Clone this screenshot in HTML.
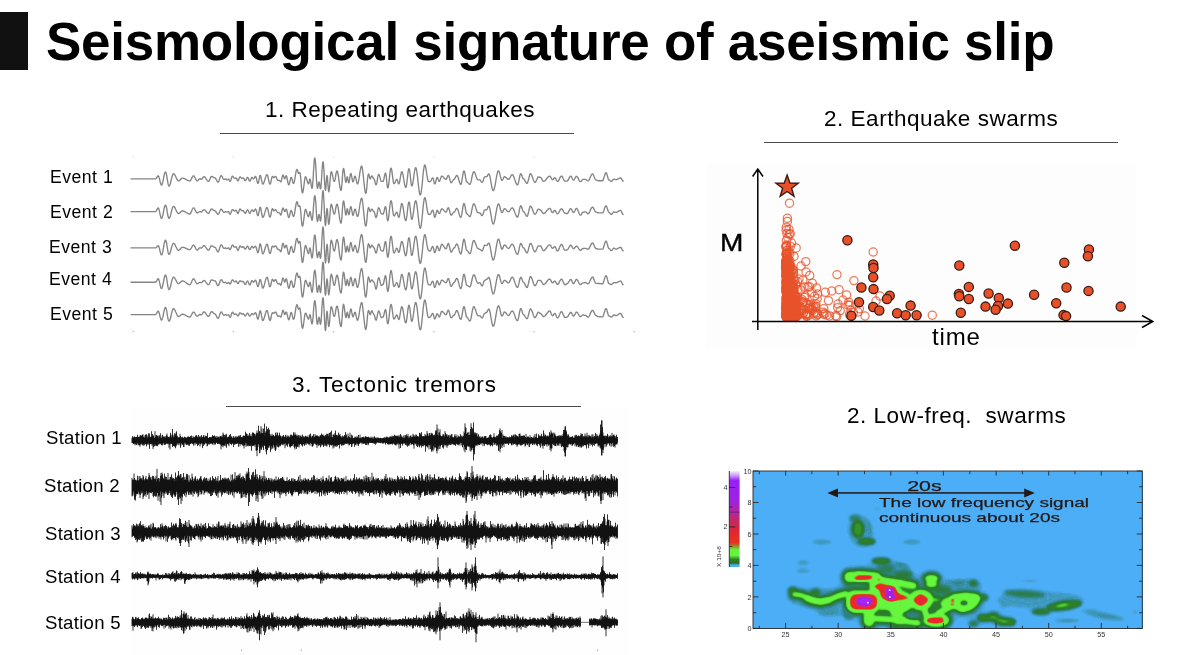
<!DOCTYPE html>
<html><head><meta charset="utf-8"><title>Seismological signature of aseismic slip</title>
<style>
html,body{margin:0;padding:0;background:#fff;}
body{width:1199px;height:655px;overflow:hidden;position:relative;font-family:"Liberation Sans",sans-serif;color:#000;}
.t{position:absolute;white-space:nowrap;line-height:1;will-change:transform;}
#bar{position:absolute;left:0;top:12px;width:28px;height:58px;background:#111;}
#title{left:45.5px;top:14.8px;font-size:53px;font-weight:bold;letter-spacing:-0.27px;}
.h{font-size:22.5px;}
.ev{font-size:17.6px;letter-spacing:0.5px;}
.stn{font-size:18.6px;letter-spacing:0.27px;}
.ln{position:absolute;height:1px;background:#4a4a4a;}
svg{position:absolute;left:0;top:0;}
</style></head>
<body>
<svg width="1199" height="655" viewBox="0 0 1199 655">
<rect x="131" y="408" width="500" height="247" fill="#fefefe"/>
<g fill="#b4b4b4"><rect x="132.6" y="331" width="1.2" height="1.2"/><rect x="232.8" y="331" width="1.2" height="1.2"/><rect x="333" y="331" width="1.2" height="1.2"/><rect x="433.2" y="331" width="1.2" height="1.2"/><rect x="533.4" y="331" width="1.2" height="1.2"/><rect x="633.6" y="331" width="1.2" height="1.2"/></g>
<g fill="#dcdcdc"><rect x="132.6" y="156.5" width="1.2" height="1.2"/><rect x="232.8" y="156.5" width="1.2" height="1.2"/><rect x="333" y="156.5" width="1.2" height="1.2"/><rect x="433.2" y="156.5" width="1.2" height="1.2"/><rect x="533.4" y="156.5" width="1.2" height="1.2"/></g>
<g fill="#a8a8a8"><rect x="241" y="649.6" width="1.1" height="1.3"/><rect x="300.8" y="649.6" width="1.1" height="1.3"/><rect x="597" y="649.6" width="1.1" height="1.3"/></g>
<rect x="707" y="164" width="430" height="185" fill="#fdfdfd"/>
<g fill="none" stroke="#e8532b" stroke-opacity="0.78" stroke-width="1.25">
<circle cx="787.4" cy="300.3" r="4.1"/>
<circle cx="787.5" cy="302.6" r="4.1"/>
<circle cx="786.5" cy="302.4" r="4.1"/>
<circle cx="790.5" cy="315.4" r="4.1"/>
<circle cx="790.0" cy="292.7" r="4.1"/>
<circle cx="787.4" cy="259.6" r="4.1"/>
<circle cx="792.5" cy="313.9" r="4.1"/>
<circle cx="786.4" cy="313.1" r="4.1"/>
<circle cx="787.5" cy="305.3" r="4.1"/>
<circle cx="787.8" cy="296.0" r="4.1"/>
<circle cx="796.6" cy="304.7" r="4.1"/>
<circle cx="799.0" cy="279.0" r="4.1"/>
<circle cx="791.3" cy="309.5" r="4.1"/>
<circle cx="786.2" cy="287.0" r="4.1"/>
<circle cx="787.2" cy="278.1" r="4.1"/>
<circle cx="785.6" cy="266.7" r="4.1"/>
<circle cx="786.7" cy="266.9" r="4.1"/>
<circle cx="800.5" cy="306.9" r="4.1"/>
<circle cx="792.3" cy="310.9" r="4.1"/>
<circle cx="794.0" cy="287.7" r="4.1"/>
<circle cx="786.8" cy="311.6" r="4.1"/>
<circle cx="789.8" cy="313.4" r="4.1"/>
<circle cx="787.4" cy="313.1" r="4.1"/>
<circle cx="789.7" cy="295.8" r="4.1"/>
<circle cx="786.6" cy="310.9" r="4.1"/>
<circle cx="789.9" cy="309.9" r="4.1"/>
<circle cx="786.6" cy="307.0" r="4.1"/>
<circle cx="788.5" cy="315.3" r="4.1"/>
<circle cx="786.6" cy="311.2" r="4.1"/>
<circle cx="787.7" cy="310.1" r="4.1"/>
<circle cx="788.1" cy="311.7" r="4.1"/>
<circle cx="787.1" cy="304.8" r="4.1"/>
<circle cx="787.6" cy="299.6" r="4.1"/>
<circle cx="786.5" cy="314.0" r="4.1"/>
<circle cx="796.0" cy="311.5" r="4.1"/>
<circle cx="792.8" cy="312.9" r="4.1"/>
<circle cx="792.0" cy="298.1" r="4.1"/>
<circle cx="786.1" cy="303.2" r="4.1"/>
<circle cx="786.7" cy="281.1" r="4.1"/>
<circle cx="793.9" cy="310.2" r="4.1"/>
<circle cx="786.2" cy="312.1" r="4.1"/>
<circle cx="797.9" cy="297.5" r="4.1"/>
<circle cx="790.1" cy="317.1" r="4.1"/>
<circle cx="790.7" cy="313.4" r="4.1"/>
<circle cx="786.3" cy="308.1" r="4.1"/>
<circle cx="795.4" cy="295.0" r="4.1"/>
<circle cx="789.1" cy="299.1" r="4.1"/>
<circle cx="787.7" cy="266.9" r="4.1"/>
<circle cx="793.9" cy="317.0" r="4.1"/>
<circle cx="787.6" cy="290.0" r="4.1"/>
<circle cx="786.9" cy="313.0" r="4.1"/>
<circle cx="787.9" cy="269.1" r="4.1"/>
<circle cx="788.9" cy="284.4" r="4.1"/>
<circle cx="791.9" cy="308.4" r="4.1"/>
<circle cx="786.5" cy="274.5" r="4.1"/>
<circle cx="787.0" cy="275.7" r="4.1"/>
<circle cx="788.4" cy="307.4" r="4.1"/>
<circle cx="788.3" cy="315.7" r="4.1"/>
<circle cx="787.8" cy="273.0" r="4.1"/>
<circle cx="787.2" cy="289.6" r="4.1"/>
<circle cx="788.1" cy="305.3" r="4.1"/>
<circle cx="786.2" cy="288.4" r="4.1"/>
<circle cx="786.1" cy="298.2" r="4.1"/>
<circle cx="786.6" cy="292.3" r="4.1"/>
<circle cx="787.7" cy="297.5" r="4.1"/>
<circle cx="792.1" cy="317.3" r="4.1"/>
<circle cx="786.5" cy="313.6" r="4.1"/>
<circle cx="788.6" cy="305.3" r="4.1"/>
<circle cx="787.0" cy="294.5" r="4.1"/>
<circle cx="786.5" cy="305.7" r="4.1"/>
<circle cx="786.4" cy="272.9" r="4.1"/>
<circle cx="792.1" cy="309.5" r="4.1"/>
<circle cx="790.4" cy="277.8" r="4.1"/>
<circle cx="786.2" cy="254.6" r="4.1"/>
<circle cx="788.2" cy="304.9" r="4.1"/>
<circle cx="787.3" cy="296.9" r="4.1"/>
<circle cx="786.9" cy="279.1" r="4.1"/>
<circle cx="795.9" cy="304.9" r="4.1"/>
<circle cx="790.9" cy="316.6" r="4.1"/>
<circle cx="788.0" cy="309.7" r="4.1"/>
<circle cx="786.0" cy="314.4" r="4.1"/>
<circle cx="786.1" cy="280.3" r="4.1"/>
<circle cx="791.7" cy="314.3" r="4.1"/>
<circle cx="787.4" cy="296.6" r="4.1"/>
<circle cx="786.0" cy="276.4" r="4.1"/>
<circle cx="791.3" cy="313.4" r="4.1"/>
<circle cx="791.8" cy="313.4" r="4.1"/>
<circle cx="788.9" cy="302.1" r="4.1"/>
<circle cx="789.4" cy="307.0" r="4.1"/>
<circle cx="791.7" cy="315.6" r="4.1"/>
<circle cx="789.1" cy="314.6" r="4.1"/>
<circle cx="786.4" cy="266.9" r="4.1"/>
<circle cx="788.3" cy="273.1" r="4.1"/>
<circle cx="792.9" cy="304.4" r="4.1"/>
<circle cx="786.6" cy="290.6" r="4.1"/>
<circle cx="790.1" cy="296.0" r="4.1"/>
<circle cx="792.3" cy="269.1" r="4.1"/>
<circle cx="795.1" cy="301.3" r="4.1"/>
<circle cx="788.9" cy="266.9" r="4.1"/>
<circle cx="791.4" cy="315.7" r="4.1"/>
<circle cx="796.0" cy="303.5" r="4.1"/>
<circle cx="786.2" cy="283.7" r="4.1"/>
<circle cx="786.5" cy="308.9" r="4.1"/>
<circle cx="786.4" cy="314.1" r="4.1"/>
<circle cx="789.1" cy="279.0" r="4.1"/>
<circle cx="786.8" cy="256.3" r="4.1"/>
<circle cx="797.4" cy="315.6" r="4.1"/>
<circle cx="786.8" cy="290.1" r="4.1"/>
<circle cx="788.4" cy="302.0" r="4.1"/>
<circle cx="794.7" cy="309.7" r="4.1"/>
<circle cx="791.5" cy="312.6" r="4.1"/>
<circle cx="794.3" cy="301.9" r="4.1"/>
<circle cx="786.5" cy="301.4" r="4.1"/>
<circle cx="788.2" cy="316.9" r="4.1"/>
<circle cx="787.7" cy="306.8" r="4.1"/>
<circle cx="788.0" cy="303.3" r="4.1"/>
<circle cx="793.8" cy="301.3" r="4.1"/>
<circle cx="792.2" cy="310.9" r="4.1"/>
<circle cx="786.3" cy="305.6" r="4.1"/>
<circle cx="793.1" cy="303.9" r="4.1"/>
<circle cx="785.8" cy="263.0" r="4.1"/>
<circle cx="791.4" cy="317.0" r="4.1"/>
<circle cx="793.7" cy="309.3" r="4.1"/>
<circle cx="786.3" cy="289.9" r="4.1"/>
<circle cx="787.9" cy="302.5" r="4.1"/>
<circle cx="791.1" cy="305.4" r="4.1"/>
<circle cx="792.9" cy="313.8" r="4.1"/>
<circle cx="788.4" cy="301.7" r="4.1"/>
<circle cx="786.1" cy="276.7" r="4.1"/>
<circle cx="789.2" cy="282.6" r="4.1"/>
<circle cx="799.0" cy="309.5" r="4.1"/>
<circle cx="785.8" cy="264.2" r="4.1"/>
<circle cx="786.7" cy="290.3" r="4.1"/>
<circle cx="786.7" cy="315.4" r="4.1"/>
<circle cx="787.3" cy="284.7" r="4.1"/>
<circle cx="786.3" cy="306.7" r="4.1"/>
<circle cx="786.0" cy="312.8" r="4.1"/>
<circle cx="791.8" cy="310.6" r="4.1"/>
<circle cx="789.4" cy="302.8" r="4.1"/>
<circle cx="786.8" cy="316.0" r="4.1"/>
<circle cx="787.9" cy="302.3" r="4.1"/>
<circle cx="793.1" cy="313.2" r="4.1"/>
<circle cx="785.8" cy="262.6" r="4.1"/>
<circle cx="786.7" cy="254.0" r="4.1"/>
<circle cx="789.5" cy="309.2" r="4.1"/>
<circle cx="787.7" cy="305.7" r="4.1"/>
<circle cx="786.0" cy="292.1" r="4.1"/>
<circle cx="790.5" cy="313.3" r="4.1"/>
<circle cx="790.5" cy="306.6" r="4.1"/>
<circle cx="787.7" cy="317.2" r="4.1"/>
<circle cx="789.9" cy="291.9" r="4.1"/>
<circle cx="795.5" cy="296.7" r="4.1"/>
<circle cx="786.1" cy="269.2" r="4.1"/>
<circle cx="791.8" cy="288.9" r="4.1"/>
<circle cx="789.6" cy="282.1" r="4.1"/>
<circle cx="789.2" cy="269.9" r="4.1"/>
<circle cx="788.8" cy="286.9" r="4.1"/>
<circle cx="789.5" cy="306.6" r="4.1"/>
<circle cx="786.2" cy="308.7" r="4.1"/>
<circle cx="786.0" cy="308.3" r="4.1"/>
<circle cx="788.3" cy="312.0" r="4.1"/>
<circle cx="788.6" cy="308.8" r="4.1"/>
<circle cx="796.0" cy="301.5" r="4.1"/>
<circle cx="788.5" cy="292.1" r="4.1"/>
<circle cx="789.4" cy="316.1" r="4.1"/>
<circle cx="789.6" cy="311.3" r="4.1"/>
<circle cx="788.5" cy="307.6" r="4.1"/>
<circle cx="791.7" cy="300.7" r="4.1"/>
<circle cx="794.2" cy="299.9" r="4.1"/>
<circle cx="788.4" cy="282.7" r="4.1"/>
<circle cx="786.2" cy="298.4" r="4.1"/>
<circle cx="785.9" cy="261.6" r="4.1"/>
<circle cx="787.5" cy="313.6" r="4.1"/>
<circle cx="788.3" cy="316.2" r="4.1"/>
<circle cx="787.3" cy="301.8" r="4.1"/>
<circle cx="787.1" cy="310.4" r="4.1"/>
<circle cx="788.0" cy="310.5" r="4.1"/>
<circle cx="787.2" cy="317.2" r="4.1"/>
<circle cx="786.4" cy="288.0" r="4.1"/>
<circle cx="787.9" cy="269.7" r="4.1"/>
<circle cx="785.7" cy="260.8" r="4.1"/>
<circle cx="791.7" cy="305.7" r="4.1"/>
<circle cx="794.7" cy="311.6" r="4.1"/>
<circle cx="792.6" cy="290.6" r="4.1"/>
<circle cx="787.2" cy="268.5" r="4.1"/>
<circle cx="786.3" cy="296.9" r="4.1"/>
<circle cx="786.5" cy="316.4" r="4.1"/>
<circle cx="786.3" cy="305.2" r="4.1"/>
<circle cx="787.5" cy="311.1" r="4.1"/>
<circle cx="787.3" cy="285.9" r="4.1"/>
<circle cx="787.9" cy="260.3" r="4.1"/>
<circle cx="786.7" cy="315.0" r="4.1"/>
<circle cx="791.9" cy="296.9" r="4.1"/>
<circle cx="788.8" cy="300.0" r="4.1"/>
<circle cx="788.4" cy="288.1" r="4.1"/>
<circle cx="786.5" cy="311.5" r="4.1"/>
<circle cx="785.7" cy="273.2" r="4.1"/>
<circle cx="791.1" cy="310.9" r="4.1"/>
<circle cx="787.0" cy="301.1" r="4.1"/>
<circle cx="788.7" cy="300.7" r="4.1"/>
<circle cx="789.9" cy="303.8" r="4.1"/>
<circle cx="789.3" cy="279.2" r="4.1"/>
<circle cx="786.2" cy="314.8" r="4.1"/>
<circle cx="788.3" cy="286.8" r="4.1"/>
<circle cx="793.1" cy="305.9" r="4.1"/>
<circle cx="787.1" cy="295.2" r="4.1"/>
<circle cx="796.9" cy="309.2" r="4.1"/>
<circle cx="786.5" cy="264.2" r="4.1"/>
<circle cx="787.1" cy="315.4" r="4.1"/>
<circle cx="786.2" cy="315.7" r="4.1"/>
<circle cx="787.6" cy="293.2" r="4.1"/>
<circle cx="786.9" cy="286.1" r="4.1"/>
<circle cx="786.2" cy="312.5" r="4.1"/>
<circle cx="786.2" cy="309.9" r="4.1"/>
<circle cx="791.7" cy="310.5" r="4.1"/>
<circle cx="794.8" cy="307.9" r="4.1"/>
<circle cx="790.4" cy="264.8" r="4.1"/>
<circle cx="791.9" cy="305.4" r="4.1"/>
<circle cx="794.3" cy="309.5" r="4.1"/>
<circle cx="794.3" cy="311.5" r="4.1"/>
<circle cx="788.6" cy="306.9" r="4.1"/>
<circle cx="788.0" cy="284.0" r="4.1"/>
<circle cx="787.9" cy="279.5" r="4.1"/>
<circle cx="788.0" cy="313.4" r="4.1"/>
<circle cx="795.2" cy="310.6" r="4.1"/>
<circle cx="787.9" cy="299.9" r="4.1"/>
<circle cx="788.5" cy="283.2" r="4.1"/>
<circle cx="786.2" cy="300.9" r="4.1"/>
<circle cx="786.2" cy="315.7" r="4.1"/>
<circle cx="791.5" cy="315.6" r="4.1"/>
<circle cx="786.4" cy="288.7" r="4.1"/>
<circle cx="794.6" cy="311.6" r="4.1"/>
<circle cx="787.8" cy="287.1" r="4.1"/>
<circle cx="787.2" cy="308.8" r="4.1"/>
<circle cx="788.7" cy="303.2" r="4.1"/>
<circle cx="789.1" cy="291.6" r="4.1"/>
<circle cx="791.9" cy="306.4" r="4.1"/>
<circle cx="788.4" cy="277.2" r="4.1"/>
<circle cx="791.0" cy="271.4" r="4.1"/>
<circle cx="788.5" cy="301.9" r="4.1"/>
<circle cx="791.1" cy="306.0" r="4.1"/>
<circle cx="789.2" cy="295.0" r="4.1"/>
<circle cx="788.8" cy="312.7" r="4.1"/>
<circle cx="795.3" cy="316.2" r="4.1"/>
<circle cx="788.5" cy="286.1" r="4.1"/>
<circle cx="786.5" cy="316.1" r="4.1"/>
<circle cx="785.7" cy="267.1" r="4.1"/>
<circle cx="788.2" cy="313.2" r="4.1"/>
<circle cx="790.5" cy="298.5" r="4.1"/>
<circle cx="786.8" cy="313.5" r="4.1"/>
<circle cx="786.9" cy="300.8" r="4.1"/>
<circle cx="787.6" cy="311.2" r="4.1"/>
<circle cx="791.9" cy="308.7" r="4.1"/>
<circle cx="794.0" cy="303.7" r="4.1"/>
<circle cx="793.1" cy="283.6" r="4.1"/>
<circle cx="787.2" cy="301.8" r="4.1"/>
<circle cx="786.8" cy="278.0" r="4.1"/>
<circle cx="786.7" cy="317.3" r="4.1"/>
<circle cx="787.1" cy="284.0" r="4.1"/>
<circle cx="790.3" cy="297.9" r="4.1"/>
<circle cx="786.9" cy="311.2" r="4.1"/>
<circle cx="787.7" cy="296.2" r="4.1"/>
<circle cx="792.9" cy="301.4" r="4.1"/>
<circle cx="786.0" cy="281.3" r="4.1"/>
<circle cx="790.5" cy="281.2" r="4.1"/>
<circle cx="786.2" cy="310.9" r="4.1"/>
<circle cx="786.2" cy="303.8" r="4.1"/>
<circle cx="793.5" cy="298.9" r="4.1"/>
<circle cx="786.9" cy="284.8" r="4.1"/>
<circle cx="785.8" cy="265.3" r="4.1"/>
<circle cx="790.2" cy="312.6" r="4.1"/>
<circle cx="787.8" cy="313.9" r="4.1"/>
<circle cx="789.3" cy="309.7" r="4.1"/>
<circle cx="787.5" cy="291.1" r="4.1"/>
<circle cx="787.1" cy="293.1" r="4.1"/>
<circle cx="786.3" cy="307.0" r="4.1"/>
<circle cx="794.2" cy="280.3" r="4.1"/>
<circle cx="794.2" cy="317.2" r="4.1"/>
<circle cx="786.7" cy="300.1" r="4.1"/>
<circle cx="786.0" cy="269.5" r="4.1"/>
<circle cx="792.6" cy="310.3" r="4.1"/>
<circle cx="792.2" cy="308.9" r="4.1"/>
<circle cx="786.7" cy="312.8" r="4.1"/>
<circle cx="787.0" cy="256.6" r="4.1"/>
<circle cx="789.1" cy="309.0" r="4.1"/>
<circle cx="791.7" cy="314.3" r="4.1"/>
<circle cx="795.7" cy="313.3" r="4.1"/>
<circle cx="789.4" cy="315.5" r="4.1"/>
<circle cx="793.7" cy="306.5" r="4.1"/>
<circle cx="787.3" cy="302.5" r="4.1"/>
<circle cx="789.5" cy="281.4" r="4.1"/>
<circle cx="787.3" cy="309.0" r="4.1"/>
<circle cx="787.2" cy="292.2" r="4.1"/>
<circle cx="795.6" cy="284.8" r="4.1"/>
<circle cx="791.2" cy="297.8" r="4.1"/>
<circle cx="787.0" cy="295.4" r="4.1"/>
<circle cx="786.3" cy="307.5" r="4.1"/>
<circle cx="789.7" cy="280.9" r="4.1"/>
<circle cx="788.3" cy="313.9" r="4.1"/>
<circle cx="795.6" cy="300.8" r="4.1"/>
<circle cx="786.4" cy="291.3" r="4.1"/>
<circle cx="796.4" cy="302.3" r="4.1"/>
<circle cx="790.3" cy="312.9" r="4.1"/>
<circle cx="790.3" cy="312.9" r="4.1"/>
<circle cx="788.1" cy="292.4" r="4.1"/>
<circle cx="786.4" cy="261.9" r="4.1"/>
<circle cx="787.5" cy="314.7" r="4.1"/>
<circle cx="786.9" cy="268.3" r="4.1"/>
<circle cx="795.2" cy="300.2" r="4.1"/>
<circle cx="797.6" cy="281.8" r="4.1"/>
<circle cx="788.2" cy="314.8" r="4.1"/>
<circle cx="786.1" cy="269.8" r="4.1"/>
<circle cx="788.0" cy="280.2" r="4.1"/>
<circle cx="786.7" cy="300.8" r="4.1"/>
<circle cx="787.4" cy="261.1" r="4.1"/>
<circle cx="786.9" cy="294.1" r="4.1"/>
<circle cx="789.2" cy="307.4" r="4.1"/>
<circle cx="793.7" cy="317.2" r="4.1"/>
<circle cx="786.4" cy="307.2" r="4.1"/>
<circle cx="791.0" cy="302.1" r="4.1"/>
<circle cx="792.3" cy="295.9" r="4.1"/>
<circle cx="786.4" cy="281.5" r="4.1"/>
<circle cx="787.5" cy="306.4" r="4.1"/>
<circle cx="788.8" cy="287.7" r="4.1"/>
<circle cx="789.3" cy="303.5" r="4.1"/>
<circle cx="786.5" cy="276.9" r="4.1"/>
<circle cx="787.4" cy="300.0" r="4.1"/>
<circle cx="795.0" cy="301.9" r="4.1"/>
<circle cx="786.9" cy="316.3" r="4.1"/>
<circle cx="791.5" cy="289.8" r="4.1"/>
<circle cx="788.2" cy="288.2" r="4.1"/>
<circle cx="787.9" cy="298.6" r="4.1"/>
<circle cx="787.8" cy="302.8" r="4.1"/>
<circle cx="791.3" cy="301.8" r="4.1"/>
<circle cx="794.5" cy="311.9" r="4.1"/>
<circle cx="794.1" cy="294.5" r="4.1"/>
<circle cx="790.8" cy="306.0" r="4.1"/>
<circle cx="786.6" cy="288.7" r="4.1"/>
<circle cx="785.8" cy="268.4" r="4.1"/>
<circle cx="789.8" cy="314.7" r="4.1"/>
<circle cx="795.6" cy="317.5" r="4.1"/>
<circle cx="786.9" cy="316.1" r="4.1"/>
<circle cx="794.7" cy="306.9" r="4.1"/>
<circle cx="786.1" cy="316.8" r="4.1"/>
<circle cx="786.9" cy="303.0" r="4.1"/>
<circle cx="797.4" cy="304.1" r="4.1"/>
<circle cx="786.0" cy="269.8" r="4.1"/>
<circle cx="790.4" cy="308.3" r="4.1"/>
<circle cx="793.6" cy="273.0" r="4.1"/>
<circle cx="793.6" cy="296.5" r="4.1"/>
<circle cx="786.1" cy="315.1" r="4.1"/>
<circle cx="789.1" cy="269.1" r="4.1"/>
<circle cx="789.0" cy="314.5" r="4.1"/>
<circle cx="794.5" cy="305.1" r="4.1"/>
<circle cx="786.9" cy="291.5" r="4.1"/>
<circle cx="791.8" cy="313.3" r="4.1"/>
<circle cx="789.8" cy="307.7" r="4.1"/>
<circle cx="793.6" cy="298.8" r="4.1"/>
<circle cx="792.3" cy="294.4" r="4.1"/>
<circle cx="794.6" cy="296.0" r="4.1"/>
<circle cx="787.4" cy="301.7" r="4.1"/>
<circle cx="788.1" cy="298.3" r="4.1"/>
<circle cx="795.9" cy="315.6" r="4.1"/>
<circle cx="786.7" cy="310.6" r="4.1"/>
<circle cx="793.1" cy="269.8" r="4.1"/>
<circle cx="786.1" cy="304.5" r="4.1"/>
<circle cx="786.8" cy="261.9" r="4.1"/>
<circle cx="786.5" cy="300.4" r="4.1"/>
<circle cx="787.1" cy="295.0" r="4.1"/>
<circle cx="789.7" cy="302.2" r="4.1"/>
<circle cx="790.5" cy="293.3" r="4.1"/>
<circle cx="785.9" cy="253.9" r="4.1"/>
<circle cx="789.6" cy="313.7" r="4.1"/>
<circle cx="786.6" cy="305.3" r="4.1"/>
<circle cx="789.7" cy="284.6" r="4.1"/>
<circle cx="791.3" cy="303.4" r="4.1"/>
<circle cx="787.7" cy="316.7" r="4.1"/>
<circle cx="789.0" cy="299.6" r="4.1"/>
<circle cx="790.4" cy="314.0" r="4.1"/>
<circle cx="793.8" cy="305.3" r="4.1"/>
<circle cx="787.0" cy="267.6" r="4.1"/>
<circle cx="787.9" cy="284.6" r="4.1"/>
<circle cx="787.0" cy="314.2" r="4.1"/>
<circle cx="786.9" cy="297.1" r="4.1"/>
<circle cx="793.3" cy="298.8" r="4.1"/>
<circle cx="792.0" cy="311.3" r="4.1"/>
<circle cx="790.3" cy="285.1" r="4.1"/>
<circle cx="787.9" cy="306.4" r="4.1"/>
<circle cx="794.5" cy="316.6" r="4.1"/>
<circle cx="789.4" cy="308.8" r="4.1"/>
<circle cx="796.4" cy="316.7" r="4.1"/>
<circle cx="789.8" cy="307.0" r="4.1"/>
<circle cx="786.2" cy="316.8" r="4.1"/>
<circle cx="789.5" cy="289.7" r="4.1"/>
<circle cx="786.6" cy="311.4" r="4.1"/>
<circle cx="786.7" cy="304.5" r="4.1"/>
<circle cx="787.1" cy="308.9" r="4.1"/>
<circle cx="793.5" cy="316.6" r="4.1"/>
<circle cx="786.1" cy="308.7" r="4.1"/>
<circle cx="790.8" cy="298.7" r="4.1"/>
<circle cx="787.5" cy="307.0" r="4.1"/>
<circle cx="787.2" cy="285.6" r="4.1"/>
<circle cx="791.0" cy="308.5" r="4.1"/>
<circle cx="790.2" cy="312.7" r="4.1"/>
<circle cx="786.9" cy="305.1" r="4.1"/>
<circle cx="786.0" cy="275.8" r="4.1"/>
<circle cx="787.2" cy="315.9" r="4.1"/>
<circle cx="788.5" cy="310.8" r="4.1"/>
<circle cx="786.7" cy="307.0" r="4.1"/>
<circle cx="790.2" cy="310.9" r="4.1"/>
<circle cx="792.6" cy="308.1" r="4.1"/>
<circle cx="785.6" cy="267.6" r="4.1"/>
<circle cx="794.0" cy="307.3" r="4.1"/>
<circle cx="786.9" cy="286.6" r="4.1"/>
<circle cx="789.7" cy="316.3" r="4.1"/>
<circle cx="786.1" cy="314.1" r="4.1"/>
<circle cx="790.4" cy="309.6" r="4.1"/>
<circle cx="786.4" cy="291.7" r="4.1"/>
<circle cx="786.7" cy="290.4" r="4.1"/>
<circle cx="790.9" cy="314.2" r="4.1"/>
<circle cx="795.9" cy="306.6" r="4.1"/>
<circle cx="788.3" cy="310.2" r="4.1"/>
<circle cx="786.1" cy="317.0" r="4.1"/>
<circle cx="788.0" cy="282.8" r="4.1"/>
<circle cx="794.9" cy="310.1" r="4.1"/>
<circle cx="792.0" cy="312.4" r="4.1"/>
<circle cx="789.0" cy="252.3" r="4.1"/>
<circle cx="790.1" cy="296.5" r="4.1"/>
<circle cx="789.8" cy="316.2" r="4.1"/>
<circle cx="790.9" cy="310.6" r="4.1"/>
<circle cx="787.5" cy="313.7" r="4.1"/>
<circle cx="790.0" cy="315.4" r="4.1"/>
<circle cx="786.4" cy="299.2" r="4.1"/>
<circle cx="787.9" cy="292.2" r="4.1"/>
<circle cx="786.6" cy="307.1" r="4.1"/>
<circle cx="787.2" cy="316.3" r="4.1"/>
<circle cx="790.1" cy="304.2" r="4.1"/>
<circle cx="786.1" cy="308.5" r="4.1"/>
<circle cx="788.0" cy="311.1" r="4.1"/>
<circle cx="786.5" cy="304.2" r="4.1"/>
<circle cx="793.4" cy="308.0" r="4.1"/>
<circle cx="792.8" cy="286.5" r="4.1"/>
<circle cx="791.7" cy="297.1" r="4.1"/>
<circle cx="786.8" cy="280.3" r="4.1"/>
<circle cx="791.1" cy="307.4" r="4.1"/>
<circle cx="786.1" cy="314.4" r="4.1"/>
<circle cx="786.9" cy="308.1" r="4.1"/>
<circle cx="791.8" cy="313.0" r="4.1"/>
<circle cx="786.6" cy="317.5" r="4.1"/>
<circle cx="787.2" cy="311.8" r="4.1"/>
<circle cx="788.5" cy="300.8" r="4.1"/>
<circle cx="788.0" cy="280.2" r="4.1"/>
<circle cx="801.4" cy="309.0" r="4.1"/>
<circle cx="786.9" cy="291.1" r="4.1"/>
<circle cx="788.9" cy="293.1" r="4.1"/>
<circle cx="794.0" cy="281.0" r="4.1"/>
<circle cx="786.4" cy="297.1" r="4.1"/>
<circle cx="794.0" cy="307.8" r="4.1"/>
<circle cx="790.4" cy="311.8" r="4.1"/>
<circle cx="787.0" cy="302.4" r="4.1"/>
<circle cx="786.2" cy="315.2" r="4.1"/>
<circle cx="786.3" cy="304.9" r="4.1"/>
<circle cx="787.6" cy="313.8" r="4.1"/>
<circle cx="795.0" cy="316.3" r="4.1"/>
<circle cx="789.8" cy="307.0" r="4.1"/>
<circle cx="786.7" cy="291.1" r="4.1"/>
<circle cx="786.9" cy="309.0" r="4.1"/>
<circle cx="790.4" cy="280.5" r="4.1"/>
<circle cx="788.0" cy="306.0" r="4.1"/>
<circle cx="788.3" cy="280.2" r="4.1"/>
<circle cx="795.2" cy="314.7" r="4.1"/>
<circle cx="791.3" cy="313.2" r="4.1"/>
<circle cx="792.8" cy="309.5" r="4.1"/>
<circle cx="794.8" cy="296.5" r="4.1"/>
<circle cx="796.8" cy="316.5" r="4.1"/>
<circle cx="792.2" cy="316.6" r="4.1"/>
<circle cx="798.3" cy="314.8" r="4.1"/>
<circle cx="790.4" cy="303.6" r="4.1"/>
<circle cx="789.9" cy="279.2" r="4.1"/>
<circle cx="786.8" cy="307.1" r="4.1"/>
<circle cx="789.5" cy="294.1" r="4.1"/>
<circle cx="788.8" cy="300.9" r="4.1"/>
<circle cx="793.8" cy="313.5" r="4.1"/>
<circle cx="789.3" cy="303.4" r="4.1"/>
<circle cx="791.0" cy="300.0" r="4.1"/>
<circle cx="786.8" cy="312.1" r="4.1"/>
<circle cx="787.6" cy="311.2" r="4.1"/>
<circle cx="792.8" cy="309.7" r="4.1"/>
<circle cx="787.6" cy="305.4" r="4.1"/>
<circle cx="787.6" cy="306.3" r="4.1"/>
<circle cx="787.2" cy="316.3" r="4.1"/>
<circle cx="796.1" cy="297.0" r="4.1"/>
<circle cx="790.8" cy="290.9" r="4.1"/>
<circle cx="790.3" cy="290.4" r="4.1"/>
<circle cx="787.4" cy="316.9" r="4.1"/>
<circle cx="786.2" cy="308.2" r="4.1"/>
<circle cx="788.6" cy="302.3" r="4.1"/>
<circle cx="793.7" cy="317.3" r="4.1"/>
<circle cx="790.0" cy="284.5" r="4.1"/>
<circle cx="789.2" cy="306.8" r="4.1"/>
<circle cx="790.2" cy="286.8" r="4.1"/>
<circle cx="796.2" cy="315.3" r="4.1"/>
<circle cx="787.2" cy="291.8" r="4.1"/>
<circle cx="785.6" cy="267.0" r="4.1"/>
<circle cx="791.0" cy="312.1" r="4.1"/>
<circle cx="788.6" cy="282.5" r="4.1"/>
<circle cx="789.3" cy="296.2" r="4.1"/>
<circle cx="794.3" cy="309.4" r="4.1"/>
<circle cx="789.2" cy="312.5" r="4.1"/>
<circle cx="787.9" cy="293.6" r="4.1"/>
<circle cx="789.3" cy="315.2" r="4.1"/>
<circle cx="787.4" cy="317.3" r="4.1"/>
<circle cx="787.2" cy="309.4" r="4.1"/>
<circle cx="793.3" cy="312.7" r="4.1"/>
<circle cx="786.9" cy="288.0" r="4.1"/>
<circle cx="786.3" cy="291.7" r="4.1"/>
<circle cx="799.5" cy="312.3" r="4.1"/>
<circle cx="786.5" cy="310.8" r="4.1"/>
<circle cx="795.9" cy="309.3" r="4.1"/>
<circle cx="796.9" cy="314.1" r="4.1"/>
<circle cx="792.1" cy="295.8" r="4.1"/>
<circle cx="787.3" cy="276.8" r="4.1"/>
<circle cx="794.4" cy="299.9" r="4.1"/>
<circle cx="788.8" cy="304.8" r="4.1"/>
<circle cx="792.1" cy="307.3" r="4.1"/>
<circle cx="793.1" cy="302.3" r="4.1"/>
<circle cx="787.4" cy="298.6" r="4.1"/>
<circle cx="792.4" cy="314.0" r="4.1"/>
<circle cx="797.9" cy="289.4" r="4.1"/>
<circle cx="786.9" cy="289.5" r="4.1"/>
<circle cx="796.9" cy="306.7" r="4.1"/>
<circle cx="786.3" cy="288.0" r="4.1"/>
<circle cx="786.6" cy="279.0" r="4.1"/>
<circle cx="788.6" cy="259.2" r="4.1"/>
<circle cx="789.8" cy="302.5" r="4.1"/>
<circle cx="787.7" cy="274.6" r="4.1"/>
<circle cx="786.7" cy="282.9" r="4.1"/>
<circle cx="787.5" cy="301.4" r="4.1"/>
<circle cx="786.5" cy="310.6" r="4.1"/>
<circle cx="786.2" cy="300.5" r="4.1"/>
<circle cx="787.6" cy="311.7" r="4.1"/>
<circle cx="790.6" cy="286.6" r="4.1"/>
<circle cx="788.3" cy="267.9" r="4.1"/>
<circle cx="786.7" cy="307.9" r="4.1"/>
<circle cx="788.7" cy="275.5" r="4.1"/>
<circle cx="793.1" cy="313.3" r="4.1"/>
<circle cx="785.7" cy="268.8" r="4.1"/>
<circle cx="796.6" cy="312.6" r="4.1"/>
<circle cx="791.0" cy="290.2" r="4.1"/>
<circle cx="786.5" cy="294.3" r="4.1"/>
<circle cx="789.9" cy="317.2" r="4.1"/>
<circle cx="788.4" cy="310.6" r="4.1"/>
<circle cx="794.4" cy="313.3" r="4.1"/>
<circle cx="795.0" cy="314.6" r="4.1"/>
<circle cx="796.2" cy="308.2" r="4.1"/>
<circle cx="788.8" cy="289.5" r="4.1"/>
<circle cx="788.2" cy="309.7" r="4.1"/>
<circle cx="788.4" cy="305.9" r="4.1"/>
<circle cx="787.3" cy="304.7" r="4.1"/>
<circle cx="792.8" cy="308.6" r="4.1"/>
<circle cx="786.6" cy="274.7" r="4.1"/>
<circle cx="786.7" cy="250.8" r="4.1"/>
<circle cx="786.7" cy="253.5" r="4.1"/>
<circle cx="788.5" cy="279.9" r="4.1"/>
<circle cx="792.0" cy="282.2" r="4.1"/>
<circle cx="789.0" cy="273.6" r="4.1"/>
<circle cx="787.3" cy="290.7" r="4.1"/>
<circle cx="787.2" cy="285.4" r="4.1"/>
<circle cx="786.2" cy="230.2" r="4.1"/>
<circle cx="788.6" cy="269.7" r="4.1"/>
<circle cx="786.6" cy="281.4" r="4.1"/>
<circle cx="786.1" cy="246.9" r="4.1"/>
<circle cx="787.2" cy="283.6" r="4.1"/>
<circle cx="789.8" cy="254.0" r="4.1"/>
<circle cx="788.0" cy="276.2" r="4.1"/>
<circle cx="785.7" cy="246.6" r="4.1"/>
<circle cx="787.0" cy="282.6" r="4.1"/>
<circle cx="788.8" cy="269.9" r="4.1"/>
<circle cx="790.4" cy="246.4" r="4.1"/>
<circle cx="786.1" cy="272.0" r="4.1"/>
<circle cx="787.4" cy="283.0" r="4.1"/>
<circle cx="787.4" cy="284.4" r="4.1"/>
<circle cx="788.4" cy="273.4" r="4.1"/>
<circle cx="793.7" cy="289.7" r="4.1"/>
<circle cx="787.1" cy="256.7" r="4.1"/>
<circle cx="788.3" cy="267.9" r="4.1"/>
<circle cx="794.0" cy="290.6" r="4.1"/>
<circle cx="787.4" cy="281.7" r="4.1"/>
<circle cx="788.3" cy="287.1" r="4.1"/>
<circle cx="794.0" cy="287.3" r="4.1"/>
<circle cx="787.0" cy="288.9" r="4.1"/>
<circle cx="787.1" cy="264.9" r="4.1"/>
<circle cx="786.2" cy="288.3" r="4.1"/>
<circle cx="788.3" cy="272.5" r="4.1"/>
<circle cx="789.0" cy="286.2" r="4.1"/>
<circle cx="789.7" cy="265.7" r="4.1"/>
<circle cx="789.3" cy="289.5" r="4.1"/>
<circle cx="787.4" cy="291.7" r="4.1"/>
<circle cx="789.2" cy="234.2" r="4.1"/>
<circle cx="786.1" cy="283.4" r="4.1"/>
<circle cx="787.7" cy="276.7" r="4.1"/>
<circle cx="786.3" cy="260.9" r="4.1"/>
<circle cx="786.8" cy="277.8" r="4.1"/>
<circle cx="786.3" cy="275.2" r="4.1"/>
<circle cx="786.3" cy="290.1" r="4.1"/>
<circle cx="787.6" cy="285.0" r="4.1"/>
<circle cx="789.3" cy="286.3" r="4.1"/>
<circle cx="787.2" cy="290.9" r="4.1"/>
<circle cx="786.5" cy="280.0" r="4.1"/>
<circle cx="787.8" cy="279.7" r="4.1"/>
<circle cx="790.2" cy="289.8" r="4.1"/>
<circle cx="790.2" cy="288.6" r="4.1"/>
<circle cx="793.7" cy="277.1" r="4.1"/>
<circle cx="787.1" cy="273.1" r="4.1"/>
<circle cx="790.4" cy="266.5" r="4.1"/>
<circle cx="786.0" cy="288.7" r="4.1"/>
<circle cx="789.8" cy="265.5" r="4.1"/>
<circle cx="788.7" cy="288.6" r="4.1"/>
<circle cx="787.7" cy="291.4" r="4.1"/>
<circle cx="786.3" cy="284.8" r="4.1"/>
<circle cx="793.5" cy="271.4" r="4.1"/>
<circle cx="790.1" cy="291.1" r="4.1"/>
<circle cx="787.2" cy="290.4" r="4.1"/>
<circle cx="786.7" cy="289.6" r="4.1"/>
<circle cx="791.5" cy="284.0" r="4.1"/>
<circle cx="787.5" cy="270.8" r="4.1"/>
<circle cx="786.9" cy="233.5" r="4.1"/>
<circle cx="786.4" cy="245.2" r="4.1"/>
<circle cx="786.8" cy="265.1" r="4.1"/>
<circle cx="786.7" cy="282.8" r="4.1"/>
<circle cx="787.2" cy="279.0" r="4.1"/>
<circle cx="787.0" cy="280.7" r="4.1"/>
<circle cx="787.3" cy="291.0" r="4.1"/>
<circle cx="790.0" cy="290.7" r="4.1"/>
<circle cx="787.7" cy="276.1" r="4.1"/>
<circle cx="787.1" cy="287.0" r="4.1"/>
<circle cx="786.2" cy="282.7" r="4.1"/>
<circle cx="786.8" cy="278.8" r="4.1"/>
<circle cx="786.6" cy="264.3" r="4.1"/>
<circle cx="787.5" cy="291.8" r="4.1"/>
<circle cx="787.1" cy="250.3" r="4.1"/>
<circle cx="786.3" cy="227.2" r="4.1"/>
<circle cx="788.0" cy="282.8" r="4.1"/>
<circle cx="786.8" cy="273.2" r="4.1"/>
<circle cx="788.0" cy="284.4" r="4.1"/>
<circle cx="787.5" cy="277.5" r="4.1"/>
<circle cx="789.1" cy="290.9" r="4.1"/>
<circle cx="786.2" cy="286.2" r="4.1"/>
<circle cx="786.7" cy="260.2" r="4.1"/>
<circle cx="787.2" cy="252.7" r="4.1"/>
<circle cx="787.1" cy="285.3" r="4.1"/>
<circle cx="788.5" cy="290.2" r="4.1"/>
<circle cx="794.0" cy="256.4" r="4.1"/>
<circle cx="786.9" cy="284.4" r="4.1"/>
<circle cx="789.8" cy="260.9" r="4.1"/>
<circle cx="788.3" cy="290.8" r="4.1"/>
<circle cx="789.2" cy="291.0" r="4.1"/>
<circle cx="788.2" cy="275.9" r="4.1"/>
<circle cx="791.8" cy="271.6" r="4.1"/>
<circle cx="787.8" cy="237.5" r="4.1"/>
<circle cx="787.9" cy="291.9" r="4.1"/>
<circle cx="788.9" cy="281.2" r="4.1"/>
<circle cx="788.5" cy="286.7" r="4.1"/>
<circle cx="786.2" cy="261.6" r="4.1"/>
<circle cx="787.3" cy="264.1" r="4.1"/>
<circle cx="787.0" cy="280.1" r="4.1"/>
<circle cx="787.3" cy="289.5" r="4.1"/>
<circle cx="786.8" cy="265.5" r="4.1"/>
<circle cx="786.2" cy="289.5" r="4.1"/>
<circle cx="790.0" cy="270.1" r="4.1"/>
<circle cx="816.1" cy="315.8" r="4.1"/>
<circle cx="803.4" cy="313.3" r="4.1"/>
<circle cx="859.4" cy="308.8" r="4.1"/>
<circle cx="849.5" cy="314.6" r="4.1"/>
<circle cx="811.2" cy="309.3" r="4.1"/>
<circle cx="835.7" cy="315.7" r="4.1"/>
<circle cx="840.3" cy="310.6" r="4.1"/>
<circle cx="801.6" cy="311.3" r="4.1"/>
<circle cx="810.0" cy="305.8" r="4.1"/>
<circle cx="851.0" cy="310.2" r="4.1"/>
<circle cx="823.2" cy="312.1" r="4.1"/>
<circle cx="829.6" cy="315.9" r="4.1"/>
<circle cx="826.8" cy="315.2" r="4.1"/>
<circle cx="817.7" cy="314.7" r="4.1"/>
<circle cx="809.1" cy="315.2" r="4.1"/>
<circle cx="809.2" cy="308.0" r="4.1"/>
<circle cx="814.9" cy="312.1" r="4.1"/>
<circle cx="817.2" cy="298.5" r="4.1"/>
<circle cx="809.4" cy="308.2" r="4.1"/>
<circle cx="813.4" cy="306.5" r="4.1"/>
<circle cx="823.7" cy="314.3" r="4.1"/>
<circle cx="806.8" cy="303.9" r="4.1"/>
<circle cx="817.3" cy="314.0" r="4.1"/>
<circle cx="802.3" cy="299.6" r="4.1"/>
<circle cx="810.0" cy="304.4" r="4.1"/>
<circle cx="811.8" cy="307.4" r="4.1"/>
<circle cx="816.6" cy="287.9" r="4.1"/>
<circle cx="812.6" cy="310.3" r="4.1"/>
<circle cx="806.0" cy="303.0" r="4.1"/>
<circle cx="803.1" cy="313.3" r="4.1"/>
<circle cx="836.7" cy="316.6" r="4.1"/>
<circle cx="823.8" cy="308.6" r="4.1"/>
<circle cx="816.2" cy="312.9" r="4.1"/>
<circle cx="804.1" cy="286.9" r="4.1"/>
<circle cx="828.5" cy="300.6" r="4.1"/>
<circle cx="803.0" cy="301.7" r="4.1"/>
<circle cx="805.7" cy="314.8" r="4.1"/>
<circle cx="815.5" cy="307.6" r="4.1"/>
<circle cx="803.4" cy="302.5" r="4.1"/>
<circle cx="817.6" cy="294.0" r="4.1"/>
<circle cx="849.9" cy="305.3" r="4.1"/>
<circle cx="809.6" cy="286.8" r="4.1"/>
<circle cx="825.1" cy="313.6" r="4.1"/>
<circle cx="838.0" cy="304.0" r="4.1"/>
<circle cx="806.8" cy="314.1" r="4.1"/>
<circle cx="801.4" cy="309.3" r="4.1"/>
<circle cx="806.6" cy="313.5" r="4.1"/>
<circle cx="806.5" cy="315.6" r="4.1"/>
<circle cx="813.6" cy="313.8" r="4.1"/>
<circle cx="807.4" cy="313.7" r="4.1"/>
<circle cx="814.5" cy="296.3" r="4.1"/>
<circle cx="804.3" cy="297.4" r="4.1"/>
<circle cx="837.7" cy="307.6" r="4.1"/>
<circle cx="815.9" cy="303.8" r="4.1"/>
<circle cx="815.5" cy="306.2" r="4.1"/>
<circle cx="848.8" cy="302.1" r="4.1"/>
<circle cx="806.7" cy="316.4" r="4.1"/>
<circle cx="853.4" cy="312.5" r="4.1"/>
<circle cx="873.2" cy="252.0" r="4.1"/>
<circle cx="932.3" cy="315.2" r="4.1"/>
<circle cx="789.5" cy="203.2" r="4.1"/>
<circle cx="787.4" cy="218.2" r="4.1"/>
<circle cx="787.4" cy="221.4" r="4.1"/>
<circle cx="789.0" cy="229.4" r="4.1"/>
<circle cx="790.3" cy="233.8" r="4.1"/>
<circle cx="786.4" cy="240.3" r="4.1"/>
<circle cx="791.6" cy="243.0" r="4.1"/>
<circle cx="796.2" cy="248.0" r="4.1"/>
<circle cx="786.8" cy="246.0" r="4.1"/>
<circle cx="805.8" cy="261.6" r="4.1"/>
<circle cx="809.7" cy="275.4" r="4.1"/>
<circle cx="812.3" cy="283.2" r="4.1"/>
<circle cx="811.8" cy="292.3" r="4.1"/>
<circle cx="837.0" cy="274.6" r="4.1"/>
<circle cx="853.9" cy="280.6" r="4.1"/>
<circle cx="825.3" cy="292.3" r="4.1"/>
<circle cx="831.8" cy="291.0" r="4.1"/>
<circle cx="839.1" cy="289.7" r="4.1"/>
<circle cx="846.6" cy="294.9" r="4.1"/>
<circle cx="801.0" cy="266.0" r="4.1"/>
<circle cx="806.0" cy="272.0" r="4.1"/>
<circle cx="803.0" cy="280.0" r="4.1"/>
<circle cx="808.0" cy="287.0" r="4.1"/>
<circle cx="805.0" cy="296.0" r="4.1"/>
<circle cx="801.0" cy="290.0" r="4.1"/>
<circle cx="880.0" cy="296.0" r="4.1"/>
<circle cx="876.0" cy="301.0" r="4.1"/>
<circle cx="865.0" cy="316.0" r="4.1"/>
<circle cx="858.0" cy="312.0" r="4.1"/>
<circle cx="848.0" cy="305.0" r="4.1"/>
<circle cx="843.0" cy="300.0" r="4.1"/>
</g>
<path d="M783.2 319 L783.4 262 Q784.5 246 787.6 245 Q791.4 248 794 272 L798 300 L802.5 319 Z" fill="#e8532b" fill-opacity="0.55"/>
<g fill="#e8502a" stroke="#3a1c12" stroke-width="1.3">
<circle cx="959.3" cy="265.5" r="4.6"/>
<circle cx="1014.9" cy="245.8" r="4.6"/>
<circle cx="1088.9" cy="249.4" r="4.6"/>
<circle cx="1087.9" cy="256.3" r="4.6"/>
<circle cx="1064.3" cy="262.7" r="4.6"/>
<circle cx="968.8" cy="286.9" r="4.6"/>
<circle cx="958.9" cy="293.9" r="4.6"/>
<circle cx="959.3" cy="296.3" r="4.6"/>
<circle cx="968.8" cy="299.0" r="4.6"/>
<circle cx="988.6" cy="293.5" r="4.6"/>
<circle cx="998.8" cy="298.0" r="4.6"/>
<circle cx="998.0" cy="306.0" r="4.6"/>
<circle cx="995.6" cy="309.8" r="4.6"/>
<circle cx="985.5" cy="306.6" r="4.6"/>
<circle cx="1007.9" cy="303.6" r="4.6"/>
<circle cx="960.8" cy="312.7" r="4.6"/>
<circle cx="1034.1" cy="294.7" r="4.6"/>
<circle cx="1056.2" cy="303.2" r="4.6"/>
<circle cx="1066.5" cy="287.5" r="4.6"/>
<circle cx="1088.5" cy="290.9" r="4.6"/>
<circle cx="1120.7" cy="306.6" r="4.6"/>
<circle cx="1063.5" cy="315.1" r="4.6"/>
<circle cx="1066.1" cy="316.1" r="4.6"/>
<circle cx="847.4" cy="240.2" r="4.6"/>
<circle cx="873.2" cy="264.4" r="4.6"/>
<circle cx="873.5" cy="268.0" r="4.6"/>
<circle cx="873.2" cy="277.3" r="4.6"/>
<circle cx="873.5" cy="289.1" r="4.6"/>
<circle cx="861.4" cy="287.5" r="4.6"/>
<circle cx="859.0" cy="302.3" r="4.6"/>
<circle cx="851.3" cy="315.8" r="4.6"/>
<circle cx="873.2" cy="307.0" r="4.6"/>
<circle cx="879.3" cy="310.5" r="4.6"/>
<circle cx="889.7" cy="295.7" r="4.6"/>
<circle cx="887.0" cy="299.0" r="4.6"/>
<circle cx="897.1" cy="313.3" r="4.6"/>
<circle cx="905.7" cy="315.2" r="4.6"/>
<circle cx="910.6" cy="305.6" r="4.6"/>
<circle cx="916.6" cy="315.2" r="4.6"/>
<polygon points="787.1,175.0 789.9,183.0 798.3,183.2 791.6,188.3 794.0,196.3 787.1,191.5 780.2,196.3 782.6,188.3 775.9,183.2 784.3,183.0" stroke-width="1.4" stroke-linejoin="miter"/>
</g>
<g stroke="#000" stroke-width="1.5" fill="none">
<path d="M757.8 330V169.5M752.6 176.5L757.8 169L763 176.5"/>
<path d="M752 321.5H1152.5M1142 315.5L1152.8 321.5L1142 327.5"/>
</g>
<g fill="none" stroke="#848484" stroke-width="1.35" stroke-linejoin="round" stroke-linecap="round">
<path d="M131.0 178.9 L131.3 178.9 L131.7 178.9 L132.1 178.9 L132.4 178.9 L132.8 178.9 L133.1 178.9 L133.4 178.9 L133.8 178.9 L134.2 178.9 L134.5 178.9 L134.8 178.9 L135.2 178.9 L135.6 178.9 L135.9 178.9 L136.2 178.9 L136.6 178.9 L136.9 178.9 L137.3 178.9 L137.7 178.9 L138.0 178.9 L138.3 178.9 L138.7 178.9 L139.1 178.9 L139.4 178.9 L139.8 178.9 L140.1 178.9 L140.4 178.9 L140.8 178.9 L141.2 178.9 L141.5 178.9 L141.8 178.9 L142.2 178.9 L142.6 178.9 L142.9 178.9 L143.2 178.9 L143.6 178.9 L143.9 178.9 L144.3 178.9 L144.7 178.9 L145.0 178.9 L145.3 178.9 L145.7 178.9 L146.1 178.9 L146.4 178.9 L146.8 178.9 L147.1 178.9 L147.4 178.9 L147.8 178.9 L148.2 178.9 L148.5 178.9 L148.8 178.9 L149.2 178.9 L149.6 178.9 L149.9 178.9 L150.2 178.9 L150.6 178.9 L150.9 178.9 L151.3 178.9 L151.7 178.9 L152.0 178.9 L152.3 178.9 L152.7 178.9 L153.1 178.9 L153.4 178.9 L153.8 178.9 L154.1 178.9 L154.4 178.9 L154.8 178.9 L155.2 178.9 L155.5 178.9 L155.9 178.8 L156.3 178.3 L156.7 177.7 L157.0 177.1 L157.4 176.5 L157.8 176.0 L158.2 175.9 L158.6 176.2 L158.9 177.0 L159.3 178.2 L159.7 179.7 L160.0 181.3 L160.4 182.8 L160.8 184.0 L161.1 184.8 L161.5 185.1 L161.9 184.8 L162.2 184.1 L162.6 182.8 L163.0 181.2 L163.3 179.4 L163.7 177.6 L164.0 175.8 L164.4 174.2 L164.8 172.9 L165.1 172.2 L165.5 171.9 L165.8 172.2 L166.2 173.3 L166.6 174.8 L166.9 176.8 L167.2 179.0 L167.6 181.2 L167.9 183.2 L168.3 184.7 L168.7 185.8 L169.0 186.1 L169.4 185.9 L169.8 185.3 L170.1 184.3 L170.5 183.0 L170.9 181.5 L171.2 179.9 L171.6 178.3 L172.0 176.8 L172.4 175.5 L172.8 174.5 L173.1 173.9 L173.5 173.7 L173.9 173.8 L174.2 174.1 L174.6 174.5 L174.9 175.1 L175.3 175.7 L175.6 176.5 L176.0 177.3 L176.4 178.1 L176.7 178.9 L177.1 179.5 L177.4 180.1 L177.8 180.5 L178.1 180.8 L178.5 180.9 L178.9 180.8 L179.2 180.7 L179.6 180.4 L180.0 180.1 L180.3 179.7 L180.7 179.3 L181.0 178.9 L181.4 178.6 L181.8 178.3 L182.1 178.2 L182.5 178.1 L182.9 178.1 L183.2 178.2 L183.6 178.3 L184.0 178.4 L184.3 178.5 L184.7 178.7 L185.1 178.9 L185.4 179.1 L185.8 179.3 L186.2 179.5 L186.5 179.7 L186.9 179.9 L187.2 180.1 L187.6 180.3 L188.0 180.5 L188.3 180.6 L188.7 180.7 L189.1 180.8 L189.4 180.9 L189.8 180.9 L190.2 180.8 L190.5 180.4 L190.9 179.9 L191.3 179.2 L191.7 178.4 L192.0 177.6 L192.4 176.9 L192.8 176.4 L193.1 176.0 L193.5 175.9 L193.9 176.0 L194.2 176.4 L194.6 176.9 L195.0 177.6 L195.3 178.4 L195.7 179.2 L196.1 179.9 L196.5 180.4 L196.8 180.8 L197.2 180.9 L197.5 180.8 L197.9 180.6 L198.2 180.2 L198.6 179.8 L198.9 179.4 L199.3 179.0 L199.7 178.8 L200.0 178.7 L200.4 178.9 L200.8 179.2 L201.2 179.4 L201.5 179.3 L201.9 179.0 L202.2 178.6 L202.6 178.1 L202.9 177.5 L203.3 177.1 L203.7 176.8 L204.0 176.7 L204.4 176.8 L204.8 177.0 L205.1 177.4 L205.5 177.9 L205.9 178.4 L206.2 179.1 L206.6 179.7 L207.0 180.2 L207.4 180.7 L207.8 181.1 L208.1 181.3 L208.5 181.4 L208.9 181.2 L209.2 180.7 L209.6 179.9 L210.0 178.9 L210.4 177.9 L210.8 177.1 L211.1 176.6 L211.5 176.4 L211.8 176.4 L212.2 176.5 L212.6 176.7 L212.9 176.9 L213.2 177.2 L213.6 177.4 L213.9 177.6 L214.3 177.8 L214.7 177.9 L215.0 177.9 L215.4 178.1 L215.8 178.5 L216.1 179.2 L216.5 180.0 L216.9 180.8 L217.2 181.5 L217.6 181.9 L218.0 182.1 L218.4 181.9 L218.7 181.4 L219.1 180.5 L219.4 179.5 L219.8 178.3 L220.1 177.3 L220.5 176.4 L220.8 175.9 L221.2 175.7 L221.5 175.8 L221.9 176.2 L222.2 176.8 L222.6 177.6 L222.9 178.3 L223.3 178.9 L223.7 179.3 L224.0 179.4 L224.4 179.3 L224.8 179.2 L225.1 179.0 L225.5 178.9 L225.9 179.0 L226.2 179.4 L226.6 179.8 L227.0 179.9 L227.4 179.8 L227.8 179.5 L228.1 179.2 L228.5 179.1 L228.9 179.4 L229.2 180.2 L229.6 181.1 L230.0 181.4 L230.4 181.1 L230.7 180.4 L231.1 179.3 L231.4 178.2 L231.8 177.1 L232.1 176.4 L232.5 176.1 L232.9 176.3 L233.3 176.9 L233.7 177.6 L234.1 178.2 L234.5 178.4 L234.9 178.3 L235.2 178.2 L235.6 178.0 L236.0 177.9 L236.4 178.2 L236.8 178.9 L237.2 179.9 L237.6 180.6 L238.0 180.9 L238.4 180.5 L238.8 179.5 L239.2 178.3 L239.6 177.3 L240.0 176.9 L240.4 177.0 L240.8 177.4 L241.2 177.9 L241.6 178.3 L242.0 178.4 L242.5 178.2 L243.0 177.9 L243.4 178.1 L243.8 178.6 L244.2 179.3 L244.5 180.0 L244.9 180.5 L245.3 180.7 L245.7 180.5 L246.0 179.9 L246.4 179.1 L246.8 178.2 L247.1 177.6 L247.5 177.4 L247.9 177.6 L248.3 178.3 L248.7 179.2 L249.0 180.2 L249.4 180.9 L249.8 181.1 L250.2 180.9 L250.5 180.2 L250.9 179.2 L251.3 178.3 L251.6 177.6 L252.0 177.4 L252.4 177.6 L252.8 178.2 L253.1 178.7 L253.5 178.9 L253.9 178.7 L254.3 178.0 L254.7 177.3 L255.1 176.6 L255.5 176.4 L255.9 176.7 L256.2 177.7 L256.6 179.1 L256.9 180.7 L257.3 182.1 L257.6 183.1 L258.0 183.4 L258.4 182.9 L258.7 181.4 L259.1 179.4 L259.5 177.4 L259.8 175.9 L260.2 175.4 L260.6 175.8 L260.9 177.0 L261.3 178.8 L261.7 180.7 L262.1 182.5 L262.4 183.7 L262.8 184.1 L263.2 183.9 L263.6 183.4 L263.9 182.5 L264.3 181.4 L264.7 180.1 L265.1 178.7 L265.5 177.4 L265.9 176.3 L266.2 175.4 L266.6 174.9 L267.0 174.7 L267.4 175.1 L267.8 176.1 L268.1 177.6 L268.5 179.4 L268.9 181.2 L269.2 182.7 L269.6 183.7 L270.0 184.1 L270.4 183.7 L270.7 182.7 L271.1 181.1 L271.4 179.4 L271.8 177.8 L272.1 176.8 L272.5 176.4 L272.9 176.7 L273.4 177.4 L273.8 177.7 L274.2 177.5 L274.6 177.1 L275.1 176.6 L275.5 176.4 L275.9 176.6 L276.2 177.2 L276.6 178.0 L276.9 178.8 L277.3 179.6 L277.6 180.2 L278.0 180.4 L278.4 180.4 L278.8 180.4 L279.1 180.4 L279.5 180.4 L279.9 180.8 L280.4 181.5 L280.8 181.9 L281.2 181.4 L281.5 180.2 L281.9 178.4 L282.3 176.7 L282.6 175.4 L283.0 174.9 L283.4 175.5 L283.9 176.9 L284.3 178.3 L284.7 178.9 L285.1 178.4 L285.4 177.3 L285.8 176.2 L286.2 175.7 L286.6 176.2 L286.9 177.4 L287.3 179.3 L287.7 181.3 L288.1 183.2 L288.4 184.4 L288.8 184.9 L289.2 184.4 L289.6 183.0 L290.0 181.2 L290.4 179.3 L290.8 177.9 L291.2 177.4 L291.6 177.8 L292.0 178.9 L292.4 180.4 L292.7 181.9 L293.1 183.0 L293.5 183.4 L293.9 183.1 L294.2 182.1 L294.6 180.5 L294.9 178.6 L295.2 176.4 L295.6 174.2 L295.9 172.3 L296.3 170.7 L296.6 169.7 L297.0 169.4 L297.4 170.0 L297.8 171.4 L298.1 172.8 L298.5 173.4 L298.9 173.2 L299.3 172.7 L299.7 172.4 L300.1 173.2 L300.4 175.4 L300.8 178.7 L301.1 182.7 L301.4 186.6 L301.8 189.9 L302.1 192.1 L302.5 192.9 L302.9 192.3 L303.2 190.5 L303.6 187.9 L304.0 184.8 L304.4 181.7 L304.8 179.1 L305.1 177.3 L305.5 176.7 L305.9 177.0 L306.2 177.8 L306.6 178.9 L307.0 180.3 L307.4 181.7 L307.8 182.8 L308.1 183.6 L308.5 183.9 L308.9 183.2 L309.2 181.4 L309.6 179.6 L310.0 178.9 L310.4 179.8 L310.8 182.2 L311.2 185.1 L311.6 187.5 L312.0 188.4 L312.4 187.2 L312.7 183.9 L313.1 179.0 L313.4 173.2 L313.8 167.3 L314.1 162.4 L314.4 159.1 L314.8 157.9 L315.2 159.4 L315.6 163.6 L316.0 169.8 L316.3 176.5 L316.7 182.7 L317.1 186.9 L317.5 188.4 L317.9 187.4 L318.2 185.2 L318.6 182.9 L319.0 181.9 L319.4 182.9 L319.8 185.4 L320.1 187.9 L320.5 188.9 L320.9 187.6 L321.2 183.8 L321.6 178.3 L321.9 172.3 L322.3 166.8 L322.6 163.0 L323.0 161.7 L323.4 163.1 L323.7 167.1 L324.1 172.9 L324.4 179.2 L324.8 185.0 L325.1 189.0 L325.5 190.4 L325.9 188.2 L326.2 182.9 L326.6 177.6 L327.0 175.4 L327.4 177.0 L327.7 181.1 L328.1 186.2 L328.4 190.3 L328.8 191.9 L329.2 190.5 L329.6 186.8 L330.0 181.8 L330.4 176.8 L330.8 173.1 L331.2 171.7 L331.6 172.1 L332.0 173.1 L332.4 174.7 L332.8 176.6 L333.1 178.4 L333.5 180.0 L333.9 181.0 L334.3 181.4 L334.7 180.9 L335.1 179.4 L335.5 177.3 L335.8 175.0 L336.2 172.9 L336.6 171.4 L337.0 170.9 L337.4 171.3 L337.7 172.4 L338.1 174.3 L338.5 176.6 L338.8 179.3 L339.2 182.0 L339.5 184.7 L339.9 187.0 L340.3 188.9 L340.6 190.0 L341.0 190.4 L341.4 189.3 L341.7 186.3 L342.1 181.8 L342.4 177.0 L342.8 172.5 L343.1 169.5 L343.5 168.4 L343.9 169.1 L344.2 171.0 L344.6 173.8 L344.9 177.0 L345.3 179.8 L345.6 181.7 L346.0 182.4 L346.4 181.0 L346.8 178.1 L347.2 176.7 L347.6 177.6 L348.0 179.8 L348.4 182.0 L348.8 182.9 L349.2 182.0 L349.6 179.6 L350.0 176.7 L350.4 174.3 L350.8 173.4 L351.2 174.0 L351.5 175.5 L351.9 177.7 L352.3 179.8 L352.6 181.3 L353.0 181.9 L353.4 181.3 L353.8 179.9 L354.2 178.1 L354.6 176.7 L355.0 176.1 L355.4 176.5 L355.7 177.6 L356.1 179.1 L356.4 180.9 L356.8 182.4 L357.1 183.5 L357.5 183.9 L357.9 183.5 L358.2 182.5 L358.6 180.8 L359.0 178.7 L359.4 176.3 L359.7 173.7 L360.1 171.3 L360.5 169.2 L360.9 167.5 L361.2 166.5 L361.6 166.1 L362.0 166.7 L362.4 168.3 L362.7 170.8 L363.1 174.1 L363.5 177.8 L363.9 181.7 L364.3 185.4 L364.7 188.7 L365.0 191.2 L365.4 192.8 L365.8 193.4 L366.2 192.4 L366.6 189.7 L367.0 185.8 L367.3 181.5 L367.7 177.6 L368.1 174.9 L368.5 173.9 L368.9 174.6 L369.4 176.4 L369.8 178.2 L370.2 178.9 L370.6 178.5 L371.0 177.4 L371.4 176.3 L371.8 175.9 L372.2 176.1 L372.5 176.7 L372.9 177.4 L373.3 178.2 L373.6 178.7 L374.0 178.9 L374.4 179.5 L374.8 181.0 L375.2 182.8 L375.6 184.3 L376.0 184.9 L376.4 184.4 L376.8 182.9 L377.2 180.8 L377.5 178.5 L377.9 176.4 L378.3 174.9 L378.7 174.4 L379.1 174.7 L379.4 175.4 L379.8 176.6 L380.1 177.9 L380.4 179.2 L380.8 180.4 L381.1 181.1 L381.5 181.4 L381.9 181.4 L382.2 181.4 L382.6 181.4 L383.0 181.4 L383.4 181.0 L383.7 179.8 L384.1 178.2 L384.4 176.3 L384.8 174.7 L385.1 173.5 L385.5 173.1 L385.9 174.1 L386.3 176.8 L386.6 180.5 L387.0 184.2 L387.4 186.9 L387.8 187.9 L388.2 187.3 L388.5 185.6 L388.9 183.0 L389.2 179.7 L389.6 176.3 L389.9 173.1 L390.3 170.4 L390.6 168.7 L391.0 168.1 L391.4 168.7 L391.8 170.4 L392.1 172.9 L392.5 175.9 L392.9 178.9 L393.2 181.4 L393.6 183.1 L394.0 183.7 L394.4 183.5 L394.7 183.1 L395.1 182.4 L395.4 181.6 L395.8 180.7 L396.1 180.0 L396.4 179.6 L396.8 179.4 L397.2 179.8 L397.6 181.0 L398.0 182.3 L398.4 183.5 L398.8 183.9 L399.2 183.4 L399.6 182.1 L399.9 180.1 L400.3 177.8 L400.7 175.5 L401.1 173.5 L401.4 172.2 L401.8 171.7 L402.2 172.0 L402.5 172.9 L402.9 174.4 L403.3 176.3 L403.6 178.4 L404.0 180.7 L404.3 182.8 L404.7 184.7 L405.1 186.2 L405.4 187.1 L405.8 187.4 L406.2 186.8 L406.5 185.2 L406.9 182.7 L407.2 179.7 L407.6 176.4 L407.9 173.4 L408.3 170.9 L408.6 169.3 L409.0 168.7 L409.4 169.4 L409.7 171.2 L410.1 174.0 L410.4 177.3 L410.8 180.6 L411.1 183.4 L411.4 185.2 L411.8 185.9 L412.2 185.5 L412.5 184.5 L412.9 182.8 L413.2 180.6 L413.6 178.1 L413.9 175.5 L414.3 173.0 L414.6 170.8 L415.0 169.1 L415.3 168.1 L415.7 167.7 L416.1 168.1 L416.4 169.3 L416.8 171.1 L417.1 173.6 L417.5 176.5 L417.8 179.7 L418.2 182.9 L418.5 186.1 L418.9 189.0 L419.2 191.5 L419.6 193.3 L419.9 194.5 L420.3 194.9 L420.7 194.4 L421.1 192.9 L421.4 190.5 L421.8 187.4 L422.2 183.8 L422.6 179.9 L422.9 176.0 L423.3 172.4 L423.7 169.3 L424.1 166.9 L424.4 165.4 L424.8 164.9 L425.2 165.3 L425.5 166.5 L425.9 168.3 L426.3 170.6 L426.6 173.2 L427.0 175.7 L427.4 178.0 L427.8 179.8 L428.1 181.0 L428.5 181.4 L428.9 181.4 L429.2 181.6 L429.6 181.7 L430.0 181.7 L430.4 181.5 L430.8 181.0 L431.2 180.2 L431.5 179.4 L431.9 178.6 L432.3 178.1 L432.7 177.9 L433.1 178.3 L433.4 179.4 L433.8 180.9 L434.1 182.4 L434.4 183.5 L434.8 183.9 L435.2 183.5 L435.6 182.3 L436.0 180.7 L436.4 179.0 L436.8 177.8 L437.2 177.4 L437.6 177.8 L438.0 178.8 L438.4 180.0 L438.8 181.0 L439.2 181.4 L439.6 181.1 L439.9 180.4 L440.3 179.3 L440.7 178.2 L441.1 177.1 L441.4 176.4 L441.8 176.1 L442.2 176.2 L442.6 176.4 L442.9 176.7 L443.3 177.1 L443.7 177.5 L444.1 178.0 L444.5 178.4 L444.9 178.8 L445.2 179.1 L445.6 179.3 L446.0 179.4 L446.4 179.1 L446.8 178.4 L447.1 177.4 L447.5 176.4 L447.9 175.7 L448.3 175.4 L448.7 175.7 L449.0 176.5 L449.4 177.7 L449.8 179.1 L450.1 180.4 L450.5 181.6 L450.8 182.4 L451.2 182.7 L451.6 182.6 L451.9 182.2 L452.2 181.7 L452.6 181.1 L452.9 180.4 L453.3 179.9 L453.6 179.5 L454.0 179.4 L454.4 179.2 L454.7 178.8 L455.1 178.2 L455.4 177.4 L455.8 176.6 L456.1 176.0 L456.4 175.6 L456.8 175.4 L457.2 175.6 L457.5 176.1 L457.9 177.0 L458.3 178.0 L458.6 179.3 L459.0 180.5 L459.3 181.8 L459.7 182.8 L460.1 183.7 L460.4 184.2 L460.8 184.4 L461.2 184.0 L461.5 182.8 L461.9 181.0 L462.2 178.8 L462.6 176.5 L462.9 174.3 L463.3 172.5 L463.6 171.3 L464.0 170.9 L464.4 171.3 L464.7 172.5 L465.1 174.3 L465.4 176.4 L465.8 178.5 L466.1 180.3 L466.4 181.5 L466.8 181.9 L467.2 182.0 L467.6 182.3 L467.9 182.7 L468.3 183.2 L468.7 183.6 L469.1 184.0 L469.4 184.3 L469.8 184.4 L470.2 184.1 L470.5 183.4 L470.9 182.2 L471.3 180.7 L471.6 179.0 L472.0 177.1 L472.3 175.4 L472.7 173.9 L473.1 172.7 L473.4 172.0 L473.8 171.7 L474.2 171.9 L474.6 172.4 L474.9 173.1 L475.3 174.1 L475.7 175.2 L476.1 176.4 L476.5 177.5 L476.9 178.5 L477.2 179.2 L477.6 179.7 L478.0 179.9 L478.4 179.9 L478.7 179.9 L479.1 179.9 L479.4 179.9 L479.8 179.9 L480.2 180.1 L480.5 180.5 L480.9 181.2 L481.3 181.8 L481.6 182.2 L482.0 182.4 L482.4 182.2 L482.7 181.6 L483.1 180.7 L483.4 179.7 L483.8 178.6 L484.1 177.7 L484.4 177.1 L484.8 176.9 L485.2 176.9 L485.6 176.8 L486.1 176.7 L486.5 176.7 L486.9 176.5 L487.3 176.0 L487.6 175.3 L488.0 174.6 L488.4 174.1 L488.8 173.9 L489.2 174.2 L489.5 175.0 L489.9 176.4 L490.3 178.1 L490.6 180.1 L491.0 182.3 L491.4 184.5 L491.7 186.5 L492.1 188.2 L492.5 189.6 L492.8 190.4 L493.2 190.7 L493.6 190.5 L493.9 189.8 L494.3 188.8 L494.6 187.4 L495.0 185.8 L495.3 183.9 L495.7 181.8 L496.0 179.8 L496.4 177.7 L496.7 175.9 L497.1 174.2 L497.4 172.8 L497.8 171.8 L498.1 171.1 L498.5 170.9 L498.9 171.1 L499.2 171.8 L499.6 172.9 L499.9 174.2 L500.2 175.7 L500.6 177.1 L500.9 178.4 L501.3 179.5 L501.6 180.2 L502.0 180.4 L502.4 180.2 L502.7 179.7 L503.1 179.0 L503.4 178.1 L503.8 177.4 L504.1 176.9 L504.5 176.7 L504.9 176.8 L505.2 176.9 L505.6 177.2 L506.0 177.5 L506.3 177.9 L506.7 178.2 L507.0 178.6 L507.4 178.9 L507.8 179.2 L508.1 179.3 L508.5 179.4 L508.9 179.3 L509.2 179.0 L509.6 178.4 L510.0 177.8 L510.4 177.1 L510.7 176.3 L511.1 175.7 L511.5 175.1 L511.8 174.8 L512.2 174.7 L512.6 174.8 L512.9 175.1 L513.3 175.7 L513.6 176.4 L514.0 177.3 L514.3 178.2 L514.7 179.3 L515.0 180.3 L515.4 181.4 L515.7 182.4 L516.1 183.2 L516.4 183.9 L516.8 184.5 L517.1 184.8 L517.5 184.9 L517.9 184.6 L518.2 183.6 L518.6 182.1 L519.0 180.3 L519.3 178.3 L519.7 176.5 L520.1 175.0 L520.4 174.0 L520.8 173.7 L521.2 174.0 L521.6 174.7 L522.0 175.7 L522.3 176.9 L522.7 177.9 L523.1 178.6 L523.5 178.9 L523.9 179.0 L524.2 179.3 L524.5 179.8 L524.9 180.5 L525.2 181.2 L525.6 181.8 L526.0 182.5 L526.3 183.0 L526.6 183.3 L527.0 183.4 L527.4 183.2 L527.7 182.5 L528.0 181.4 L528.4 180.0 L528.8 178.6 L529.1 177.1 L529.5 175.7 L529.8 174.6 L530.1 173.9 L530.5 173.7 L530.9 173.8 L531.2 174.3 L531.6 175.0 L532.0 175.9 L532.4 176.9 L532.8 178.1 L533.1 179.2 L533.5 180.2 L533.9 181.1 L534.2 181.8 L534.6 182.3 L535.0 182.4 L535.4 182.3 L535.7 181.9 L536.0 181.3 L536.4 180.5 L536.8 179.7 L537.1 178.8 L537.5 178.0 L537.8 177.4 L538.1 177.0 L538.5 176.9 L538.9 176.9 L539.3 177.1 L539.7 177.2 L540.1 177.4 L540.5 177.4 L540.9 177.6 L541.2 178.0 L541.6 178.6 L542.0 179.4 L542.4 180.2 L542.8 180.8 L543.1 181.2 L543.5 181.4 L543.9 181.4 L544.2 181.2 L544.6 181.0 L545.0 180.7 L545.4 180.3 L545.7 179.9 L546.1 179.5 L546.5 179.0 L546.8 178.5 L547.2 178.0 L547.6 177.6 L547.9 177.2 L548.3 176.8 L548.7 176.5 L549.1 176.3 L549.4 176.1 L549.8 176.1 L550.2 176.3 L550.6 176.8 L551.0 177.5 L551.3 178.3 L551.7 179.0 L552.1 179.5 L552.5 179.7 L552.9 179.6 L553.3 179.2 L553.6 178.7 L554.0 178.2 L554.4 177.8 L554.8 177.7 L555.2 177.9 L555.6 178.4 L556.0 179.1 L556.3 180.0 L556.7 180.7 L557.1 181.2 L557.5 181.4 L557.9 181.3 L558.2 181.0 L558.6 180.5 L559.0 179.9 L559.3 179.1 L559.7 178.4 L560.0 177.6 L560.4 177.0 L560.8 176.5 L561.1 176.2 L561.5 176.1 L561.9 176.2 L562.2 176.6 L562.5 177.1 L562.9 177.8 L563.2 178.6 L563.6 179.4 L564.0 180.1 L564.3 180.6 L564.6 181.0 L565.0 181.1 L565.4 181.1 L565.8 181.1 L566.2 181.1 L566.6 181.1 L567.0 181.1 L567.4 181.0 L567.8 180.6 L568.1 180.1 L568.5 179.4 L568.9 178.6 L569.3 177.8 L569.7 177.1 L570.0 176.6 L570.4 176.2 L570.8 176.1 L571.2 176.3 L571.6 176.9 L572.0 177.7 L572.3 178.5 L572.7 179.3 L573.1 179.9 L573.5 180.1 L573.9 180.0 L574.2 179.6 L574.6 179.0 L575.0 178.2 L575.4 177.5 L575.8 176.9 L576.1 176.5 L576.5 176.4 L576.9 176.5 L577.2 176.8 L577.6 177.3 L578.0 177.9 L578.3 178.7 L578.7 179.4 L579.0 180.2 L579.4 180.8 L579.8 181.3 L580.1 181.6 L580.5 181.7 L580.9 181.6 L581.2 181.3 L581.6 180.8 L581.9 180.3 L582.3 179.8 L582.6 179.5 L583.0 179.4 L583.4 179.4 L583.7 179.4 L584.1 179.4 L584.4 179.4 L584.8 179.4 L585.1 179.4 L585.5 179.4 L585.9 179.5 L586.2 179.7 L586.6 180.0 L586.9 180.3 L587.3 180.6 L587.6 180.8 L588.0 180.9 L588.4 180.8 L588.8 180.4 L589.1 179.9 L589.5 179.2 L589.9 178.3 L590.2 177.4 L590.6 176.5 L591.0 175.7 L591.4 174.9 L591.8 174.4 L592.1 174.0 L592.5 173.9 L592.9 174.0 L593.2 174.5 L593.5 175.1 L593.9 176.0 L594.2 176.9 L594.6 177.8 L595.0 178.7 L595.3 179.3 L595.6 179.8 L596.0 179.9 L596.4 180.0 L596.8 180.2 L597.2 180.4 L597.6 180.6 L598.0 180.7 L598.4 180.7 L598.8 180.7 L599.1 180.7 L599.5 180.7 L599.9 180.7 L600.2 180.7 L600.6 180.7 L601.0 180.7 L601.4 180.7 L601.8 180.7 L602.1 180.7 L602.5 180.7 L602.9 180.5 L603.2 179.9 L603.5 179.1 L603.9 177.9 L604.2 176.7 L604.6 175.5 L605.0 174.3 L605.3 173.5 L605.6 172.9 L606.0 172.7 L606.4 173.0 L606.8 173.8 L607.1 174.9 L607.5 176.3 L607.9 177.7 L608.2 178.8 L608.6 179.6 L609.0 179.9 L609.4 180.0 L609.7 180.3 L610.1 180.7 L610.5 181.0 L610.8 181.3 L611.2 181.4 L611.6 181.3 L612.0 181.0 L612.4 180.5 L612.8 180.0 L613.2 179.5 L613.6 179.2 L614.0 179.1 L614.4 179.2 L614.8 179.3 L615.2 179.5 L615.6 179.6 L616.0 179.7 L616.4 179.7 L616.8 179.6 L617.1 179.4 L617.5 179.3 L617.9 179.0 L618.2 178.8 L618.6 178.6 L619.0 178.4 L619.4 178.2 L619.8 178.0 L620.1 177.9 L620.5 177.9 L620.9 178.1 L621.3 178.5 L621.7 179.1 L622.0 179.9 L622.4 180.5 L622.8 180.9 L623.2 181.1"/>
<path d="M131.0 211.6 L131.3 211.6 L131.7 211.6 L132.1 211.6 L132.4 211.6 L132.8 211.6 L133.1 211.6 L133.4 211.6 L133.8 211.6 L134.2 211.6 L134.5 211.6 L134.8 211.6 L135.2 211.6 L135.6 211.6 L135.9 211.6 L136.2 211.6 L136.6 211.6 L136.9 211.6 L137.3 211.6 L137.7 211.6 L138.0 211.6 L138.3 211.6 L138.7 211.6 L139.1 211.6 L139.4 211.6 L139.8 211.6 L140.1 211.6 L140.4 211.6 L140.8 211.6 L141.2 211.6 L141.5 211.6 L141.8 211.6 L142.2 211.6 L142.6 211.6 L142.9 211.6 L143.2 211.6 L143.6 211.6 L143.9 211.6 L144.3 211.6 L144.7 211.6 L145.0 211.6 L145.3 211.6 L145.7 211.6 L146.1 211.6 L146.4 211.6 L146.8 211.6 L147.1 211.6 L147.4 211.6 L147.8 211.6 L148.2 211.6 L148.5 211.6 L148.8 211.6 L149.2 211.6 L149.6 211.6 L149.9 211.6 L150.2 211.6 L150.6 211.6 L150.9 211.6 L151.3 211.6 L151.7 211.6 L152.0 211.6 L152.3 211.6 L152.7 211.6 L153.1 211.6 L153.4 211.6 L153.8 211.6 L154.1 211.6 L154.4 211.6 L154.8 211.6 L155.2 211.6 L155.5 211.6 L155.9 211.4 L156.3 210.9 L156.7 210.2 L157.0 209.4 L157.4 208.6 L157.8 208.1 L158.2 207.9 L158.6 208.3 L158.9 209.2 L159.3 210.6 L159.7 212.3 L160.0 214.1 L160.4 215.8 L160.8 217.2 L161.1 218.1 L161.5 218.4 L161.9 218.2 L162.2 217.4 L162.6 216.1 L163.0 214.5 L163.3 212.7 L163.7 210.8 L164.0 209.0 L164.4 207.4 L164.8 206.1 L165.1 205.3 L165.5 205.1 L165.8 205.4 L166.2 206.3 L166.6 207.8 L166.9 209.7 L167.2 211.7 L167.6 213.8 L167.9 215.6 L168.3 217.1 L168.7 218.0 L169.0 218.4 L169.4 218.2 L169.8 217.6 L170.1 216.6 L170.5 215.4 L170.9 213.9 L171.2 212.4 L171.6 210.8 L172.0 209.4 L172.4 208.1 L172.8 207.2 L173.1 206.6 L173.5 206.4 L173.9 206.5 L174.2 206.7 L174.6 207.2 L174.9 207.7 L175.3 208.4 L175.6 209.2 L176.0 210.0 L176.4 210.8 L176.7 211.5 L177.1 212.2 L177.4 212.7 L177.8 213.2 L178.1 213.4 L178.5 213.5 L178.9 213.5 L179.2 213.3 L179.6 213.1 L180.0 212.8 L180.3 212.4 L180.7 212.0 L181.0 211.7 L181.4 211.4 L181.8 211.1 L182.1 211.0 L182.5 210.9 L182.9 211.0 L183.2 211.0 L183.6 211.1 L184.0 211.2 L184.3 211.4 L184.7 211.6 L185.1 211.8 L185.4 212.0 L185.8 212.2 L186.2 212.5 L186.5 212.7 L186.9 213.0 L187.2 213.2 L187.6 213.4 L188.0 213.6 L188.3 213.7 L188.7 213.8 L189.1 213.9 L189.4 214.0 L189.8 214.0 L190.2 213.9 L190.5 213.4 L190.9 212.7 L191.3 211.9 L191.7 210.9 L192.0 210.0 L192.4 209.1 L192.8 208.5 L193.1 208.0 L193.5 207.9 L193.9 208.0 L194.2 208.4 L194.6 208.9 L195.0 209.6 L195.3 210.4 L195.7 211.2 L196.1 211.9 L196.5 212.4 L196.8 212.8 L197.2 212.9 L197.5 212.9 L197.9 212.7 L198.2 212.5 L198.6 212.3 L198.9 212.0 L199.3 211.8 L199.7 211.7 L200.0 211.6 L200.4 211.7 L200.8 211.9 L201.2 212.0 L201.5 212.0 L201.9 211.7 L202.2 211.4 L202.6 210.9 L202.9 210.5 L203.3 210.1 L203.7 209.9 L204.0 209.8 L204.4 209.9 L204.8 210.0 L205.1 210.3 L205.5 210.7 L205.9 211.1 L206.2 211.5 L206.6 212.0 L207.0 212.4 L207.4 212.8 L207.8 213.0 L208.1 213.2 L208.5 213.3 L208.9 213.1 L209.2 212.6 L209.6 212.0 L210.0 211.1 L210.4 210.3 L210.8 209.6 L211.1 209.2 L211.5 209.0 L211.8 209.1 L212.2 209.2 L212.6 209.4 L212.9 209.6 L213.2 209.9 L213.6 210.2 L213.9 210.4 L214.3 210.6 L214.7 210.8 L215.0 210.8 L215.4 211.0 L215.8 211.3 L216.1 211.9 L216.5 212.6 L216.9 213.2 L217.2 213.8 L217.6 214.2 L218.0 214.3 L218.4 214.2 L218.7 213.7 L219.1 213.0 L219.4 212.2 L219.8 211.3 L220.1 210.5 L220.5 209.8 L220.8 209.4 L221.2 209.2 L221.5 209.3 L221.9 209.7 L222.2 210.2 L222.6 210.8 L222.9 211.4 L223.3 211.9 L223.7 212.3 L224.0 212.4 L224.4 212.3 L224.8 212.0 L225.1 211.7 L225.5 211.6 L225.9 211.7 L226.2 211.9 L226.6 212.1 L227.0 212.1 L227.4 212.0 L227.8 211.8 L228.1 211.6 L228.5 211.5 L228.9 211.9 L229.2 212.8 L229.6 213.8 L230.0 214.2 L230.4 213.9 L230.7 213.3 L231.1 212.4 L231.4 211.4 L231.8 210.5 L232.1 209.8 L232.5 209.6 L232.9 209.7 L233.3 210.1 L233.7 210.5 L234.1 210.9 L234.5 211.0 L234.9 210.9 L235.2 210.7 L235.6 210.4 L236.0 210.3 L236.4 210.6 L236.8 211.4 L237.2 212.4 L237.6 213.2 L238.0 213.5 L238.4 213.1 L238.8 211.9 L239.2 210.5 L239.6 209.4 L240.0 208.9 L240.4 209.1 L240.8 209.6 L241.2 210.2 L241.6 210.7 L242.0 210.9 L242.5 210.7 L243.0 210.5 L243.4 210.7 L243.8 211.3 L244.2 212.0 L244.5 212.7 L244.9 213.2 L245.3 213.4 L245.7 213.2 L246.0 212.5 L246.4 211.6 L246.8 210.7 L247.1 210.0 L247.5 209.8 L247.9 210.0 L248.3 210.7 L248.7 211.6 L249.0 212.5 L249.4 213.1 L249.8 213.4 L250.2 213.1 L250.5 212.5 L250.9 211.6 L251.3 210.7 L251.6 210.0 L252.0 209.8 L252.4 210.0 L252.8 210.7 L253.1 211.3 L253.5 211.6 L253.9 211.4 L254.3 210.7 L254.7 209.9 L255.1 209.3 L255.5 209.0 L255.9 209.4 L256.2 210.3 L256.6 211.6 L256.9 213.1 L257.3 214.5 L257.6 215.4 L258.0 215.7 L258.4 215.2 L258.7 213.6 L259.1 211.5 L259.5 209.4 L259.8 207.8 L260.2 207.2 L260.6 207.7 L260.9 209.2 L261.3 211.2 L261.7 213.5 L262.1 215.5 L262.4 216.9 L262.8 217.4 L263.2 217.2 L263.6 216.6 L263.9 215.7 L264.3 214.5 L264.7 213.2 L265.1 211.7 L265.5 210.4 L265.9 209.2 L266.2 208.3 L266.6 207.7 L267.0 207.5 L267.4 207.9 L267.8 208.9 L268.1 210.5 L268.5 212.3 L268.9 214.1 L269.2 215.7 L269.6 216.7 L270.0 217.1 L270.4 216.6 L270.7 215.5 L271.1 213.8 L271.4 211.9 L271.8 210.2 L272.1 209.0 L272.5 208.6 L272.9 209.2 L273.4 210.3 L273.8 210.9 L274.2 210.8 L274.6 210.3 L275.1 209.9 L275.5 209.7 L275.9 209.8 L276.2 210.3 L276.6 210.8 L276.9 211.5 L277.3 212.1 L277.6 212.5 L278.0 212.6 L278.4 212.7 L278.8 212.8 L279.1 212.9 L279.5 212.9 L279.9 213.4 L280.4 214.5 L280.8 215.0 L281.2 214.5 L281.5 213.2 L281.9 211.5 L282.3 209.7 L282.6 208.5 L283.0 208.0 L283.4 208.5 L283.9 209.8 L284.3 211.1 L284.7 211.6 L285.1 211.2 L285.4 210.4 L285.8 209.5 L286.2 209.2 L286.6 209.6 L286.9 210.7 L287.3 212.4 L287.7 214.2 L288.1 215.9 L288.4 217.1 L288.8 217.5 L289.2 217.0 L289.6 215.7 L290.0 214.0 L290.4 212.2 L290.8 211.0 L291.2 210.5 L291.6 210.9 L292.0 212.0 L292.4 213.5 L292.7 214.9 L293.1 216.0 L293.5 216.4 L293.9 216.0 L294.2 215.0 L294.6 213.4 L294.9 211.3 L295.2 209.1 L295.6 206.8 L295.9 204.8 L296.3 203.1 L296.6 202.1 L297.0 201.7 L297.4 202.4 L297.8 204.0 L298.1 205.6 L298.5 206.3 L298.9 206.1 L299.3 205.9 L299.7 205.8 L300.1 206.6 L300.4 208.8 L300.8 212.1 L301.1 216.0 L301.4 219.9 L301.8 223.2 L302.1 225.4 L302.5 226.2 L302.9 225.6 L303.2 223.8 L303.6 221.0 L304.0 217.8 L304.4 214.6 L304.8 211.9 L305.1 210.0 L305.5 209.4 L305.9 209.7 L306.2 210.5 L306.6 211.7 L307.0 213.1 L307.4 214.5 L307.8 215.7 L308.1 216.5 L308.5 216.8 L308.9 216.0 L309.2 214.2 L309.6 212.4 L310.0 211.6 L310.4 212.4 L310.8 214.6 L311.2 217.3 L311.6 219.4 L312.0 220.3 L312.4 219.3 L312.7 216.7 L313.1 212.6 L313.4 207.9 L313.8 203.2 L314.1 199.2 L314.4 196.5 L314.8 195.6 L315.2 196.9 L315.6 200.5 L316.0 205.7 L316.3 211.5 L316.7 216.7 L317.1 220.3 L317.5 221.6 L317.9 220.6 L318.2 218.0 L318.6 215.5 L319.0 214.4 L319.4 215.4 L319.8 217.7 L320.1 220.0 L320.5 221.0 L320.9 219.5 L321.2 215.3 L321.6 209.2 L321.9 202.4 L322.3 196.3 L322.6 192.1 L323.0 190.6 L323.4 192.3 L323.7 197.2 L324.1 204.2 L324.4 212.0 L324.8 219.0 L325.1 223.9 L325.5 225.6 L325.9 223.1 L326.2 217.0 L326.6 210.9 L327.0 208.4 L327.4 209.9 L327.7 213.9 L328.1 218.9 L328.4 222.9 L328.8 224.4 L329.2 223.0 L329.6 219.4 L330.0 214.3 L330.4 209.3 L330.8 205.6 L331.2 204.3 L331.6 204.7 L332.0 205.7 L332.4 207.3 L332.8 209.2 L333.1 211.1 L333.5 212.7 L333.9 213.7 L334.3 214.1 L334.7 213.6 L335.1 212.2 L335.5 210.2 L335.8 208.0 L336.2 206.0 L336.6 204.6 L337.0 204.1 L337.4 204.5 L337.7 205.6 L338.1 207.4 L338.5 209.7 L338.8 212.3 L339.2 215.0 L339.5 217.6 L339.9 219.9 L340.3 221.6 L340.6 222.8 L341.0 223.1 L341.4 222.0 L341.7 219.0 L342.1 214.5 L342.4 209.5 L342.8 205.1 L343.1 202.0 L343.5 200.9 L343.9 201.6 L344.2 203.6 L344.6 206.4 L344.9 209.6 L345.3 212.4 L345.6 214.4 L346.0 215.1 L346.4 213.5 L346.8 210.3 L347.2 208.7 L347.6 209.6 L348.0 211.7 L348.4 213.9 L348.8 214.8 L349.2 214.0 L349.6 211.9 L350.0 209.3 L350.4 207.3 L350.8 206.5 L351.2 207.1 L351.5 208.7 L351.9 211.0 L352.3 213.2 L352.6 214.9 L353.0 215.5 L353.4 214.8 L353.8 213.2 L354.2 211.2 L354.6 209.6 L355.0 209.0 L355.4 209.3 L355.7 210.4 L356.1 211.9 L356.4 213.5 L356.8 215.0 L357.1 216.0 L357.5 216.4 L357.9 216.0 L358.2 215.0 L358.6 213.3 L359.0 211.1 L359.4 208.6 L359.7 206.0 L360.1 203.5 L360.5 201.3 L360.9 199.7 L361.2 198.6 L361.6 198.2 L362.0 198.8 L362.4 200.4 L362.7 203.0 L363.1 206.4 L363.5 210.2 L363.9 214.1 L364.3 217.9 L364.7 221.3 L365.0 223.9 L365.4 225.5 L365.8 226.1 L366.2 225.2 L366.6 222.6 L367.0 218.9 L367.3 214.7 L367.7 211.0 L368.1 208.4 L368.5 207.5 L368.9 208.1 L369.4 209.5 L369.8 211.0 L370.2 211.6 L370.6 211.2 L371.0 210.3 L371.4 209.5 L371.8 209.1 L372.2 209.3 L372.5 209.7 L372.9 210.3 L373.3 211.0 L373.6 211.4 L374.0 211.6 L374.4 212.2 L374.8 213.7 L375.2 215.6 L375.6 217.1 L376.0 217.7 L376.4 217.2 L376.8 215.8 L377.2 213.8 L377.5 211.6 L377.9 209.6 L378.3 208.2 L378.7 207.7 L379.1 208.0 L379.4 208.6 L379.8 209.6 L380.1 210.7 L380.4 211.8 L380.8 212.8 L381.1 213.4 L381.5 213.7 L381.9 213.7 L382.2 213.9 L382.6 214.1 L383.0 214.1 L383.4 213.8 L383.7 212.7 L384.1 211.2 L384.4 209.5 L384.8 208.0 L385.1 207.0 L385.5 206.6 L385.9 207.6 L386.3 210.1 L386.6 213.7 L387.0 217.2 L387.4 219.8 L387.8 220.7 L388.2 220.1 L388.5 218.4 L388.9 215.7 L389.2 212.5 L389.6 209.0 L389.9 205.7 L390.3 203.1 L390.6 201.3 L391.0 200.7 L391.4 201.3 L391.8 203.0 L392.1 205.4 L392.5 208.4 L392.9 211.3 L393.2 213.8 L393.6 215.4 L394.0 216.0 L394.4 215.8 L394.7 215.4 L395.1 214.8 L395.4 214.1 L395.8 213.3 L396.1 212.7 L396.4 212.3 L396.8 212.1 L397.2 212.6 L397.6 214.0 L398.0 215.6 L398.4 216.9 L398.8 217.4 L399.2 216.9 L399.6 215.4 L399.9 213.1 L400.3 210.5 L400.7 207.8 L401.1 205.5 L401.4 204.0 L401.8 203.5 L402.2 203.9 L402.5 204.9 L402.9 206.5 L403.3 208.5 L403.6 210.8 L404.0 213.3 L404.3 215.6 L404.7 217.7 L405.1 219.3 L405.4 220.3 L405.8 220.6 L406.2 220.0 L406.5 218.4 L406.9 216.0 L407.2 212.9 L407.6 209.7 L407.9 206.6 L408.3 204.2 L408.6 202.5 L409.0 202.0 L409.4 202.6 L409.7 204.5 L410.1 207.3 L410.4 210.6 L410.8 213.9 L411.1 216.8 L411.4 218.6 L411.8 219.3 L412.2 218.9 L412.5 217.8 L412.9 216.1 L413.2 213.9 L413.6 211.4 L413.9 208.8 L414.3 206.2 L414.6 204.0 L415.0 202.3 L415.3 201.2 L415.7 200.8 L416.1 201.2 L416.4 202.4 L416.8 204.3 L417.1 206.7 L417.5 209.7 L417.8 212.8 L418.2 216.1 L418.5 219.3 L418.9 222.3 L419.2 224.7 L419.6 226.6 L419.9 227.8 L420.3 228.2 L420.7 227.6 L421.1 226.1 L421.4 223.7 L421.8 220.5 L422.2 216.8 L422.6 212.9 L422.9 208.9 L423.3 205.3 L423.7 202.1 L424.1 199.7 L424.4 198.2 L424.8 197.6 L425.2 198.0 L425.5 199.2 L425.9 201.0 L426.3 203.4 L426.6 205.9 L427.0 208.5 L427.4 210.8 L427.8 212.6 L428.1 213.8 L428.5 214.2 L428.9 214.2 L429.2 214.2 L429.6 214.3 L430.0 214.3 L430.4 214.1 L430.8 213.5 L431.2 212.7 L431.5 211.8 L431.9 210.9 L432.3 210.4 L432.7 210.2 L433.1 210.6 L433.4 211.9 L433.8 213.7 L434.1 215.5 L434.4 216.8 L434.8 217.3 L435.2 216.8 L435.6 215.5 L436.0 213.7 L436.4 212.0 L436.8 210.7 L437.2 210.2 L437.6 210.5 L438.0 211.4 L438.4 212.4 L438.8 213.3 L439.2 213.6 L439.6 213.4 L439.9 212.7 L440.3 211.7 L440.7 210.7 L441.1 209.7 L441.4 209.0 L441.8 208.8 L442.2 208.9 L442.6 209.1 L442.9 209.4 L443.3 209.8 L443.7 210.2 L444.1 210.7 L444.5 211.1 L444.9 211.5 L445.2 211.8 L445.6 212.0 L446.0 212.1 L446.4 211.8 L446.8 211.0 L447.1 210.0 L447.5 208.9 L447.9 208.1 L448.3 207.8 L448.7 208.1 L449.0 208.9 L449.4 210.1 L449.8 211.5 L450.1 212.9 L450.5 214.1 L450.8 214.8 L451.2 215.1 L451.6 215.0 L451.9 214.7 L452.2 214.2 L452.6 213.6 L452.9 213.1 L453.3 212.6 L453.6 212.2 L454.0 212.1 L454.4 212.0 L454.7 211.6 L455.1 211.0 L455.4 210.2 L455.8 209.5 L456.1 208.9 L456.4 208.5 L456.8 208.3 L457.2 208.5 L457.5 209.0 L457.9 209.9 L458.3 210.9 L458.6 212.2 L459.0 213.5 L459.3 214.7 L459.7 215.8 L460.1 216.6 L460.4 217.1 L460.8 217.3 L461.2 216.9 L461.5 215.7 L461.9 213.9 L462.2 211.6 L462.6 209.2 L462.9 207.0 L463.3 205.1 L463.6 203.9 L464.0 203.5 L464.4 203.9 L464.7 205.0 L465.1 206.7 L465.4 208.6 L465.8 210.6 L466.1 212.3 L466.4 213.4 L466.8 213.8 L467.2 213.9 L467.6 214.2 L467.9 214.6 L468.3 215.2 L468.7 215.7 L469.1 216.2 L469.4 216.5 L469.8 216.6 L470.2 216.4 L470.5 215.6 L470.9 214.4 L471.3 212.9 L471.6 211.1 L472.0 209.3 L472.3 207.6 L472.7 206.0 L473.1 204.8 L473.4 204.1 L473.8 203.8 L474.2 204.0 L474.6 204.5 L474.9 205.3 L475.3 206.4 L475.7 207.6 L476.1 208.9 L476.5 210.1 L476.9 211.2 L477.2 212.0 L477.6 212.5 L478.0 212.7 L478.4 212.7 L478.7 212.8 L479.1 212.9 L479.4 212.9 L479.8 213.0 L480.2 213.1 L480.5 213.6 L480.9 214.3 L481.3 215.0 L481.6 215.5 L482.0 215.6 L482.4 215.4 L482.7 214.8 L483.1 213.9 L483.4 212.8 L483.8 211.8 L484.1 210.8 L484.4 210.2 L484.8 210.0 L485.2 210.0 L485.6 210.0 L486.1 209.9 L486.5 209.9 L486.9 209.6 L487.3 209.0 L487.6 208.0 L488.0 207.1 L488.4 206.4 L488.8 206.2 L489.2 206.5 L489.5 207.4 L489.9 208.8 L490.3 210.6 L490.6 212.8 L491.0 215.1 L491.4 217.4 L491.7 219.6 L492.1 221.4 L492.5 222.8 L492.8 223.7 L493.2 224.0 L493.6 223.8 L493.9 223.1 L494.3 222.1 L494.6 220.7 L495.0 219.0 L495.3 217.1 L495.7 215.0 L496.0 212.9 L496.4 210.9 L496.7 208.9 L497.1 207.2 L497.4 205.8 L497.8 204.8 L498.1 204.1 L498.5 203.9 L498.9 204.1 L499.2 204.7 L499.6 205.7 L499.9 206.9 L500.2 208.3 L500.6 209.6 L500.9 210.8 L501.3 211.8 L501.6 212.4 L502.0 212.6 L502.4 212.4 L502.7 211.9 L503.1 211.1 L503.4 210.2 L503.8 209.4 L504.1 208.9 L504.5 208.7 L504.9 208.7 L505.2 208.9 L505.6 209.2 L506.0 209.6 L506.3 210.0 L506.7 210.4 L507.0 210.8 L507.4 211.2 L507.8 211.5 L508.1 211.7 L508.5 211.7 L508.9 211.6 L509.2 211.4 L509.6 210.9 L510.0 210.4 L510.4 209.8 L510.7 209.2 L511.1 208.7 L511.5 208.2 L511.8 208.0 L512.2 207.9 L512.6 208.0 L512.9 208.3 L513.3 208.7 L513.6 209.4 L514.0 210.2 L514.3 211.1 L514.7 212.0 L515.0 213.0 L515.4 213.9 L515.7 214.8 L516.1 215.6 L516.4 216.3 L516.8 216.7 L517.1 217.0 L517.5 217.1 L517.9 216.8 L518.2 215.8 L518.6 214.3 L519.0 212.4 L519.3 210.4 L519.7 208.6 L520.1 207.0 L520.4 206.0 L520.8 205.7 L521.2 206.0 L521.6 206.8 L522.0 208.0 L522.3 209.3 L522.7 210.5 L523.1 211.3 L523.5 211.6 L523.9 211.7 L524.2 212.1 L524.5 212.6 L524.9 213.2 L525.2 214.0 L525.6 214.7 L526.0 215.4 L526.3 215.9 L526.6 216.2 L527.0 216.3 L527.4 216.1 L527.7 215.4 L528.0 214.2 L528.4 212.8 L528.8 211.2 L529.1 209.6 L529.5 208.2 L529.8 207.1 L530.1 206.4 L530.5 206.1 L530.9 206.3 L531.2 206.7 L531.6 207.3 L532.0 208.2 L532.4 209.2 L532.8 210.2 L533.1 211.3 L533.5 212.3 L533.9 213.1 L534.2 213.8 L534.6 214.2 L535.0 214.3 L535.4 214.2 L535.7 213.8 L536.0 213.3 L536.4 212.5 L536.8 211.7 L537.1 210.9 L537.5 210.2 L537.8 209.6 L538.1 209.2 L538.5 209.1 L538.9 209.2 L539.3 209.5 L539.7 209.8 L540.1 210.0 L540.5 210.1 L540.9 210.3 L541.2 210.6 L541.6 211.2 L542.0 211.8 L542.4 212.5 L542.8 213.0 L543.1 213.4 L543.5 213.5 L543.9 213.5 L544.2 213.4 L544.6 213.2 L545.0 212.9 L545.4 212.5 L545.7 212.1 L546.1 211.7 L546.5 211.2 L546.8 210.7 L547.2 210.3 L547.6 209.8 L547.9 209.4 L548.3 209.1 L548.7 208.8 L549.1 208.6 L549.4 208.4 L549.8 208.4 L550.2 208.6 L550.6 209.2 L551.0 210.0 L551.3 211.0 L551.7 211.8 L552.1 212.4 L552.5 212.6 L552.9 212.4 L553.3 212.0 L553.6 211.5 L554.0 210.9 L554.4 210.5 L554.8 210.4 L555.2 210.5 L555.6 211.0 L556.0 211.7 L556.3 212.5 L556.7 213.2 L557.1 213.6 L557.5 213.8 L557.9 213.7 L558.2 213.4 L558.6 212.9 L559.0 212.3 L559.3 211.6 L559.7 210.9 L560.0 210.2 L560.4 209.6 L560.8 209.2 L561.1 208.9 L561.5 208.8 L561.9 208.9 L562.2 209.2 L562.5 209.6 L562.9 210.2 L563.2 210.9 L563.6 211.6 L564.0 212.2 L564.3 212.7 L564.6 213.0 L565.0 213.1 L565.4 213.1 L565.8 213.3 L566.2 213.4 L566.6 213.6 L567.0 213.6 L567.4 213.5 L567.8 213.2 L568.1 212.6 L568.5 211.9 L568.9 211.1 L569.3 210.4 L569.7 209.7 L570.0 209.1 L570.4 208.8 L570.8 208.7 L571.2 208.8 L571.6 209.4 L572.0 210.1 L572.3 211.0 L572.7 211.7 L573.1 212.3 L573.5 212.5 L573.9 212.3 L574.2 211.9 L574.6 211.2 L575.0 210.5 L575.4 209.7 L575.8 209.0 L576.1 208.6 L576.5 208.4 L576.9 208.6 L577.2 209.0 L577.6 209.6 L578.0 210.4 L578.3 211.3 L578.7 212.3 L579.0 213.2 L579.4 214.0 L579.8 214.6 L580.1 215.0 L580.5 215.1 L580.9 215.0 L581.2 214.6 L581.6 213.9 L581.9 213.3 L582.3 212.7 L582.6 212.3 L583.0 212.1 L583.4 212.1 L583.7 212.1 L584.1 212.0 L584.4 212.0 L584.8 211.9 L585.1 211.9 L585.5 211.9 L585.9 212.0 L586.2 212.2 L586.6 212.6 L586.9 213.0 L587.3 213.4 L587.6 213.7 L588.0 213.8 L588.4 213.6 L588.8 213.3 L589.1 212.8 L589.5 212.1 L589.9 211.3 L590.2 210.5 L590.6 209.6 L591.0 208.8 L591.4 208.1 L591.8 207.6 L592.1 207.3 L592.5 207.2 L592.9 207.3 L593.2 207.6 L593.5 208.2 L593.9 208.9 L594.2 209.6 L594.6 210.4 L595.0 211.1 L595.3 211.7 L595.6 212.0 L596.0 212.1 L596.4 212.2 L596.8 212.3 L597.2 212.5 L597.6 212.7 L598.0 212.7 L598.4 212.8 L598.8 212.8 L599.1 212.8 L599.5 212.8 L599.9 212.8 L600.2 212.8 L600.6 212.9 L601.0 212.9 L601.4 212.9 L601.8 212.9 L602.1 212.9 L602.5 212.9 L602.9 212.7 L603.2 212.2 L603.5 211.5 L603.9 210.5 L604.2 209.4 L604.6 208.3 L605.0 207.3 L605.3 206.5 L605.6 206.0 L606.0 205.8 L606.4 206.0 L606.8 206.7 L607.1 207.8 L607.5 209.0 L607.9 210.3 L608.2 211.3 L608.6 212.0 L609.0 212.3 L609.4 212.4 L609.7 212.8 L610.1 213.4 L610.5 213.9 L610.8 214.3 L611.2 214.4 L611.6 214.3 L612.0 214.0 L612.4 213.5 L612.8 212.9 L613.2 212.4 L613.6 212.0 L614.0 211.9 L614.4 212.0 L614.8 212.1 L615.2 212.3 L615.6 212.4 L616.0 212.4 L616.4 212.4 L616.8 212.3 L617.1 212.1 L617.5 211.9 L617.9 211.7 L618.2 211.4 L618.6 211.1 L619.0 210.9 L619.4 210.6 L619.8 210.5 L620.1 210.4 L620.5 210.3 L620.9 210.5 L621.3 211.1 L621.7 212.0 L622.0 212.9 L622.4 213.7 L622.8 214.3 L623.2 214.5"/>
<path d="M131.0 247.9 L131.3 247.9 L131.7 247.9 L132.1 247.9 L132.4 247.9 L132.8 247.9 L133.1 247.9 L133.4 247.9 L133.8 247.9 L134.2 247.9 L134.5 247.9 L134.8 247.9 L135.2 247.9 L135.6 247.9 L135.9 247.9 L136.2 247.9 L136.6 247.9 L136.9 247.9 L137.3 247.9 L137.7 247.9 L138.0 247.9 L138.3 247.9 L138.7 247.9 L139.1 247.9 L139.4 247.9 L139.8 247.9 L140.1 247.9 L140.4 247.9 L140.8 247.9 L141.2 247.9 L141.5 247.9 L141.8 247.9 L142.2 247.9 L142.6 247.9 L142.9 247.9 L143.2 247.9 L143.6 247.9 L143.9 247.9 L144.3 247.9 L144.7 247.9 L145.0 247.9 L145.3 247.9 L145.7 247.9 L146.1 247.9 L146.4 247.9 L146.8 247.9 L147.1 247.9 L147.4 247.9 L147.8 247.9 L148.2 247.9 L148.5 247.9 L148.8 247.9 L149.2 247.9 L149.6 247.9 L149.9 247.9 L150.2 247.9 L150.6 247.9 L150.9 247.9 L151.3 247.9 L151.7 247.9 L152.0 247.9 L152.3 247.9 L152.7 247.9 L153.1 247.9 L153.4 247.9 L153.8 247.9 L154.1 247.9 L154.4 247.9 L154.8 247.9 L155.2 247.9 L155.5 247.9 L155.9 247.8 L156.3 247.5 L156.7 247.1 L157.0 246.6 L157.4 246.1 L157.8 245.8 L158.2 245.7 L158.6 246.0 L158.9 246.8 L159.3 248.0 L159.7 249.5 L160.0 251.1 L160.4 252.6 L160.8 253.8 L161.1 254.6 L161.5 254.9 L161.9 254.6 L162.2 253.7 L162.6 252.4 L163.0 250.6 L163.3 248.6 L163.7 246.5 L164.0 244.4 L164.4 242.7 L164.8 241.3 L165.1 240.4 L165.5 240.1 L165.8 240.5 L166.2 241.5 L166.6 243.0 L166.9 245.0 L167.2 247.2 L167.6 249.4 L167.9 251.4 L168.3 253.0 L168.7 254.0 L169.0 254.4 L169.4 254.2 L169.8 253.6 L170.1 252.7 L170.5 251.6 L170.9 250.3 L171.2 248.8 L171.6 247.4 L172.0 246.1 L172.4 244.9 L172.8 244.0 L173.1 243.5 L173.5 243.3 L173.9 243.4 L174.2 243.6 L174.6 244.1 L174.9 244.6 L175.3 245.3 L175.6 246.0 L176.0 246.8 L176.4 247.5 L176.7 248.3 L177.1 248.9 L177.4 249.5 L177.8 249.9 L178.1 250.2 L178.5 250.2 L178.9 250.2 L179.2 250.0 L179.6 249.7 L180.0 249.4 L180.3 249.0 L180.7 248.5 L181.0 248.1 L181.4 247.8 L181.8 247.5 L182.1 247.3 L182.5 247.3 L182.9 247.3 L183.2 247.3 L183.6 247.4 L184.0 247.5 L184.3 247.6 L184.7 247.7 L185.1 247.9 L185.4 248.1 L185.8 248.3 L186.2 248.4 L186.5 248.6 L186.9 248.8 L187.2 249.0 L187.6 249.1 L188.0 249.3 L188.3 249.4 L188.7 249.5 L189.1 249.6 L189.4 249.6 L189.8 249.6 L190.2 249.5 L190.5 249.2 L190.9 248.7 L191.3 248.1 L191.7 247.4 L192.0 246.7 L192.4 246.0 L192.8 245.5 L193.1 245.2 L193.5 245.1 L193.9 245.2 L194.2 245.6 L194.6 246.1 L195.0 246.8 L195.3 247.6 L195.7 248.3 L196.1 249.0 L196.5 249.6 L196.8 249.9 L197.2 250.1 L197.5 250.0 L197.9 249.7 L198.2 249.3 L198.6 248.9 L198.9 248.5 L199.3 248.1 L199.7 247.8 L200.0 247.8 L200.4 247.8 L200.8 248.0 L201.2 248.1 L201.5 248.0 L201.9 247.8 L202.2 247.4 L202.6 246.9 L202.9 246.4 L203.3 246.0 L203.7 245.7 L204.0 245.6 L204.4 245.7 L204.8 245.9 L205.1 246.3 L205.5 246.8 L205.9 247.3 L206.2 247.9 L206.6 248.5 L207.0 249.1 L207.4 249.5 L207.8 249.9 L208.1 250.1 L208.5 250.2 L208.9 250.1 L209.2 249.6 L209.6 248.8 L210.0 248.0 L210.4 247.1 L210.8 246.4 L211.1 245.9 L211.5 245.8 L211.8 245.8 L212.2 245.9 L212.6 246.1 L212.9 246.3 L213.2 246.6 L213.6 246.8 L213.9 247.1 L214.3 247.2 L214.7 247.4 L215.0 247.4 L215.4 247.6 L215.8 248.1 L216.1 248.8 L216.5 249.6 L216.9 250.5 L217.2 251.2 L217.6 251.7 L218.0 251.9 L218.4 251.7 L218.7 251.1 L219.1 250.1 L219.4 249.0 L219.8 247.7 L220.1 246.6 L220.5 245.6 L220.8 245.0 L221.2 244.8 L221.5 244.9 L221.9 245.3 L222.2 245.9 L222.6 246.6 L222.9 247.3 L223.3 247.8 L223.7 248.2 L224.0 248.4 L224.4 248.3 L224.8 248.1 L225.1 248.0 L225.5 247.9 L225.9 248.0 L226.2 248.3 L226.6 248.6 L227.0 248.7 L227.4 248.5 L227.8 248.2 L228.1 247.9 L228.5 247.8 L228.9 248.1 L229.2 248.7 L229.6 249.3 L230.0 249.6 L230.4 249.4 L230.7 248.8 L231.1 247.8 L231.4 246.8 L231.8 245.9 L232.1 245.3 L232.5 245.0 L232.9 245.2 L233.3 245.8 L233.7 246.5 L234.1 247.0 L234.5 247.3 L234.9 247.2 L235.2 247.0 L235.6 246.9 L236.0 246.8 L236.4 247.1 L236.8 248.1 L237.2 249.2 L237.6 250.1 L238.0 250.5 L238.4 250.0 L238.8 248.9 L239.2 247.5 L239.6 246.4 L240.0 245.9 L240.4 246.1 L240.8 246.5 L241.2 246.9 L241.6 247.3 L242.0 247.4 L242.5 247.0 L243.0 246.6 L243.4 246.8 L243.8 247.2 L244.2 247.8 L244.5 248.5 L244.9 248.9 L245.3 249.1 L245.7 248.9 L246.0 248.3 L246.4 247.6 L246.8 246.9 L247.1 246.4 L247.5 246.2 L247.9 246.4 L248.3 247.0 L248.7 247.9 L249.0 248.7 L249.4 249.3 L249.8 249.5 L250.2 249.3 L250.5 248.8 L250.9 248.0 L251.3 247.2 L251.6 246.6 L252.0 246.4 L252.4 246.6 L252.8 247.2 L253.1 247.7 L253.5 247.9 L253.9 247.7 L254.3 247.3 L254.7 246.8 L255.1 246.4 L255.5 246.2 L255.9 246.6 L256.2 247.5 L256.6 248.8 L256.9 250.2 L257.3 251.5 L257.6 252.4 L258.0 252.7 L258.4 252.1 L258.7 250.5 L259.1 248.3 L259.5 246.0 L259.8 244.4 L260.2 243.8 L260.6 244.3 L260.9 245.7 L261.3 247.7 L261.7 249.9 L262.1 251.9 L262.4 253.3 L262.8 253.8 L263.2 253.6 L263.6 253.0 L263.9 252.2 L264.3 251.0 L264.7 249.7 L265.1 248.3 L265.5 247.0 L265.9 245.9 L266.2 245.0 L266.6 244.4 L267.0 244.2 L267.4 244.6 L267.8 245.6 L268.1 247.1 L268.5 248.9 L268.9 250.7 L269.2 252.2 L269.6 253.2 L270.0 253.5 L270.4 253.2 L270.7 252.1 L271.1 250.6 L271.4 249.0 L271.8 247.5 L272.1 246.4 L272.5 246.1 L272.9 246.3 L273.4 246.8 L273.8 247.0 L274.2 246.8 L274.6 246.4 L275.1 246.0 L275.5 245.9 L275.9 246.0 L276.2 246.5 L276.6 247.2 L276.9 247.9 L277.3 248.6 L277.6 249.1 L278.0 249.2 L278.4 249.3 L278.8 249.6 L279.1 249.9 L279.5 250.0 L279.9 250.4 L280.4 251.3 L280.8 251.7 L281.2 251.2 L281.5 249.6 L281.9 247.5 L282.3 245.4 L282.6 243.9 L283.0 243.3 L283.4 244.0 L283.9 245.6 L284.3 247.2 L284.7 247.9 L285.1 247.5 L285.4 246.5 L285.8 245.6 L286.2 245.2 L286.6 245.6 L286.9 246.9 L287.3 248.7 L287.7 250.7 L288.1 252.6 L288.4 253.8 L288.8 254.3 L289.2 253.8 L289.6 252.3 L290.0 250.3 L290.4 248.3 L290.8 246.9 L291.2 246.4 L291.6 246.8 L292.0 247.9 L292.4 249.4 L292.7 250.9 L293.1 252.0 L293.5 252.5 L293.9 252.1 L294.2 251.1 L294.6 249.6 L294.9 247.6 L295.2 245.4 L295.6 243.2 L295.9 241.3 L296.3 239.7 L296.6 238.7 L297.0 238.4 L297.4 239.1 L297.8 240.8 L298.1 242.5 L298.5 243.2 L298.9 242.7 L299.3 241.8 L299.7 241.4 L300.1 242.2 L300.4 244.5 L300.8 247.9 L301.1 251.9 L301.4 256.0 L301.8 259.4 L302.1 261.7 L302.5 262.5 L302.9 261.8 L303.2 260.0 L303.6 257.2 L304.0 254.0 L304.4 250.7 L304.8 248.0 L305.1 246.1 L305.5 245.5 L305.9 245.8 L306.2 246.7 L306.6 248.0 L307.0 249.5 L307.4 251.1 L307.8 252.4 L308.1 253.3 L308.5 253.6 L308.9 252.8 L309.2 250.7 L309.6 248.7 L310.0 247.9 L310.4 248.9 L310.8 251.4 L311.2 254.6 L311.6 257.1 L312.0 258.1 L312.4 257.2 L312.7 254.7 L313.1 251.0 L313.4 246.5 L313.8 242.1 L314.1 238.3 L314.4 235.8 L314.8 234.9 L315.2 236.0 L315.6 239.2 L316.0 243.7 L316.3 248.7 L316.7 253.3 L317.1 256.4 L317.5 257.5 L317.9 256.7 L318.2 254.6 L318.6 252.5 L319.0 251.7 L319.4 252.6 L319.8 255.0 L320.1 257.3 L320.5 258.3 L320.9 256.7 L321.2 252.4 L321.6 246.1 L321.9 239.1 L322.3 232.8 L322.6 228.5 L323.0 226.9 L323.4 228.7 L323.7 233.7 L324.1 240.9 L324.4 248.9 L324.8 256.1 L325.1 261.1 L325.5 262.9 L325.9 260.1 L326.2 253.5 L326.6 246.8 L327.0 244.1 L327.4 245.9 L327.7 250.6 L328.1 256.4 L328.4 261.1 L328.8 262.9 L329.2 261.4 L329.6 257.2 L330.0 251.5 L330.4 245.8 L330.8 241.6 L331.2 240.1 L331.6 240.5 L332.0 241.7 L332.4 243.5 L332.8 245.6 L333.1 247.7 L333.5 249.5 L333.9 250.7 L334.3 251.1 L334.7 250.5 L335.1 248.9 L335.5 246.6 L335.8 244.0 L336.2 241.7 L336.6 240.1 L337.0 239.5 L337.4 239.9 L337.7 241.1 L338.1 243.0 L338.5 245.5 L338.8 248.3 L339.2 251.3 L339.5 254.1 L339.9 256.6 L340.3 258.5 L340.6 259.7 L341.0 260.1 L341.4 259.0 L341.7 255.8 L342.1 251.2 L342.4 246.0 L342.8 241.4 L343.1 238.2 L343.5 237.1 L343.9 237.8 L344.2 239.9 L344.6 243.0 L344.9 246.3 L345.3 249.4 L345.6 251.5 L346.0 252.2 L346.4 250.7 L346.8 247.6 L347.2 246.0 L347.6 246.9 L348.0 249.0 L348.4 251.0 L348.8 251.9 L349.2 251.0 L349.6 248.6 L350.0 245.7 L350.4 243.3 L350.8 242.4 L351.2 243.0 L351.5 244.6 L351.9 246.8 L352.3 249.0 L352.6 250.6 L353.0 251.2 L353.4 250.6 L353.8 249.1 L354.2 247.3 L354.6 245.8 L355.0 245.3 L355.4 245.6 L355.7 246.6 L356.1 248.1 L356.4 249.7 L356.8 251.2 L357.1 252.2 L357.5 252.6 L357.9 252.2 L358.2 251.1 L358.6 249.5 L359.0 247.3 L359.4 244.8 L359.7 242.3 L360.1 239.8 L360.5 237.7 L360.9 236.0 L361.2 234.9 L361.6 234.6 L362.0 235.1 L362.4 236.8 L362.7 239.4 L363.1 242.7 L363.5 246.5 L363.9 250.5 L364.3 254.3 L364.7 257.6 L365.0 260.2 L365.4 261.9 L365.8 262.4 L366.2 261.5 L366.6 258.9 L367.0 255.1 L367.3 251.0 L367.7 247.2 L368.1 244.6 L368.5 243.7 L368.9 244.3 L369.4 245.8 L369.8 247.3 L370.2 247.9 L370.6 247.5 L371.0 246.5 L371.4 245.5 L371.8 245.1 L372.2 245.3 L372.5 245.8 L372.9 246.5 L373.3 247.2 L373.6 247.7 L374.0 247.9 L374.4 248.4 L374.8 249.7 L375.2 251.3 L375.6 252.6 L376.0 253.1 L376.4 252.7 L376.8 251.4 L377.2 249.6 L377.5 247.5 L377.9 245.7 L378.3 244.4 L378.7 244.0 L379.1 244.2 L379.4 245.0 L379.8 246.1 L380.1 247.4 L380.4 248.7 L380.8 249.8 L381.1 250.5 L381.5 250.8 L381.9 250.8 L382.2 250.9 L382.6 251.0 L383.0 251.1 L383.4 250.6 L383.7 249.3 L384.1 247.4 L384.4 245.3 L384.8 243.3 L385.1 242.0 L385.5 241.5 L385.9 242.6 L386.3 245.5 L386.6 249.4 L387.0 253.4 L387.4 256.3 L387.8 257.3 L388.2 256.7 L388.5 254.9 L388.9 252.1 L389.2 248.6 L389.6 245.0 L389.9 241.6 L390.3 238.8 L390.6 236.9 L391.0 236.3 L391.4 236.9 L391.8 238.7 L392.1 241.5 L392.5 244.6 L392.9 247.8 L393.2 250.5 L393.6 252.3 L394.0 253.0 L394.4 252.8 L394.7 252.3 L395.1 251.5 L395.4 250.6 L395.8 249.7 L396.1 248.9 L396.4 248.4 L396.8 248.2 L397.2 248.6 L397.6 249.7 L398.0 251.0 L398.4 252.0 L398.8 252.4 L399.2 252.0 L399.6 250.8 L399.9 249.0 L400.3 246.9 L400.7 244.8 L401.1 243.0 L401.4 241.8 L401.8 241.4 L402.2 241.7 L402.5 242.5 L402.9 243.8 L403.3 245.6 L403.6 247.5 L404.0 249.6 L404.3 251.5 L404.7 253.2 L405.1 254.6 L405.4 255.4 L405.8 255.7 L406.2 255.1 L406.5 253.6 L406.9 251.2 L407.2 248.3 L407.6 245.2 L407.9 242.2 L408.3 239.8 L408.6 238.3 L409.0 237.7 L409.4 238.4 L409.7 240.3 L410.1 243.2 L410.4 246.6 L410.8 250.0 L411.1 252.9 L411.4 254.9 L411.8 255.5 L412.2 255.1 L412.5 254.0 L412.9 252.2 L413.2 249.9 L413.6 247.3 L413.9 244.5 L414.3 241.9 L414.6 239.6 L415.0 237.8 L415.3 236.6 L415.7 236.2 L416.1 236.6 L416.4 237.8 L416.8 239.7 L417.1 242.1 L417.5 245.0 L417.8 248.2 L418.2 251.4 L418.5 254.6 L418.9 257.5 L419.2 260.0 L419.6 261.8 L419.9 263.0 L420.3 263.4 L420.7 262.9 L421.1 261.5 L421.4 259.2 L421.8 256.2 L422.2 252.7 L422.6 249.0 L422.9 245.3 L423.3 241.8 L423.7 238.8 L424.1 236.5 L424.4 235.1 L424.8 234.6 L425.2 235.0 L425.5 236.1 L425.9 237.8 L426.3 240.0 L426.6 242.4 L427.0 244.9 L427.4 247.0 L427.8 248.8 L428.1 249.9 L428.5 250.3 L428.9 250.4 L429.2 250.7 L429.6 251.0 L430.0 251.1 L430.4 250.9 L430.8 250.2 L431.2 249.3 L431.5 248.2 L431.9 247.3 L432.3 246.7 L432.7 246.4 L433.1 246.9 L433.4 248.0 L433.8 249.5 L434.1 251.1 L434.4 252.2 L434.8 252.7 L435.2 252.2 L435.6 251.0 L436.0 249.3 L436.4 247.7 L436.8 246.4 L437.2 246.0 L437.6 246.4 L438.0 247.6 L438.4 249.1 L438.8 250.2 L439.2 250.7 L439.6 250.4 L439.9 249.5 L440.3 248.2 L440.7 246.8 L441.1 245.5 L441.4 244.7 L441.8 244.3 L442.2 244.4 L442.6 244.7 L442.9 245.1 L443.3 245.6 L443.7 246.2 L444.1 246.9 L444.5 247.5 L444.9 248.0 L445.2 248.4 L445.6 248.7 L446.0 248.7 L446.4 248.4 L446.8 247.4 L447.1 246.1 L447.5 244.8 L447.9 243.9 L448.3 243.5 L448.7 243.9 L449.0 244.8 L449.4 246.2 L449.8 247.8 L450.1 249.5 L450.5 250.9 L450.8 251.8 L451.2 252.1 L451.6 252.0 L451.9 251.5 L452.2 250.9 L452.6 250.1 L452.9 249.3 L453.3 248.6 L453.6 248.2 L454.0 248.0 L454.4 247.9 L454.7 247.4 L455.1 246.8 L455.4 246.0 L455.8 245.2 L456.1 244.6 L456.4 244.1 L456.8 244.0 L457.2 244.2 L457.5 244.8 L457.9 245.7 L458.3 246.9 L458.6 248.3 L459.0 249.7 L459.3 251.0 L459.7 252.2 L460.1 253.2 L460.4 253.8 L460.8 254.0 L461.2 253.5 L461.5 252.2 L461.9 250.3 L462.2 247.9 L462.6 245.3 L462.9 243.0 L463.3 241.0 L463.6 239.7 L464.0 239.3 L464.4 239.7 L464.7 240.9 L465.1 242.7 L465.4 244.8 L465.8 246.9 L466.1 248.7 L466.4 249.9 L466.8 250.3 L467.2 250.5 L467.6 250.8 L467.9 251.4 L468.3 252.0 L468.7 252.7 L469.1 253.2 L469.4 253.6 L469.8 253.7 L470.2 253.5 L470.5 252.7 L470.9 251.5 L471.3 249.9 L471.6 248.1 L472.0 246.2 L472.3 244.4 L472.7 242.8 L473.1 241.5 L473.4 240.8 L473.8 240.5 L474.2 240.7 L474.6 241.1 L474.9 241.9 L475.3 242.8 L475.7 243.9 L476.1 245.0 L476.5 246.1 L476.9 247.1 L477.2 247.8 L477.6 248.3 L478.0 248.4 L478.4 248.5 L478.7 248.8 L479.1 249.1 L479.4 249.3 L479.8 249.4 L480.2 249.5 L480.5 249.7 L480.9 250.1 L481.3 250.4 L481.6 250.7 L482.0 250.8 L482.4 250.6 L482.7 250.0 L483.1 249.1 L483.4 248.0 L483.8 246.9 L484.1 246.0 L484.4 245.4 L484.8 245.2 L485.2 245.3 L485.6 245.3 L486.1 245.4 L486.5 245.5 L486.9 245.3 L487.3 244.9 L487.6 244.3 L488.0 243.7 L488.4 243.3 L488.8 243.1 L489.2 243.4 L489.5 244.2 L489.9 245.6 L490.3 247.4 L490.6 249.4 L491.0 251.6 L491.4 253.8 L491.7 255.9 L492.1 257.6 L492.5 259.0 L492.8 259.8 L493.2 260.1 L493.6 259.9 L493.9 259.2 L494.3 258.1 L494.6 256.7 L495.0 254.9 L495.3 252.9 L495.7 250.8 L496.0 248.6 L496.4 246.4 L496.7 244.4 L497.1 242.7 L497.4 241.2 L497.8 240.1 L498.1 239.4 L498.5 239.2 L498.9 239.4 L499.2 240.2 L499.6 241.3 L499.9 242.7 L500.2 244.2 L500.6 245.7 L500.9 247.1 L501.3 248.2 L501.6 249.0 L502.0 249.2 L502.4 249.0 L502.7 248.4 L503.1 247.6 L503.4 246.6 L503.8 245.8 L504.1 245.2 L504.5 245.0 L504.9 245.1 L505.2 245.3 L505.6 245.6 L506.0 246.0 L506.3 246.4 L506.7 246.9 L507.0 247.4 L507.4 247.8 L507.8 248.1 L508.1 248.3 L508.5 248.4 L508.9 248.3 L509.2 248.0 L509.6 247.5 L510.0 246.9 L510.4 246.3 L510.7 245.6 L511.1 245.0 L511.5 244.6 L511.8 244.3 L512.2 244.2 L512.6 244.3 L512.9 244.6 L513.3 245.1 L513.6 245.9 L514.0 246.7 L514.3 247.7 L514.7 248.7 L515.0 249.8 L515.4 250.8 L515.7 251.8 L516.1 252.7 L516.4 253.4 L516.8 253.9 L517.1 254.2 L517.5 254.3 L517.9 254.0 L518.2 253.1 L518.6 251.6 L519.0 249.8 L519.3 247.9 L519.7 246.2 L520.1 244.7 L520.4 243.8 L520.8 243.4 L521.2 243.6 L521.6 244.3 L522.0 245.2 L522.3 246.2 L522.7 247.1 L523.1 247.7 L523.5 247.9 L523.9 248.0 L524.2 248.4 L524.5 248.9 L524.9 249.6 L525.2 250.4 L525.6 251.1 L526.0 251.8 L526.3 252.4 L526.6 252.7 L527.0 252.9 L527.4 252.6 L527.7 252.0 L528.0 250.9 L528.4 249.6 L528.8 248.1 L529.1 246.6 L529.5 245.3 L529.8 244.3 L530.1 243.6 L530.5 243.4 L530.9 243.5 L531.2 243.9 L531.6 244.6 L532.0 245.5 L532.4 246.5 L532.8 247.6 L533.1 248.7 L533.5 249.7 L533.9 250.5 L534.2 251.2 L534.6 251.6 L535.0 251.8 L535.4 251.6 L535.7 251.2 L536.0 250.6 L536.4 249.7 L536.8 248.8 L537.1 247.9 L537.5 247.1 L537.8 246.4 L538.1 246.0 L538.5 245.9 L538.9 245.9 L539.3 245.9 L539.7 246.0 L540.1 246.0 L540.5 246.1 L540.9 246.2 L541.2 246.7 L541.6 247.5 L542.0 248.4 L542.4 249.2 L542.8 250.0 L543.1 250.5 L543.5 250.7 L543.9 250.6 L544.2 250.5 L544.6 250.2 L545.0 249.9 L545.4 249.5 L545.7 249.0 L546.1 248.5 L546.5 248.0 L546.8 247.4 L547.2 246.9 L547.6 246.4 L547.9 245.9 L548.3 245.5 L548.7 245.2 L549.1 245.0 L549.4 244.8 L549.8 244.8 L550.2 244.9 L550.6 245.4 L551.0 246.2 L551.3 247.0 L551.7 247.7 L552.1 248.2 L552.5 248.3 L552.9 248.2 L553.3 247.9 L553.6 247.5 L554.0 247.1 L554.4 246.8 L554.8 246.6 L555.2 246.9 L555.6 247.5 L556.0 248.3 L556.3 249.3 L556.7 250.2 L557.1 250.8 L557.5 251.0 L557.9 250.9 L558.2 250.5 L558.6 249.9 L559.0 249.1 L559.3 248.2 L559.7 247.3 L560.0 246.4 L560.4 245.6 L560.8 245.0 L561.1 244.6 L561.5 244.4 L561.9 244.6 L562.2 245.0 L562.5 245.6 L562.9 246.4 L563.2 247.3 L563.6 248.2 L564.0 249.0 L564.3 249.7 L564.6 250.1 L565.0 250.2 L565.4 250.2 L565.8 250.1 L566.2 250.0 L566.6 250.0 L567.0 249.9 L567.4 249.8 L567.8 249.5 L568.1 248.9 L568.5 248.3 L568.9 247.5 L569.3 246.8 L569.7 246.1 L570.0 245.6 L570.4 245.2 L570.8 245.1 L571.2 245.3 L571.6 245.8 L572.0 246.5 L572.3 247.3 L572.7 248.0 L573.1 248.5 L573.5 248.7 L573.9 248.6 L574.2 248.3 L574.6 247.9 L575.0 247.4 L575.4 247.0 L575.8 246.5 L576.1 246.3 L576.5 246.2 L576.9 246.2 L577.2 246.5 L577.6 246.9 L578.0 247.4 L578.3 247.9 L578.7 248.5 L579.0 249.1 L579.4 249.6 L579.8 249.9 L580.1 250.2 L580.5 250.3 L580.9 250.2 L581.2 249.9 L581.6 249.6 L581.9 249.2 L582.3 248.8 L582.6 248.6 L583.0 248.5 L583.4 248.5 L583.7 248.5 L584.1 248.4 L584.4 248.4 L584.8 248.4 L585.1 248.3 L585.5 248.3 L585.9 248.4 L586.2 248.5 L586.6 248.7 L586.9 248.9 L587.3 249.0 L587.6 249.2 L588.0 249.2 L588.4 249.1 L588.8 248.8 L589.1 248.3 L589.5 247.7 L589.9 246.9 L590.2 246.1 L590.6 245.3 L591.0 244.6 L591.4 243.9 L591.8 243.4 L592.1 243.1 L592.5 243.0 L592.9 243.1 L593.2 243.5 L593.5 244.1 L593.9 244.9 L594.2 245.8 L594.6 246.6 L595.0 247.4 L595.3 248.0 L595.6 248.4 L596.0 248.5 L596.4 248.6 L596.8 248.7 L597.2 248.9 L597.6 249.0 L598.0 249.1 L598.4 249.1 L598.8 249.1 L599.1 249.1 L599.5 249.1 L599.9 249.1 L600.2 249.1 L600.6 249.1 L601.0 249.1 L601.4 249.1 L601.8 249.1 L602.1 249.1 L602.5 249.1 L602.9 248.9 L603.2 248.3 L603.5 247.4 L603.9 246.3 L604.2 245.1 L604.6 243.8 L605.0 242.7 L605.3 241.9 L605.6 241.3 L606.0 241.1 L606.4 241.4 L606.8 242.2 L607.1 243.4 L607.5 244.8 L607.9 246.2 L608.2 247.4 L608.6 248.2 L609.0 248.5 L609.4 248.6 L609.7 249.0 L610.1 249.6 L610.5 250.1 L610.8 250.5 L611.2 250.6 L611.6 250.5 L612.0 250.2 L612.4 249.6 L612.8 249.1 L613.2 248.6 L613.6 248.2 L614.0 248.1 L614.4 248.2 L614.8 248.5 L615.2 248.8 L615.6 249.0 L616.0 249.1 L616.4 249.1 L616.8 249.0 L617.1 248.9 L617.5 248.7 L617.9 248.5 L618.2 248.2 L618.6 248.0 L619.0 247.8 L619.4 247.6 L619.8 247.5 L620.1 247.4 L620.5 247.3 L620.9 247.5 L621.3 248.0 L621.7 248.7 L622.0 249.5 L622.4 250.2 L622.8 250.7 L623.2 250.9"/>
<path d="M131.0 282.2 L131.3 282.2 L131.7 282.2 L132.1 282.2 L132.4 282.2 L132.8 282.2 L133.1 282.2 L133.4 282.2 L133.8 282.2 L134.2 282.2 L134.5 282.2 L134.8 282.2 L135.2 282.2 L135.6 282.2 L135.9 282.2 L136.2 282.2 L136.6 282.2 L136.9 282.2 L137.3 282.2 L137.7 282.2 L138.0 282.2 L138.3 282.2 L138.7 282.2 L139.1 282.2 L139.4 282.2 L139.8 282.2 L140.1 282.2 L140.4 282.2 L140.8 282.2 L141.2 282.2 L141.5 282.2 L141.8 282.2 L142.2 282.2 L142.6 282.2 L142.9 282.2 L143.2 282.2 L143.6 282.2 L143.9 282.2 L144.3 282.2 L144.7 282.2 L145.0 282.2 L145.3 282.2 L145.7 282.2 L146.1 282.2 L146.4 282.2 L146.8 282.2 L147.1 282.2 L147.4 282.2 L147.8 282.2 L148.2 282.2 L148.5 282.2 L148.8 282.2 L149.2 282.2 L149.6 282.2 L149.9 282.2 L150.2 282.2 L150.6 282.2 L150.9 282.2 L151.3 282.2 L151.7 282.2 L152.0 282.2 L152.3 282.2 L152.7 282.2 L153.1 282.2 L153.4 282.2 L153.8 282.2 L154.1 282.2 L154.4 282.2 L154.8 282.2 L155.2 282.2 L155.5 282.2 L155.9 282.0 L156.3 281.5 L156.7 280.9 L157.0 280.1 L157.4 279.4 L157.8 278.9 L158.2 278.7 L158.6 279.0 L158.9 279.9 L159.3 281.2 L159.7 282.8 L160.0 284.5 L160.4 286.0 L160.8 287.3 L161.1 288.2 L161.5 288.5 L161.9 288.2 L162.2 287.4 L162.6 286.1 L163.0 284.5 L163.3 282.7 L163.7 280.8 L164.0 278.9 L164.4 277.3 L164.8 276.0 L165.1 275.2 L165.5 275.0 L165.8 275.3 L166.2 276.4 L166.6 278.0 L166.9 280.0 L167.2 282.3 L167.6 284.5 L167.9 286.6 L168.3 288.2 L168.7 289.2 L169.0 289.6 L169.4 289.4 L169.8 288.8 L170.1 287.8 L170.5 286.5 L170.9 285.0 L171.2 283.4 L171.6 281.8 L172.0 280.3 L172.4 279.0 L172.8 278.1 L173.1 277.4 L173.5 277.2 L173.9 277.3 L174.2 277.5 L174.6 277.9 L174.9 278.4 L175.3 279.0 L175.6 279.7 L176.0 280.4 L176.4 281.1 L176.7 281.8 L177.1 282.4 L177.4 282.9 L177.8 283.3 L178.1 283.5 L178.5 283.6 L178.9 283.5 L179.2 283.4 L179.6 283.1 L180.0 282.8 L180.3 282.5 L180.7 282.1 L181.0 281.7 L181.4 281.4 L181.8 281.2 L182.1 281.0 L182.5 281.0 L182.9 281.0 L183.2 281.1 L183.6 281.2 L184.0 281.3 L184.3 281.5 L184.7 281.7 L185.1 282.0 L185.4 282.2 L185.8 282.5 L186.2 282.8 L186.5 283.1 L186.9 283.4 L187.2 283.7 L187.6 283.9 L188.0 284.1 L188.3 284.3 L188.7 284.5 L189.1 284.6 L189.4 284.7 L189.8 284.7 L190.2 284.5 L190.5 284.1 L190.9 283.5 L191.3 282.6 L191.7 281.7 L192.0 280.8 L192.4 280.0 L192.8 279.3 L193.1 278.9 L193.5 278.8 L193.9 278.9 L194.2 279.2 L194.6 279.8 L195.0 280.5 L195.3 281.3 L195.7 282.1 L196.1 282.8 L196.5 283.3 L196.8 283.7 L197.2 283.8 L197.5 283.8 L197.9 283.6 L198.2 283.4 L198.6 283.1 L198.9 282.8 L199.3 282.5 L199.7 282.4 L200.0 282.3 L200.4 282.4 L200.8 282.6 L201.2 282.7 L201.5 282.6 L201.9 282.4 L202.2 282.0 L202.6 281.6 L202.9 281.2 L203.3 280.8 L203.7 280.6 L204.0 280.5 L204.4 280.6 L204.8 280.8 L205.1 281.1 L205.5 281.6 L205.9 282.1 L206.2 282.6 L206.6 283.1 L207.0 283.6 L207.4 284.1 L207.8 284.4 L208.1 284.6 L208.5 284.7 L208.9 284.5 L209.2 284.0 L209.6 283.2 L210.0 282.3 L210.4 281.4 L210.8 280.6 L211.1 280.1 L211.5 279.9 L211.8 280.0 L212.2 280.0 L212.6 280.1 L212.9 280.3 L213.2 280.4 L213.6 280.5 L213.9 280.7 L214.3 280.8 L214.7 280.8 L215.0 280.9 L215.4 281.0 L215.8 281.6 L216.1 282.3 L216.5 283.2 L216.9 284.2 L217.2 284.9 L217.6 285.5 L218.0 285.6 L218.4 285.5 L218.7 284.9 L219.1 284.1 L219.4 283.2 L219.8 282.1 L220.1 281.2 L220.5 280.4 L220.8 279.8 L221.2 279.7 L221.5 279.8 L221.9 280.1 L222.2 280.6 L222.6 281.2 L222.9 281.8 L223.3 282.3 L223.7 282.6 L224.0 282.7 L224.4 282.6 L224.8 282.5 L225.1 282.3 L225.5 282.2 L225.9 282.4 L226.2 282.8 L226.6 283.3 L227.0 283.4 L227.4 283.3 L227.8 283.0 L228.1 282.6 L228.5 282.5 L228.9 282.7 L229.2 283.2 L229.6 283.8 L230.0 284.0 L230.4 283.8 L230.7 283.2 L231.1 282.4 L231.4 281.5 L231.8 280.6 L232.1 280.1 L232.5 279.9 L232.9 280.0 L233.3 280.5 L233.7 281.1 L234.1 281.6 L234.5 281.8 L234.9 281.7 L235.2 281.4 L235.6 281.1 L236.0 281.0 L236.4 281.2 L236.8 281.9 L237.2 282.7 L237.6 283.3 L238.0 283.5 L238.4 283.3 L238.8 282.6 L239.2 281.7 L239.6 281.0 L240.0 280.7 L240.4 280.8 L240.8 281.1 L241.2 281.3 L241.6 281.6 L242.0 281.7 L242.5 281.5 L243.0 281.4 L243.4 281.6 L243.8 282.2 L244.2 283.0 L244.5 283.7 L244.9 284.3 L245.3 284.5 L245.7 284.3 L246.0 283.6 L246.4 282.7 L246.8 281.8 L247.1 281.2 L247.5 281.0 L247.9 281.2 L248.3 282.0 L248.7 283.0 L249.0 284.0 L249.4 284.8 L249.8 285.0 L250.2 284.7 L250.5 283.9 L250.9 282.8 L251.3 281.7 L251.6 280.9 L252.0 280.6 L252.4 280.8 L252.8 281.4 L253.1 282.0 L253.5 282.2 L253.9 282.0 L254.3 281.5 L254.7 280.9 L255.1 280.4 L255.5 280.2 L255.9 280.5 L256.2 281.4 L256.6 282.7 L256.9 284.1 L257.3 285.4 L257.6 286.3 L258.0 286.6 L258.4 286.1 L258.7 284.8 L259.1 283.0 L259.5 281.3 L259.8 280.0 L260.2 279.5 L260.6 279.9 L260.9 281.1 L261.3 282.8 L261.7 284.7 L262.1 286.5 L262.4 287.7 L262.8 288.1 L263.2 287.9 L263.6 287.2 L263.9 286.2 L264.3 284.9 L264.7 283.4 L265.1 281.9 L265.5 280.4 L265.9 279.1 L266.2 278.1 L266.6 277.5 L267.0 277.3 L267.4 277.6 L267.8 278.7 L268.1 280.2 L268.5 282.0 L268.9 283.8 L269.2 285.4 L269.6 286.4 L270.0 286.7 L270.4 286.4 L270.7 285.3 L271.1 283.8 L271.4 282.2 L271.8 280.6 L272.1 279.6 L272.5 279.2 L272.9 279.8 L273.4 280.9 L273.8 281.5 L274.2 281.2 L274.6 280.5 L275.1 279.9 L275.5 279.6 L275.9 279.8 L276.2 280.4 L276.6 281.2 L276.9 282.2 L277.3 283.1 L277.6 283.6 L278.0 283.9 L278.4 283.8 L278.8 283.7 L279.1 283.5 L279.5 283.5 L279.9 283.9 L280.4 284.8 L280.8 285.2 L281.2 284.7 L281.5 283.4 L281.9 281.6 L282.3 279.8 L282.6 278.5 L283.0 278.0 L283.4 278.6 L283.9 280.1 L284.3 281.6 L284.7 282.2 L285.1 281.7 L285.4 280.5 L285.8 279.2 L286.2 278.7 L286.6 279.2 L286.9 280.5 L287.3 282.5 L287.7 284.6 L288.1 286.5 L288.4 287.9 L288.8 288.4 L289.2 287.8 L289.6 286.5 L290.0 284.6 L290.4 282.7 L290.8 281.3 L291.2 280.8 L291.6 281.2 L292.0 282.5 L292.4 284.1 L292.7 285.8 L293.1 287.0 L293.5 287.4 L293.9 287.1 L294.2 286.1 L294.6 284.5 L294.9 282.5 L295.2 280.2 L295.6 278.0 L295.9 276.0 L296.3 274.4 L296.6 273.4 L297.0 273.0 L297.4 273.7 L297.8 275.2 L298.1 276.8 L298.5 277.5 L298.9 277.2 L299.3 276.6 L299.7 276.3 L300.1 277.1 L300.4 279.4 L300.8 282.7 L301.1 286.7 L301.4 290.7 L301.8 294.0 L302.1 296.3 L302.5 297.1 L302.9 296.4 L303.2 294.6 L303.6 291.9 L304.0 288.7 L304.4 285.5 L304.8 282.7 L305.1 280.9 L305.5 280.3 L305.9 280.5 L306.2 281.2 L306.6 282.2 L307.0 283.4 L307.4 284.6 L307.8 285.7 L308.1 286.4 L308.5 286.6 L308.9 286.0 L309.2 284.4 L309.6 282.8 L310.0 282.2 L310.4 283.2 L310.8 285.7 L311.2 288.8 L311.6 291.4 L312.0 292.3 L312.4 291.5 L312.7 289.1 L313.1 285.5 L313.4 281.3 L313.8 277.0 L314.1 273.4 L314.4 271.0 L314.8 270.2 L315.2 271.3 L315.6 274.4 L316.0 278.8 L316.3 283.8 L316.7 288.2 L317.1 291.3 L317.5 292.4 L317.9 291.4 L318.2 288.9 L318.6 286.4 L319.0 285.3 L319.4 286.4 L319.8 289.0 L320.1 291.5 L320.5 292.6 L320.9 291.1 L321.2 286.9 L321.6 280.8 L321.9 274.0 L322.3 267.9 L322.6 263.7 L323.0 262.2 L323.4 263.8 L323.7 268.4 L324.1 275.0 L324.4 282.4 L324.8 289.0 L325.1 293.6 L325.5 295.2 L325.9 292.8 L326.2 287.0 L326.6 281.2 L327.0 278.8 L327.4 280.4 L327.7 284.4 L328.1 289.3 L328.4 293.3 L328.8 294.8 L329.2 293.4 L329.6 289.7 L330.0 284.5 L330.4 279.4 L330.8 275.6 L331.2 274.2 L331.6 274.6 L332.0 275.8 L332.4 277.6 L332.8 279.8 L333.1 281.9 L333.5 283.7 L333.9 284.9 L334.3 285.3 L334.7 284.8 L335.1 283.4 L335.5 281.3 L335.8 279.0 L336.2 277.0 L336.6 275.6 L337.0 275.1 L337.4 275.4 L337.7 276.5 L338.1 278.2 L338.5 280.3 L338.8 282.7 L339.2 285.3 L339.5 287.7 L339.9 289.9 L340.3 291.5 L340.6 292.6 L341.0 293.0 L341.4 291.9 L341.7 289.1 L342.1 284.9 L342.4 280.3 L342.8 276.1 L343.1 273.3 L343.5 272.2 L343.9 272.9 L344.2 274.7 L344.6 277.4 L344.9 280.4 L345.3 283.0 L345.6 284.9 L346.0 285.5 L346.4 284.0 L346.8 281.0 L347.2 279.5 L347.6 280.4 L348.0 282.6 L348.4 284.9 L348.8 285.8 L349.2 285.0 L349.6 282.8 L350.0 280.2 L350.4 278.0 L350.8 277.2 L351.2 277.8 L351.5 279.4 L351.9 281.5 L352.3 283.7 L352.6 285.3 L353.0 285.9 L353.4 285.2 L353.8 283.4 L354.2 281.1 L354.6 279.3 L355.0 278.6 L355.4 279.0 L355.7 280.2 L356.1 282.0 L356.4 284.0 L356.8 285.7 L357.1 287.0 L357.5 287.4 L357.9 287.0 L358.2 285.9 L358.6 284.2 L359.0 281.9 L359.4 279.3 L359.7 276.7 L360.1 274.1 L360.5 271.8 L360.9 270.1 L361.2 269.0 L361.6 268.6 L362.0 269.2 L362.4 270.8 L362.7 273.5 L363.1 276.9 L363.5 280.8 L363.9 284.9 L364.3 288.8 L364.7 292.2 L365.0 294.8 L365.4 296.5 L365.8 297.1 L366.2 296.1 L366.6 293.3 L367.0 289.2 L367.3 284.7 L367.7 280.7 L368.1 277.9 L368.5 276.9 L368.9 277.7 L369.4 279.5 L369.8 281.4 L370.2 282.2 L370.6 281.9 L371.0 281.0 L371.4 280.2 L371.8 279.9 L372.2 280.0 L372.5 280.5 L372.9 281.0 L373.3 281.6 L373.6 282.0 L374.0 282.2 L374.4 282.9 L374.8 284.6 L375.2 286.7 L375.6 288.4 L376.0 289.1 L376.4 288.5 L376.8 286.9 L377.2 284.7 L377.5 282.1 L377.9 279.8 L378.3 278.3 L378.7 277.7 L379.1 278.0 L379.4 278.9 L379.8 280.1 L380.1 281.6 L380.4 283.1 L380.8 284.4 L381.1 285.2 L381.5 285.5 L381.9 285.4 L382.2 285.0 L382.6 284.6 L383.0 284.4 L383.4 284.0 L383.7 282.7 L384.1 281.0 L384.4 279.0 L384.8 277.3 L385.1 276.1 L385.5 275.6 L385.9 276.7 L386.3 279.6 L386.6 283.5 L387.0 287.4 L387.4 290.3 L387.8 291.4 L388.2 290.8 L388.5 288.9 L388.9 286.2 L389.2 282.8 L389.6 279.2 L389.9 275.8 L390.3 273.0 L390.6 271.2 L391.0 270.6 L391.4 271.2 L391.8 272.9 L392.1 275.5 L392.5 278.5 L392.9 281.5 L393.2 284.1 L393.6 285.9 L394.0 286.5 L394.4 286.3 L394.7 285.9 L395.1 285.3 L395.4 284.5 L395.8 283.8 L396.1 283.2 L396.4 282.8 L396.8 282.6 L397.2 283.1 L397.6 284.3 L398.0 285.8 L398.4 286.9 L398.8 287.4 L399.2 286.9 L399.6 285.5 L399.9 283.4 L400.3 280.9 L400.7 278.4 L401.1 276.3 L401.4 274.9 L401.8 274.4 L402.2 274.7 L402.5 275.6 L402.9 277.1 L403.3 278.9 L403.6 281.0 L404.0 283.2 L404.3 285.3 L404.7 287.2 L405.1 288.6 L405.4 289.6 L405.8 289.9 L406.2 289.4 L406.5 287.9 L406.9 285.6 L407.2 282.8 L407.6 279.8 L407.9 277.0 L408.3 274.7 L408.6 273.2 L409.0 272.7 L409.4 273.3 L409.7 275.0 L410.1 277.7 L410.4 280.8 L410.8 283.9 L411.1 286.5 L411.4 288.2 L411.8 288.9 L412.2 288.5 L412.5 287.5 L412.9 285.9 L413.2 283.9 L413.6 281.6 L413.9 279.1 L414.3 276.8 L414.6 274.8 L415.0 273.2 L415.3 272.2 L415.7 271.8 L416.1 272.2 L416.4 273.4 L416.8 275.2 L417.1 277.7 L417.5 280.6 L417.8 283.7 L418.2 287.0 L418.5 290.2 L418.9 293.1 L419.2 295.5 L419.6 297.4 L419.9 298.5 L420.3 298.9 L420.7 298.4 L421.1 296.8 L421.4 294.4 L421.8 291.2 L422.2 287.5 L422.6 283.4 L422.9 279.4 L423.3 275.7 L423.7 272.5 L424.1 270.1 L424.4 268.5 L424.8 268.0 L425.2 268.4 L425.5 269.6 L425.9 271.4 L426.3 273.7 L426.6 276.3 L427.0 278.9 L427.4 281.2 L427.8 283.0 L428.1 284.2 L428.5 284.6 L428.9 284.7 L429.2 284.8 L429.6 285.0 L430.0 285.0 L430.4 284.9 L430.8 284.3 L431.2 283.6 L431.5 282.8 L431.9 282.0 L432.3 281.5 L432.7 281.3 L433.1 281.7 L433.4 282.8 L433.8 284.4 L434.1 285.9 L434.4 287.0 L434.8 287.4 L435.2 286.9 L435.6 285.7 L436.0 284.1 L436.4 282.4 L436.8 281.2 L437.2 280.8 L437.6 281.2 L438.0 282.2 L438.4 283.5 L438.8 284.5 L439.2 284.9 L439.6 284.7 L439.9 284.0 L440.3 283.1 L440.7 282.0 L441.1 281.1 L441.4 280.4 L441.8 280.2 L442.2 280.2 L442.6 280.4 L442.9 280.6 L443.3 280.9 L443.7 281.3 L444.1 281.6 L444.5 282.0 L444.9 282.3 L445.2 282.5 L445.6 282.7 L446.0 282.7 L446.4 282.4 L446.8 281.7 L447.1 280.6 L447.5 279.6 L447.9 278.9 L448.3 278.6 L448.7 278.9 L449.0 279.7 L449.4 281.0 L449.8 282.5 L450.1 284.0 L450.5 285.3 L450.8 286.1 L451.2 286.4 L451.6 286.2 L451.9 285.8 L452.2 285.2 L452.6 284.4 L452.9 283.7 L453.3 283.1 L453.6 282.6 L454.0 282.5 L454.4 282.3 L454.7 281.9 L455.1 281.2 L455.4 280.4 L455.8 279.6 L456.1 279.0 L456.4 278.5 L456.8 278.3 L457.2 278.5 L457.5 279.2 L457.9 280.1 L458.3 281.3 L458.6 282.7 L459.0 284.2 L459.3 285.6 L459.7 286.8 L460.1 287.7 L460.4 288.4 L460.8 288.6 L461.2 288.1 L461.5 286.9 L461.9 285.0 L462.2 282.6 L462.6 280.2 L462.9 277.8 L463.3 275.9 L463.6 274.7 L464.0 274.2 L464.4 274.7 L464.7 275.9 L465.1 277.6 L465.4 279.8 L465.8 281.9 L466.1 283.7 L466.4 284.9 L466.8 285.3 L467.2 285.3 L467.6 285.5 L467.9 285.8 L468.3 286.1 L468.7 286.3 L469.1 286.6 L469.4 286.8 L469.8 286.8 L470.2 286.6 L470.5 285.9 L470.9 284.8 L471.3 283.3 L471.6 281.7 L472.0 280.0 L472.3 278.3 L472.7 276.9 L473.1 275.8 L473.4 275.1 L473.8 274.8 L474.2 275.0 L474.6 275.5 L474.9 276.3 L475.3 277.3 L475.7 278.5 L476.1 279.7 L476.5 280.8 L476.9 281.8 L477.2 282.6 L477.6 283.1 L478.0 283.3 L478.4 283.2 L478.7 283.1 L479.1 282.9 L479.4 282.8 L479.8 282.7 L480.2 282.9 L480.5 283.5 L480.9 284.3 L481.3 285.1 L481.6 285.7 L482.0 285.9 L482.4 285.7 L482.7 285.1 L483.1 284.2 L483.4 283.1 L483.8 282.1 L484.1 281.2 L484.4 280.6 L484.8 280.4 L485.2 280.2 L485.6 279.9 L486.1 279.5 L486.5 279.3 L486.9 279.2 L487.3 278.9 L487.6 278.4 L488.0 277.9 L488.4 277.6 L488.8 277.4 L489.2 277.7 L489.5 278.5 L489.9 279.8 L490.3 281.6 L490.6 283.5 L491.0 285.7 L491.4 287.8 L491.7 289.8 L492.1 291.5 L492.5 292.8 L492.8 293.7 L493.2 293.9 L493.6 293.7 L493.9 293.1 L494.3 292.1 L494.6 290.7 L495.0 289.1 L495.3 287.2 L495.7 285.2 L496.0 283.2 L496.4 281.2 L496.7 279.4 L497.1 277.7 L497.4 276.4 L497.8 275.4 L498.1 274.7 L498.5 274.5 L498.9 274.7 L499.2 275.4 L499.6 276.4 L499.9 277.6 L500.2 279.0 L500.6 280.4 L500.9 281.7 L501.3 282.7 L501.6 283.3 L502.0 283.5 L502.4 283.4 L502.7 282.9 L503.1 282.3 L503.4 281.6 L503.8 280.9 L504.1 280.5 L504.5 280.3 L504.9 280.4 L505.2 280.5 L505.6 280.8 L506.0 281.1 L506.3 281.4 L506.7 281.8 L507.0 282.1 L507.4 282.4 L507.8 282.7 L508.1 282.8 L508.5 282.9 L508.9 282.7 L509.2 282.3 L509.6 281.7 L510.0 280.9 L510.4 280.0 L510.7 279.1 L511.1 278.3 L511.5 277.7 L511.8 277.3 L512.2 277.1 L512.6 277.3 L512.9 277.6 L513.3 278.1 L513.6 278.8 L514.0 279.7 L514.3 280.7 L514.7 281.7 L515.0 282.8 L515.4 283.9 L515.7 284.8 L516.1 285.7 L516.4 286.4 L516.8 287.0 L517.1 287.3 L517.5 287.4 L517.9 287.1 L518.2 286.2 L518.6 284.9 L519.0 283.2 L519.3 281.5 L519.7 279.8 L520.1 278.5 L520.4 277.6 L520.8 277.3 L521.2 277.6 L521.6 278.2 L522.0 279.2 L522.3 280.3 L522.7 281.3 L523.1 282.0 L523.5 282.2 L523.9 282.3 L524.2 282.7 L524.5 283.3 L524.9 284.0 L525.2 284.9 L525.6 285.7 L526.0 286.4 L526.3 287.0 L526.6 287.4 L527.0 287.5 L527.4 287.3 L527.7 286.5 L528.0 285.3 L528.4 283.7 L528.8 282.0 L529.1 280.3 L529.5 278.8 L529.8 277.6 L530.1 276.8 L530.5 276.6 L530.9 276.7 L531.2 277.2 L531.6 277.9 L532.0 278.8 L532.4 279.9 L532.8 281.1 L533.1 282.3 L533.5 283.4 L533.9 284.3 L534.2 285.0 L534.6 285.5 L535.0 285.6 L535.4 285.5 L535.7 285.1 L536.0 284.5 L536.4 283.8 L536.8 283.0 L537.1 282.2 L537.5 281.4 L537.8 280.8 L538.1 280.5 L538.5 280.3 L538.9 280.3 L539.3 280.4 L539.7 280.4 L540.1 280.5 L540.5 280.5 L540.9 280.6 L541.2 281.1 L541.6 281.7 L542.0 282.5 L542.4 283.2 L542.8 283.9 L543.1 284.3 L543.5 284.5 L543.9 284.4 L544.2 284.3 L544.6 284.1 L545.0 283.8 L545.4 283.4 L545.7 283.0 L546.1 282.5 L546.5 282.0 L546.8 281.5 L547.2 281.0 L547.6 280.6 L547.9 280.1 L548.3 279.8 L548.7 279.5 L549.1 279.2 L549.4 279.1 L549.8 279.1 L550.2 279.3 L550.6 279.8 L551.0 280.5 L551.3 281.4 L551.7 282.2 L552.1 282.7 L552.5 282.9 L552.9 282.8 L553.3 282.4 L553.6 282.0 L554.0 281.5 L554.4 281.2 L554.8 281.1 L555.2 281.3 L555.6 281.7 L556.0 282.4 L556.3 283.1 L556.7 283.8 L557.1 284.2 L557.5 284.4 L557.9 284.3 L558.2 284.0 L558.6 283.5 L559.0 282.9 L559.3 282.1 L559.7 281.4 L560.0 280.7 L560.4 280.1 L560.8 279.6 L561.1 279.3 L561.5 279.2 L561.9 279.3 L562.2 279.7 L562.5 280.3 L562.9 281.1 L563.2 282.0 L563.6 282.9 L564.0 283.7 L564.3 284.3 L564.6 284.7 L565.0 284.8 L565.4 284.7 L565.8 284.4 L566.2 284.1 L566.6 283.8 L567.0 283.7 L567.4 283.6 L567.8 283.3 L568.1 282.8 L568.5 282.2 L568.9 281.6 L569.3 281.0 L569.7 280.4 L570.0 279.9 L570.4 279.6 L570.8 279.5 L571.2 279.7 L571.6 280.3 L572.0 281.1 L572.3 282.0 L572.7 282.9 L573.1 283.4 L573.5 283.7 L573.9 283.5 L574.2 283.0 L574.6 282.3 L575.0 281.5 L575.4 280.7 L575.8 280.0 L576.1 279.5 L576.5 279.4 L576.9 279.5 L577.2 279.8 L577.6 280.3 L578.0 280.9 L578.3 281.6 L578.7 282.3 L579.0 283.0 L579.4 283.6 L579.8 284.1 L580.1 284.4 L580.5 284.5 L580.9 284.4 L581.2 284.2 L581.6 283.9 L581.9 283.5 L582.3 283.2 L582.6 283.0 L583.0 282.9 L583.4 282.9 L583.7 282.9 L584.1 282.8 L584.4 282.7 L584.8 282.6 L585.1 282.5 L585.5 282.5 L585.9 282.6 L586.2 282.7 L586.6 283.0 L586.9 283.3 L587.3 283.5 L587.6 283.7 L588.0 283.7 L588.4 283.6 L588.8 283.3 L589.1 282.8 L589.5 282.1 L589.9 281.3 L590.2 280.4 L590.6 279.6 L591.0 278.8 L591.4 278.1 L591.8 277.5 L592.1 277.2 L592.5 277.1 L592.9 277.2 L593.2 277.7 L593.5 278.4 L593.9 279.3 L594.2 280.2 L594.6 281.2 L595.0 282.1 L595.3 282.8 L595.6 283.2 L596.0 283.4 L596.4 283.4 L596.8 283.4 L597.2 283.4 L597.6 283.5 L598.0 283.5 L598.4 283.5 L598.8 283.5 L599.1 283.5 L599.5 283.5 L599.9 283.6 L600.2 283.6 L600.6 283.6 L601.0 283.7 L601.4 283.7 L601.8 283.7 L602.1 283.8 L602.5 283.8 L602.9 283.6 L603.2 283.0 L603.5 282.1 L603.9 281.0 L604.2 279.7 L604.6 278.5 L605.0 277.4 L605.3 276.5 L605.6 275.9 L606.0 275.7 L606.4 276.0 L606.8 276.8 L607.1 278.1 L607.5 279.6 L607.9 281.1 L608.2 282.4 L608.6 283.2 L609.0 283.5 L609.4 283.6 L609.7 283.8 L610.1 284.1 L610.5 284.3 L610.8 284.5 L611.2 284.6 L611.6 284.5 L612.0 284.2 L612.4 283.8 L612.8 283.4 L613.2 283.0 L613.6 282.7 L614.0 282.6 L614.4 282.6 L614.8 282.7 L615.2 282.7 L615.6 282.7 L616.0 282.7 L616.4 282.7 L616.8 282.6 L617.1 282.5 L617.5 282.3 L617.9 282.1 L618.2 281.9 L618.6 281.7 L619.0 281.5 L619.4 281.3 L619.8 281.1 L620.1 281.1 L620.5 281.0 L620.9 281.2 L621.3 281.7 L621.7 282.4 L622.0 283.2 L622.4 284.0 L622.8 284.5 L623.2 284.6"/>
<path d="M131.0 314.6 L131.3 314.6 L131.7 314.6 L132.1 314.6 L132.4 314.6 L132.8 314.6 L133.1 314.6 L133.4 314.6 L133.8 314.6 L134.2 314.6 L134.5 314.6 L134.8 314.6 L135.2 314.6 L135.6 314.6 L135.9 314.6 L136.2 314.6 L136.6 314.6 L136.9 314.6 L137.3 314.6 L137.7 314.6 L138.0 314.6 L138.3 314.6 L138.7 314.6 L139.1 314.6 L139.4 314.6 L139.8 314.6 L140.1 314.6 L140.4 314.6 L140.8 314.6 L141.2 314.6 L141.5 314.6 L141.8 314.6 L142.2 314.6 L142.6 314.6 L142.9 314.6 L143.2 314.6 L143.6 314.6 L143.9 314.6 L144.3 314.6 L144.7 314.6 L145.0 314.6 L145.3 314.6 L145.7 314.6 L146.1 314.6 L146.4 314.6 L146.8 314.6 L147.1 314.6 L147.4 314.6 L147.8 314.6 L148.2 314.6 L148.5 314.6 L148.8 314.6 L149.2 314.6 L149.6 314.6 L149.9 314.6 L150.2 314.6 L150.6 314.6 L150.9 314.6 L151.3 314.6 L151.7 314.6 L152.0 314.6 L152.3 314.6 L152.7 314.6 L153.1 314.6 L153.4 314.6 L153.8 314.6 L154.1 314.6 L154.4 314.6 L154.8 314.6 L155.2 314.6 L155.5 314.6 L155.9 314.4 L156.3 313.9 L156.7 313.2 L157.0 312.5 L157.4 311.8 L157.8 311.3 L158.2 311.1 L158.6 311.4 L158.9 312.2 L159.3 313.4 L159.7 314.8 L160.0 316.4 L160.4 317.8 L160.8 319.0 L161.1 319.8 L161.5 320.1 L161.9 319.8 L162.2 319.1 L162.6 317.9 L163.0 316.4 L163.3 314.7 L163.7 312.8 L164.0 311.1 L164.4 309.6 L164.8 308.4 L165.1 307.7 L165.5 307.4 L165.8 307.7 L166.2 308.7 L166.6 310.3 L166.9 312.2 L167.2 314.3 L167.6 316.4 L167.9 318.3 L168.3 319.9 L168.7 320.8 L169.0 321.2 L169.4 321.0 L169.8 320.3 L170.1 319.3 L170.5 318.0 L170.9 316.5 L171.2 314.9 L171.6 313.3 L172.0 311.8 L172.4 310.5 L172.8 309.5 L173.1 308.8 L173.5 308.6 L173.9 308.7 L174.2 309.0 L174.6 309.5 L174.9 310.1 L175.3 310.8 L175.6 311.7 L176.0 312.5 L176.4 313.4 L176.7 314.2 L177.1 315.0 L177.4 315.6 L177.8 316.1 L178.1 316.4 L178.5 316.5 L178.9 316.4 L179.2 316.3 L179.6 316.1 L180.0 315.8 L180.3 315.5 L180.7 315.2 L181.0 314.8 L181.4 314.6 L181.8 314.4 L182.1 314.2 L182.5 314.2 L182.9 314.2 L183.2 314.2 L183.6 314.3 L184.0 314.4 L184.3 314.6 L184.7 314.8 L185.1 315.0 L185.4 315.2 L185.8 315.4 L186.2 315.6 L186.5 315.8 L186.9 316.0 L187.2 316.3 L187.6 316.4 L188.0 316.6 L188.3 316.8 L188.7 316.9 L189.1 317.0 L189.4 317.0 L189.8 317.0 L190.2 316.9 L190.5 316.6 L190.9 316.0 L191.3 315.3 L191.7 314.6 L192.0 313.8 L192.4 313.1 L192.8 312.6 L193.1 312.2 L193.5 312.1 L193.9 312.2 L194.2 312.5 L194.6 312.9 L195.0 313.5 L195.3 314.1 L195.7 314.8 L196.1 315.3 L196.5 315.8 L196.8 316.1 L197.2 316.2 L197.5 316.1 L197.9 315.9 L198.2 315.7 L198.6 315.3 L198.9 315.0 L199.3 314.7 L199.7 314.5 L200.0 314.4 L200.4 314.5 L200.8 314.8 L201.2 314.9 L201.5 314.8 L201.9 314.5 L202.2 314.0 L202.6 313.4 L202.9 312.8 L203.3 312.3 L203.7 312.0 L204.0 311.9 L204.4 312.0 L204.8 312.2 L205.1 312.6 L205.5 313.0 L205.9 313.6 L206.2 314.2 L206.6 314.8 L207.0 315.3 L207.4 315.8 L207.8 316.1 L208.1 316.4 L208.5 316.4 L208.9 316.3 L209.2 315.7 L209.6 315.0 L210.0 314.0 L210.4 313.1 L210.8 312.3 L211.1 311.8 L211.5 311.6 L211.8 311.7 L212.2 311.9 L212.6 312.1 L212.9 312.5 L213.2 312.8 L213.6 313.2 L213.9 313.5 L214.3 313.8 L214.7 314.0 L215.0 314.0 L215.4 314.2 L215.8 314.7 L216.1 315.4 L216.5 316.2 L216.9 317.0 L217.2 317.8 L217.6 318.2 L218.0 318.4 L218.4 318.2 L218.7 317.6 L219.1 316.8 L219.4 315.7 L219.8 314.6 L220.1 313.6 L220.5 312.7 L220.8 312.1 L221.2 312.0 L221.5 312.1 L221.9 312.4 L222.2 313.0 L222.6 313.6 L222.9 314.3 L223.3 314.8 L223.7 315.2 L224.0 315.3 L224.4 315.2 L224.8 315.0 L225.1 314.7 L225.5 314.6 L225.9 314.7 L226.2 314.9 L226.6 315.2 L227.0 315.3 L227.4 315.2 L227.8 315.0 L228.1 314.8 L228.5 314.7 L228.9 315.1 L229.2 316.0 L229.6 316.9 L230.0 317.3 L230.4 317.1 L230.7 316.4 L231.1 315.3 L231.4 314.2 L231.8 313.2 L232.1 312.5 L232.5 312.2 L232.9 312.4 L233.3 313.0 L233.7 313.6 L234.1 314.2 L234.5 314.4 L234.9 314.3 L235.2 314.2 L235.6 314.0 L236.0 314.0 L236.4 314.2 L236.8 314.7 L237.2 315.3 L237.6 315.8 L238.0 316.0 L238.4 315.7 L238.8 314.9 L239.2 313.9 L239.6 313.1 L240.0 312.8 L240.4 312.9 L240.8 313.3 L241.2 313.7 L241.6 314.1 L242.0 314.2 L242.5 313.9 L243.0 313.6 L243.4 313.8 L243.8 314.2 L244.2 314.8 L244.5 315.4 L244.9 315.8 L245.3 316.0 L245.7 315.8 L246.0 315.2 L246.4 314.5 L246.8 313.8 L247.1 313.3 L247.5 313.1 L247.9 313.3 L248.3 313.8 L248.7 314.6 L249.0 315.4 L249.4 316.0 L249.8 316.2 L250.2 316.0 L250.5 315.5 L250.9 314.9 L251.3 314.3 L251.6 313.8 L252.0 313.6 L252.4 313.8 L252.8 314.1 L253.1 314.5 L253.5 314.6 L253.9 314.4 L254.3 313.9 L254.7 313.4 L255.1 312.9 L255.5 312.7 L255.9 313.0 L256.2 313.9 L256.6 315.2 L256.9 316.7 L257.3 318.0 L257.6 318.9 L258.0 319.2 L258.4 318.6 L258.7 317.1 L259.1 315.0 L259.5 312.9 L259.8 311.3 L260.2 310.7 L260.6 311.2 L260.9 312.6 L261.3 314.5 L261.7 316.7 L262.1 318.7 L262.4 320.1 L262.8 320.5 L263.2 320.3 L263.6 319.7 L263.9 318.8 L264.3 317.6 L264.7 316.2 L265.1 314.8 L265.5 313.5 L265.9 312.3 L266.2 311.3 L266.6 310.7 L267.0 310.5 L267.4 310.9 L267.8 312.0 L268.1 313.6 L268.5 315.5 L268.9 317.4 L269.2 319.0 L269.6 320.1 L270.0 320.5 L270.4 320.1 L270.7 319.0 L271.1 317.5 L271.4 315.7 L271.8 314.1 L272.1 313.1 L272.5 312.7 L272.9 312.9 L273.4 313.2 L273.8 313.4 L274.2 313.2 L274.6 312.7 L275.1 312.2 L275.5 312.0 L275.9 312.2 L276.2 312.8 L276.6 313.6 L276.9 314.6 L277.3 315.4 L277.6 316.0 L278.0 316.2 L278.4 316.2 L278.8 316.1 L279.1 316.0 L279.5 316.0 L279.9 316.3 L280.4 316.7 L280.8 317.0 L281.2 316.5 L281.5 315.3 L281.9 313.6 L282.3 311.9 L282.6 310.7 L283.0 310.2 L283.4 310.9 L283.9 312.4 L284.3 314.0 L284.7 314.6 L285.1 314.2 L285.4 313.3 L285.8 312.3 L286.2 312.0 L286.6 312.3 L286.9 313.4 L287.3 315.0 L287.7 316.7 L288.1 318.3 L288.4 319.4 L288.8 319.8 L289.2 319.3 L289.6 318.0 L290.0 316.2 L290.4 314.4 L290.8 313.0 L291.2 312.5 L291.6 313.0 L292.0 314.2 L292.4 315.9 L292.7 317.6 L293.1 318.9 L293.5 319.3 L293.9 319.0 L294.2 317.9 L294.6 316.3 L294.9 314.3 L295.2 312.0 L295.6 309.8 L295.9 307.7 L296.3 306.1 L296.6 305.1 L297.0 304.7 L297.4 305.4 L297.8 306.9 L298.1 308.5 L298.5 309.2 L298.9 308.9 L299.3 308.3 L299.7 308.0 L300.1 308.8 L300.4 311.0 L300.8 314.3 L301.1 318.2 L301.4 322.1 L301.8 325.3 L302.1 327.5 L302.5 328.3 L302.9 327.7 L303.2 326.1 L303.6 323.6 L304.0 320.7 L304.4 317.8 L304.8 315.4 L305.1 313.7 L305.5 313.2 L305.9 313.4 L306.2 314.0 L306.6 315.0 L307.0 316.1 L307.4 317.2 L307.8 318.2 L308.1 318.8 L308.5 319.1 L308.9 318.4 L309.2 316.8 L309.6 315.3 L310.0 314.6 L310.4 315.5 L310.8 317.8 L311.2 320.7 L311.6 323.1 L312.0 323.9 L312.4 323.1 L312.7 320.5 L313.1 316.7 L313.4 312.3 L313.8 307.8 L314.1 304.0 L314.4 301.5 L314.8 300.6 L315.2 301.8 L315.6 305.1 L316.0 309.8 L316.3 315.1 L316.7 319.9 L317.1 323.2 L317.5 324.3 L317.9 323.3 L318.2 320.8 L318.6 318.2 L319.0 317.2 L319.4 318.2 L319.8 320.8 L320.1 323.3 L320.5 324.3 L320.9 323.0 L321.2 319.3 L321.6 313.9 L321.9 308.0 L322.3 302.6 L322.6 298.9 L323.0 297.6 L323.4 299.2 L323.7 303.8 L324.1 310.4 L324.4 317.8 L324.8 324.4 L325.1 329.0 L325.5 330.6 L325.9 327.8 L326.2 320.9 L326.6 314.0 L327.0 311.2 L327.4 312.7 L327.7 316.5 L328.1 321.3 L328.4 325.1 L328.8 326.6 L329.2 325.3 L329.6 321.6 L330.0 316.6 L330.4 311.7 L330.8 308.0 L331.2 306.7 L331.6 307.1 L332.0 308.1 L332.4 309.7 L332.8 311.5 L333.1 313.4 L333.5 315.0 L333.9 316.0 L334.3 316.4 L334.7 315.9 L335.1 314.4 L335.5 312.4 L335.8 310.1 L336.2 308.0 L336.6 306.6 L337.0 306.1 L337.4 306.5 L337.7 307.7 L338.1 309.6 L338.5 312.1 L338.8 314.9 L339.2 317.8 L339.5 320.6 L339.9 323.0 L340.3 325.0 L340.6 326.2 L341.0 326.6 L341.4 325.5 L341.7 322.4 L342.1 317.9 L342.4 313.0 L342.8 308.5 L343.1 305.4 L343.5 304.3 L343.9 305.0 L344.2 306.8 L344.6 309.5 L344.9 312.4 L345.3 315.1 L345.6 317.0 L346.0 317.6 L346.4 316.3 L346.8 313.5 L347.2 312.1 L347.6 313.0 L348.0 315.1 L348.4 317.2 L348.8 318.0 L349.2 317.2 L349.6 314.9 L350.0 312.1 L350.4 309.9 L350.8 309.0 L351.2 309.5 L351.5 311.0 L351.9 312.9 L352.3 314.8 L352.6 316.3 L353.0 316.8 L353.4 316.3 L353.8 315.2 L354.2 313.8 L354.6 312.6 L355.0 312.2 L355.4 312.6 L355.7 313.7 L356.1 315.3 L356.4 317.1 L356.8 318.8 L357.1 319.9 L357.5 320.3 L357.9 320.0 L358.2 318.9 L358.6 317.3 L359.0 315.1 L359.4 312.7 L359.7 310.2 L360.1 307.8 L360.5 305.7 L360.9 304.0 L361.2 303.0 L361.6 302.6 L362.0 303.2 L362.4 304.8 L362.7 307.3 L363.1 310.5 L363.5 314.2 L363.9 318.0 L364.3 321.7 L364.7 324.9 L365.0 327.4 L365.4 329.0 L365.8 329.5 L366.2 328.6 L366.6 325.9 L367.0 322.1 L367.3 317.9 L367.7 314.0 L368.1 311.4 L368.5 310.4 L368.9 311.0 L369.4 312.5 L369.8 314.0 L370.2 314.6 L370.6 314.0 L371.0 312.7 L371.4 311.3 L371.8 310.7 L372.2 311.0 L372.5 311.7 L372.9 312.7 L373.3 313.6 L373.6 314.3 L374.0 314.6 L374.4 315.1 L374.8 316.5 L375.2 318.3 L375.6 319.7 L376.0 320.2 L376.4 319.8 L376.8 318.5 L377.2 316.6 L377.5 314.5 L377.9 312.7 L378.3 311.4 L378.7 310.9 L379.1 311.2 L379.4 311.9 L379.8 313.0 L380.1 314.2 L380.4 315.5 L380.8 316.6 L381.1 317.3 L381.5 317.6 L381.9 317.5 L382.2 317.3 L382.6 317.0 L383.0 317.0 L383.4 316.6 L383.7 315.6 L384.1 314.1 L384.4 312.5 L384.8 311.0 L385.1 310.0 L385.5 309.6 L385.9 310.6 L386.3 313.2 L386.6 316.7 L387.0 320.3 L387.4 322.9 L387.8 323.8 L388.2 323.2 L388.5 321.5 L388.9 319.0 L389.2 315.8 L389.6 312.4 L389.9 309.2 L390.3 306.6 L390.6 305.0 L391.0 304.4 L391.4 304.9 L391.8 306.5 L392.1 308.9 L392.5 311.7 L392.9 314.5 L393.2 316.9 L393.6 318.5 L394.0 319.0 L394.4 318.9 L394.7 318.4 L395.1 317.7 L395.4 316.9 L395.8 316.1 L396.1 315.5 L396.4 315.0 L396.8 314.9 L397.2 315.3 L397.6 316.5 L398.0 317.9 L398.4 319.1 L398.8 319.5 L399.2 319.0 L399.6 317.6 L399.9 315.6 L400.3 313.1 L400.7 310.7 L401.1 308.6 L401.4 307.2 L401.8 306.7 L402.2 307.1 L402.5 308.0 L402.9 309.5 L403.3 311.5 L403.6 313.7 L404.0 316.0 L404.3 318.2 L404.7 320.1 L405.1 321.6 L405.4 322.6 L405.8 322.9 L406.2 322.4 L406.5 320.8 L406.9 318.5 L407.2 315.6 L407.6 312.5 L407.9 309.6 L408.3 307.3 L408.6 305.8 L409.0 305.2 L409.4 305.8 L409.7 307.6 L410.1 310.2 L410.4 313.3 L410.8 316.3 L411.1 318.9 L411.4 320.7 L411.8 321.3 L412.2 320.9 L412.5 319.8 L412.9 318.1 L413.2 315.8 L413.6 313.2 L413.9 310.6 L414.3 308.0 L414.6 305.8 L415.0 304.0 L415.3 302.9 L415.7 302.5 L416.1 302.9 L416.4 304.1 L416.8 305.9 L417.1 308.4 L417.5 311.3 L417.8 314.5 L418.2 317.8 L418.5 321.0 L418.9 323.9 L419.2 326.4 L419.6 328.2 L419.9 329.4 L420.3 329.8 L420.7 329.3 L421.1 327.8 L421.4 325.4 L421.8 322.3 L422.2 318.7 L422.6 314.9 L422.9 311.0 L423.3 307.4 L423.7 304.4 L424.1 302.0 L424.4 300.5 L424.8 300.0 L425.2 300.4 L425.5 301.7 L425.9 303.6 L426.3 306.1 L426.6 308.8 L427.0 311.5 L427.4 314.0 L427.8 315.9 L428.1 317.1 L428.5 317.6 L428.9 317.5 L429.2 317.4 L429.6 317.2 L430.0 317.2 L430.4 317.0 L430.8 316.4 L431.2 315.7 L431.5 314.9 L431.9 314.1 L432.3 313.6 L432.7 313.4 L433.1 313.8 L433.4 314.8 L433.8 316.1 L434.1 317.5 L434.4 318.5 L434.8 318.9 L435.2 318.5 L435.6 317.6 L436.0 316.3 L436.4 315.0 L436.8 314.0 L437.2 313.7 L437.6 314.0 L438.0 314.8 L438.4 315.8 L438.8 316.7 L439.2 317.0 L439.6 316.7 L439.9 315.9 L440.3 314.8 L440.7 313.5 L441.1 312.3 L441.4 311.6 L441.8 311.3 L442.2 311.3 L442.6 311.6 L442.9 311.9 L443.3 312.3 L443.7 312.8 L444.1 313.3 L444.5 313.7 L444.9 314.2 L445.2 314.5 L445.6 314.7 L446.0 314.8 L446.4 314.5 L446.8 313.6 L447.1 312.5 L447.5 311.4 L447.9 310.6 L448.3 310.3 L448.7 310.6 L449.0 311.4 L449.4 312.6 L449.8 314.1 L450.1 315.5 L450.5 316.7 L450.8 317.5 L451.2 317.8 L451.6 317.7 L451.9 317.4 L452.2 317.0 L452.6 316.5 L452.9 316.0 L453.3 315.6 L453.6 315.3 L454.0 315.2 L454.4 315.1 L454.7 314.5 L455.1 313.8 L455.4 312.9 L455.8 311.9 L456.1 311.2 L456.4 310.7 L456.8 310.5 L457.2 310.6 L457.5 311.2 L457.9 312.0 L458.3 313.0 L458.6 314.2 L459.0 315.5 L459.3 316.7 L459.7 317.8 L460.1 318.6 L460.4 319.1 L460.8 319.3 L461.2 318.9 L461.5 317.8 L461.9 316.1 L462.2 314.0 L462.6 311.8 L462.9 309.8 L463.3 308.1 L463.6 307.0 L464.0 306.6 L464.4 307.0 L464.7 308.1 L465.1 309.8 L465.4 311.9 L465.8 313.9 L466.1 315.6 L466.4 316.7 L466.8 317.1 L467.2 317.3 L467.6 317.7 L467.9 318.3 L468.3 319.1 L468.7 319.8 L469.1 320.4 L469.4 320.8 L469.8 321.0 L470.2 320.7 L470.5 319.9 L470.9 318.5 L471.3 316.8 L471.6 314.9 L472.0 312.8 L472.3 310.9 L472.7 309.2 L473.1 307.9 L473.4 307.0 L473.8 306.7 L474.2 306.9 L474.6 307.4 L474.9 308.3 L475.3 309.3 L475.7 310.5 L476.1 311.8 L476.5 313.0 L476.9 314.1 L477.2 314.9 L477.6 315.4 L478.0 315.6 L478.4 315.7 L478.7 315.7 L479.1 315.8 L479.4 315.8 L479.8 315.9 L480.2 316.0 L480.5 316.4 L480.9 316.9 L481.3 317.4 L481.6 317.8 L482.0 317.9 L482.4 317.8 L482.7 317.3 L483.1 316.5 L483.4 315.6 L483.8 314.7 L484.1 314.0 L484.4 313.5 L484.8 313.3 L485.2 313.2 L485.6 312.8 L486.1 312.5 L486.5 312.4 L486.9 312.1 L487.3 311.6 L487.6 310.8 L488.0 309.9 L488.4 309.4 L488.8 309.1 L489.2 309.4 L489.5 310.3 L489.9 311.6 L490.3 313.4 L490.6 315.5 L491.0 317.7 L491.4 319.9 L491.7 322.0 L492.1 323.7 L492.5 325.1 L492.8 325.9 L493.2 326.2 L493.6 326.0 L493.9 325.4 L494.3 324.3 L494.6 322.9 L495.0 321.1 L495.3 319.2 L495.7 317.1 L496.0 314.9 L496.4 312.8 L496.7 310.9 L497.1 309.2 L497.4 307.7 L497.8 306.7 L498.1 306.0 L498.5 305.8 L498.9 306.0 L499.2 306.7 L499.6 307.9 L499.9 309.3 L500.2 310.9 L500.6 312.5 L500.9 313.9 L501.3 315.0 L501.6 315.8 L502.0 316.0 L502.4 315.8 L502.7 315.3 L503.1 314.5 L503.4 313.6 L503.8 312.8 L504.1 312.2 L504.5 312.0 L504.9 312.1 L505.2 312.3 L505.6 312.6 L506.0 313.0 L506.3 313.5 L506.7 313.9 L507.0 314.4 L507.4 314.8 L507.8 315.1 L508.1 315.3 L508.5 315.4 L508.9 315.3 L509.2 315.0 L509.6 314.5 L510.0 313.9 L510.4 313.2 L510.7 312.5 L511.1 311.9 L511.5 311.4 L511.8 311.1 L512.2 311.0 L512.6 311.1 L512.9 311.4 L513.3 311.9 L513.6 312.6 L514.0 313.4 L514.3 314.3 L514.7 315.3 L515.0 316.3 L515.4 317.3 L515.7 318.2 L516.1 319.0 L516.4 319.7 L516.8 320.2 L517.1 320.5 L517.5 320.6 L517.9 320.2 L518.2 319.2 L518.6 317.6 L519.0 315.6 L519.3 313.5 L519.7 311.6 L520.1 310.0 L520.4 308.9 L520.8 308.6 L521.2 308.9 L521.6 309.7 L522.0 310.9 L522.3 312.3 L522.7 313.5 L523.1 314.3 L523.5 314.6 L523.9 314.7 L524.2 315.0 L524.5 315.4 L524.9 316.0 L525.2 316.6 L525.6 317.3 L526.0 317.8 L526.3 318.3 L526.6 318.6 L527.0 318.7 L527.4 318.4 L527.7 317.7 L528.0 316.7 L528.4 315.3 L528.8 313.8 L529.1 312.3 L529.5 310.9 L529.8 309.9 L530.1 309.2 L530.5 308.9 L530.9 309.1 L531.2 309.5 L531.6 310.2 L532.0 311.1 L532.4 312.1 L532.8 313.3 L533.1 314.4 L533.5 315.4 L533.9 316.3 L534.2 317.0 L534.6 317.4 L535.0 317.6 L535.4 317.4 L535.7 317.1 L536.0 316.5 L536.4 315.7 L536.8 314.9 L537.1 314.1 L537.5 313.3 L537.8 312.7 L538.1 312.3 L538.5 312.2 L538.9 312.3 L539.3 312.7 L539.7 313.1 L540.1 313.4 L540.5 313.5 L540.9 313.7 L541.2 314.0 L541.6 314.5 L542.0 315.0 L542.4 315.6 L542.8 316.1 L543.1 316.4 L543.5 316.5 L543.9 316.5 L544.2 316.3 L544.6 316.1 L545.0 315.8 L545.4 315.4 L545.7 315.0 L546.1 314.5 L546.5 314.0 L546.8 313.5 L547.2 313.0 L547.6 312.5 L547.9 312.1 L548.3 311.7 L548.7 311.4 L549.1 311.2 L549.4 311.0 L549.8 311.0 L550.2 311.2 L550.6 311.9 L551.0 312.9 L551.3 313.9 L551.7 314.9 L552.1 315.5 L552.5 315.8 L552.9 315.6 L553.3 315.2 L553.6 314.6 L554.0 314.0 L554.4 313.6 L554.8 313.5 L555.2 313.7 L555.6 314.3 L556.0 315.2 L556.3 316.2 L556.7 317.1 L557.1 317.7 L557.5 317.9 L557.9 317.8 L558.2 317.4 L558.6 316.8 L559.0 316.1 L559.3 315.2 L559.7 314.3 L560.0 313.5 L560.4 312.7 L560.8 312.1 L561.1 311.8 L561.5 311.6 L561.9 311.8 L562.2 312.2 L562.5 312.8 L562.9 313.6 L563.2 314.5 L563.6 315.4 L564.0 316.2 L564.3 316.9 L564.6 317.3 L565.0 317.4 L565.4 317.4 L565.8 317.3 L566.2 317.2 L566.6 317.1 L567.0 317.0 L567.4 316.9 L567.8 316.6 L568.1 316.1 L568.5 315.4 L568.9 314.7 L569.3 314.0 L569.7 313.3 L570.0 312.8 L570.4 312.4 L570.8 312.3 L571.2 312.5 L571.6 313.0 L572.0 313.8 L572.3 314.6 L572.7 315.4 L573.1 315.9 L573.5 316.1 L573.9 315.9 L574.2 315.5 L574.6 314.8 L575.0 314.1 L575.4 313.3 L575.8 312.7 L576.1 312.2 L576.5 312.1 L576.9 312.2 L577.2 312.5 L577.6 312.9 L578.0 313.4 L578.3 314.1 L578.7 314.7 L579.0 315.3 L579.4 315.9 L579.8 316.3 L580.1 316.6 L580.5 316.7 L580.9 316.6 L581.2 316.3 L581.6 316.0 L581.9 315.6 L582.3 315.2 L582.6 315.0 L583.0 314.9 L583.4 314.9 L583.7 315.0 L584.1 315.1 L584.4 315.2 L584.8 315.3 L585.1 315.4 L585.5 315.4 L585.9 315.5 L586.2 315.7 L586.6 316.1 L586.9 316.5 L587.3 316.8 L587.6 317.1 L588.0 317.2 L588.4 317.1 L588.8 316.7 L589.1 316.2 L589.5 315.5 L589.9 314.7 L590.2 313.8 L590.6 312.9 L591.0 312.1 L591.4 311.4 L591.8 310.8 L592.1 310.5 L592.5 310.4 L592.9 310.5 L593.2 310.8 L593.5 311.4 L593.9 312.1 L594.2 312.9 L594.6 313.7 L595.0 314.4 L595.3 315.0 L595.6 315.3 L596.0 315.4 L596.4 315.6 L596.8 315.8 L597.2 316.2 L597.6 316.5 L598.0 316.6 L598.4 316.6 L598.8 316.6 L599.1 316.6 L599.5 316.7 L599.9 316.7 L600.2 316.7 L600.6 316.7 L601.0 316.8 L601.4 316.8 L601.8 316.8 L602.1 316.8 L602.5 316.8 L602.9 316.6 L603.2 316.0 L603.5 315.1 L603.9 314.0 L604.2 312.7 L604.6 311.5 L605.0 310.3 L605.3 309.4 L605.6 308.9 L606.0 308.7 L606.4 308.9 L606.8 309.7 L607.1 310.9 L607.5 312.3 L607.9 313.7 L608.2 314.8 L608.6 315.6 L609.0 315.9 L609.4 316.0 L609.7 316.2 L610.1 316.5 L610.5 316.8 L610.8 317.1 L611.2 317.1 L611.6 317.0 L612.0 316.7 L612.4 316.3 L612.8 315.8 L613.2 315.3 L613.6 315.0 L614.0 314.9 L614.4 315.0 L614.8 315.1 L615.2 315.3 L615.6 315.5 L616.0 315.6 L616.4 315.5 L616.8 315.4 L617.1 315.2 L617.5 315.0 L617.9 314.8 L618.2 314.5 L618.6 314.2 L619.0 313.9 L619.4 313.7 L619.8 313.5 L620.1 313.4 L620.5 313.4 L620.9 313.6 L621.3 314.1 L621.7 315.0 L622.0 315.9 L622.4 316.7 L622.8 317.2 L623.2 317.4"/>
</g>
<g stroke="#000" stroke-width="0.8" fill="#000">
<path d="M132.0 437.9V442.9M132.5 436.2V443.3M133.0 437.9V443.0M133.5 437.3V443.9M134.0 436.5V443.9M134.5 436.7V443.4M135.0 437.3V445.3M135.5 437.3V444.1M136.0 436.9V442.8M136.5 436.9V444.8M137.0 437.3V445.2M137.5 434.7V443.4M138.0 436.9V442.7M138.5 436.8V444.8M139.0 438.2V445.4M139.5 436.7V445.0M140.0 435.4V446.7M140.5 435.2V444.2M141.0 437.0V444.9M141.5 435.8V443.4M142.0 435.0V443.8M142.5 435.0V445.3M143.0 434.1V444.3M143.5 437.0V445.6M144.0 436.7V443.8M144.5 437.8V445.3M145.0 435.3V442.9M145.5 434.6V444.2M146.0 437.3V444.0M146.5 434.3V446.4M147.0 435.1V445.0M147.5 437.7V444.0M148.0 436.4V442.7M148.5 433.3V443.8M149.0 437.4V445.0M149.5 433.4V448.8M150.0 436.7V443.8M150.5 437.1V444.2M151.0 436.8V444.0M151.5 431.2V443.8M152.0 437.0V445.7M152.5 434.0V444.3M153.0 435.3V449.0M153.5 435.7V446.9M154.0 437.6V443.6M154.5 438.0V446.3M155.0 431.2V445.6M155.5 436.9V444.5M156.0 434.8V446.0M156.5 435.2V446.1M157.0 435.2V445.1M157.5 436.0V446.2M158.0 436.0V443.7M158.5 437.8V444.6M159.0 435.3V444.6M159.5 435.5V443.6M160.0 437.8V443.2M160.5 433.2V443.7M161.0 437.4V444.3M161.5 438.1V445.0M162.0 435.5V445.6M162.5 434.8V444.7M163.0 435.9V443.2M163.5 436.9V442.7M164.0 437.6V444.8M164.5 436.8V444.7M165.0 436.2V444.4M165.5 437.9V444.7M166.0 436.3V444.1M166.5 435.1V443.1M167.0 433.6V443.5M167.5 436.3V443.8M168.0 437.2V444.3M168.5 436.8V443.7M169.0 437.2V447.8M169.5 437.3V444.5M170.0 436.0V449.6M170.5 432.8V443.7M171.0 435.4V443.6M171.5 437.5V443.9M172.0 434.5V443.8M172.5 429.0V447.1M173.0 434.8V445.8M173.5 437.4V445.8M174.0 436.1V446.5M174.5 433.2V446.4M175.0 436.4V446.1M175.5 434.1V448.3M176.0 432.5V446.4M176.5 431.3V445.4M177.0 435.7V443.3M177.5 436.3V443.5M178.0 437.6V445.0M178.5 437.4V443.2M179.0 437.7V445.3M179.5 437.2V443.4M180.0 433.8V443.0M180.5 436.0V447.8M181.0 437.4V445.7M181.5 437.2V443.0M182.0 438.4V444.0M182.5 436.7V444.9M183.0 437.8V444.3M183.5 438.0V446.9M184.0 437.5V447.0M184.5 436.7V442.6M185.0 437.5V444.6M185.5 437.2V443.4M186.0 438.1V443.4M186.5 438.0V445.1M187.0 436.8V444.0M187.5 437.2V444.7M188.0 436.7V444.5M188.5 436.5V444.6M189.0 437.0V446.0M189.5 436.9V445.5M190.0 437.2V443.5M190.5 436.1V444.0M191.0 437.7V443.0M191.5 435.5V443.1M192.0 437.7V443.8M192.5 438.2V443.8M193.0 435.9V443.4M193.5 437.7V445.6M194.0 436.9V443.6M194.5 437.4V442.9M195.0 436.9V445.3M195.5 435.5V443.0M196.0 436.8V443.4M196.5 435.1V443.7M197.0 435.9V444.0M197.5 437.4V446.1M198.0 437.1V443.4M198.5 435.0V445.2M199.0 437.6V443.5M199.5 436.6V443.6M200.0 436.5V446.6M200.5 437.7V444.2M201.0 435.9V444.3M201.5 435.1V443.0M202.0 437.8V443.6M202.5 437.1V448.1M203.0 436.7V442.9M203.5 435.2V445.9M204.0 435.3V444.3M204.5 437.4V444.6M205.0 437.5V443.7M205.5 435.7V442.9M206.0 436.7V443.4M206.5 436.0V443.3M207.0 437.2V446.4M207.5 432.9V445.9M208.0 437.7V443.2M208.5 438.0V443.8M209.0 437.9V445.0M209.5 437.0V443.9M210.0 437.6V442.7M210.5 437.3V443.8M211.0 436.8V443.6M211.5 437.4V443.3M212.0 437.0V444.1M212.5 435.1V444.6M213.0 436.6V443.3M213.5 436.0V442.7M214.0 436.0V445.1M214.5 435.4V443.5M215.0 437.5V444.2M215.5 436.8V444.4M216.0 436.3V442.7M216.5 438.0V442.6M217.0 435.9V443.3M217.5 437.5V444.0M218.0 437.4V443.4M218.5 436.7V443.7M219.0 437.6V443.9M219.5 437.4V444.2M220.0 435.9V443.4M220.5 436.4V444.5M221.0 436.1V449.4M221.5 436.9V445.7M222.0 435.4V446.3M222.5 436.9V445.0M223.0 432.6V447.3M223.5 434.2V445.6M224.0 437.4V445.2M224.5 434.9V445.6M225.0 437.0V445.8M225.5 434.6V443.6M226.0 436.1V446.6M226.5 433.8V447.7M227.0 437.3V443.5M227.5 437.6V444.2M228.0 436.7V443.5M228.5 436.6V444.8M229.0 437.1V446.2M229.5 434.9V442.7M230.0 437.2V443.1M230.5 434.0V444.0M231.0 436.3V443.4M231.5 436.7V445.1M232.0 436.5V444.0M232.5 438.1V443.3M233.0 438.3V443.6M233.5 436.2V447.1M234.0 437.6V444.0M234.5 437.9V444.6M235.0 436.3V444.5M235.5 437.3V443.9M236.0 436.0V443.3M236.5 437.7V443.9M237.0 436.8V444.0M237.5 436.7V443.4M238.0 436.7V443.1M238.5 435.6V446.8M239.0 437.4V443.6M239.5 435.6V443.9M240.0 437.2V446.4M240.5 435.0V444.2M241.0 437.2V444.0M241.5 437.1V444.4M242.0 437.6V444.2M242.5 437.1V445.5M243.0 435.8V444.5M243.5 435.6V445.8M244.0 435.6V448.5M244.5 436.1V445.3M245.0 436.0V445.2M245.5 431.7V443.2M246.0 433.0V446.8M246.5 434.0V443.4M247.0 433.9V446.1M247.5 436.0V445.4M248.0 434.6V446.3M248.5 436.2V445.7M249.0 435.5V444.5M249.5 432.9V446.1M250.0 436.0V445.5M250.5 436.1V446.2M251.0 434.0V444.2M251.5 436.2V450.8M252.0 437.4V445.1M252.5 432.6V446.1M253.0 432.3V446.1M253.5 433.0V445.7M254.0 434.6V444.6M254.5 433.8V445.3M255.0 433.7V446.7M255.5 435.9V444.4M256.0 434.8V450.7M256.5 432.8V450.6M257.0 430.4V456.1M257.5 433.2V450.1M258.0 432.5V446.9M258.5 425.7V444.2M259.0 432.6V444.5M259.5 431.1V453.3M260.0 431.6V452.7M260.5 433.6V448.4M261.0 426.2V450.0M261.5 433.1V449.6M262.0 428.5V445.0M262.5 433.0V446.7M263.0 433.6V447.9M263.5 428.6V450.1M264.0 433.0V444.8M264.5 423.6V445.8M265.0 435.8V445.5M265.5 432.5V448.8M266.0 431.0V451.8M266.5 426.4V454.4M267.0 431.6V449.3M267.5 429.0V450.1M268.0 430.0V447.5M268.5 427.7V447.7M269.0 434.2V446.1M269.5 429.6V445.4M270.0 434.0V447.8M270.5 435.5V452.1M271.0 436.9V449.8M271.5 435.7V446.2M272.0 433.7V449.0M272.5 435.6V447.5M273.0 435.6V448.2M273.5 434.8V444.7M274.0 436.2V445.6M274.5 436.6V447.3M275.0 436.1V450.2M275.5 432.7V451.1M276.0 435.3V449.5M276.5 435.1V444.9M277.0 432.3V446.5M277.5 432.9V446.7M278.0 436.8V443.1M278.5 435.8V447.5M279.0 435.0V446.9M279.5 432.7V445.7M280.0 435.8V444.8M280.5 435.6V446.2M281.0 436.2V444.9M281.5 438.0V444.2M282.0 436.2V443.3M282.5 436.7V444.7M283.0 435.5V445.4M283.5 435.0V444.3M284.0 436.6V443.6M284.5 436.9V443.7M285.0 437.9V448.2M285.5 434.8V443.2M286.0 436.0V446.1M286.5 437.8V444.8M287.0 435.3V444.9M287.5 437.0V446.8M288.0 435.8V444.2M288.5 436.8V443.0M289.0 435.7V444.5M289.5 437.4V446.4M290.0 437.3V447.3M290.5 434.7V447.4M291.0 435.6V446.4M291.5 434.6V446.0M292.0 435.7V445.7M292.5 435.8V445.7M293.0 435.5V443.8M293.5 432.2V444.2M294.0 433.7V446.9M294.5 435.2V447.9M295.0 432.4V449.4M295.5 434.6V446.2M296.0 434.7V446.7M296.5 436.3V448.9M297.0 434.6V446.9M297.5 435.9V446.6M298.0 437.2V446.9M298.5 435.2V444.1M299.0 435.3V447.5M299.5 437.7V445.2M300.0 435.4V444.0M300.5 436.1V444.0M301.0 435.5V443.7M301.5 436.9V444.9M302.0 437.4V445.8M302.5 434.6V446.5M303.0 437.9V444.0M303.5 436.2V443.9M304.0 437.7V445.2M304.5 437.1V445.7M305.0 436.2V444.6M305.5 435.7V443.3M306.0 436.9V445.1M306.5 436.4V443.3M307.0 437.2V443.8M307.5 436.8V443.5M308.0 435.4V442.5M308.5 437.6V444.4M309.0 437.2V444.3M309.5 434.5V444.3M310.0 435.5V445.7M310.5 433.5V442.7M311.0 437.0V443.2M311.5 437.6V444.0M312.0 435.6V446.5M312.5 435.9V446.6M313.0 436.7V446.0M313.5 434.2V444.7M314.0 437.7V443.8M314.5 436.8V442.7M315.0 434.0V444.0M315.5 435.8V443.9M316.0 436.1V444.9M316.5 435.3V444.9M317.0 436.2V447.7M317.5 435.4V443.8M318.0 436.6V445.6M318.5 436.1V445.4M319.0 437.0V445.8M319.5 436.8V445.0M320.0 435.3V443.2M320.5 435.1V447.3M321.0 436.7V446.2M321.5 433.5V444.6M322.0 435.0V444.1M322.5 435.0V444.7M323.0 434.2V445.6M323.5 436.1V446.9M324.0 435.7V445.6M324.5 436.7V443.6M325.0 435.5V446.2M325.5 434.9V444.7M326.0 436.3V446.1M326.5 433.7V445.3M327.0 436.5V446.5M327.5 433.9V443.7M328.0 433.9V444.5M328.5 436.1V444.6M329.0 433.3V443.1M329.5 432.8V447.2M330.0 437.3V445.1M330.5 432.2V444.7M331.0 436.8V445.2M331.5 430.7V445.5M332.0 437.4V444.6M332.5 437.4V444.8M333.0 434.7V448.6M333.5 434.8V445.7M334.0 434.3V447.6M334.5 435.5V445.8M335.0 433.0V445.4M335.5 430.6V445.9M336.0 435.3V447.0M336.5 435.0V445.2M337.0 434.7V446.6M337.5 436.6V445.8M338.0 435.1V444.6M338.5 432.6V445.0M339.0 435.4V444.6M339.5 435.0V448.5M340.0 433.8V444.2M340.5 436.4V444.2M341.0 436.0V443.7M341.5 437.3V445.8M342.0 437.9V445.1M342.5 435.6V445.3M343.0 437.2V444.5M343.5 436.3V445.3M344.0 437.5V443.5M344.5 435.0V444.7M345.0 436.0V443.7M345.5 432.0V443.7M346.0 436.1V443.5M346.5 434.5V443.9M347.0 437.6V443.9M347.5 437.7V442.9M348.0 433.6V444.4M348.5 436.0V443.5M349.0 438.2V445.6M349.5 437.0V444.8M350.0 432.7V443.7M350.5 438.2V444.0M351.0 437.3V443.6M351.5 434.7V447.0M352.0 438.3V446.5M352.5 435.5V444.1M353.0 438.4V443.5M353.5 438.0V443.4M354.0 437.7V443.4M354.5 437.8V446.9M355.0 436.6V444.5M355.5 437.2V445.1M356.0 437.3V444.3M356.5 437.9V442.9M357.0 435.9V445.4M357.5 437.6V443.7M358.0 436.8V444.2M358.5 434.9V446.0M359.0 438.0V444.0M359.5 438.1V443.6M360.0 434.6V443.2M360.5 438.0V442.8M361.0 437.6V442.5M361.5 437.8V442.6M362.0 437.2V444.3M362.5 437.0V442.8M363.0 438.2V443.9M363.5 437.1V443.4M364.0 436.5V444.0M364.5 437.7V443.3M365.0 437.9V443.1M365.5 436.2V445.0M366.0 436.7V443.1M366.5 436.8V445.0M367.0 437.0V443.7M367.5 437.0V443.2M368.0 437.4V445.4M368.5 436.7V444.3M369.0 437.1V443.3M369.5 438.0V442.6M370.0 437.7V442.8M370.5 438.0V442.9M371.0 436.5V442.4M371.5 438.1V443.0M372.0 437.5V442.8M372.5 438.3V443.0M373.0 436.6V443.3M373.5 438.7V443.1M374.0 437.4V443.4M374.5 436.3V443.8M375.0 438.3V443.1M375.5 437.9V444.7M376.0 437.2V442.9M376.5 438.2V443.5M377.0 438.2V442.2M377.5 438.2V442.3M378.0 437.1V442.9M378.5 438.2V442.6M379.0 438.2V442.6M379.5 438.1V442.9M380.0 437.9V442.3M380.5 437.9V443.1M381.0 438.2V443.2M381.5 438.2V442.3M382.0 438.6V442.8M382.5 438.2V443.3M383.0 438.0V443.8M383.5 437.7V443.0M384.0 438.4V443.3M384.5 437.6V442.5M385.0 436.9V442.6M385.5 438.0V444.7M386.0 437.7V443.0M386.5 436.8V443.1M387.0 436.5V442.8M387.5 437.3V444.1M388.0 437.4V444.5M388.5 437.9V444.5M389.0 437.2V443.3M389.5 437.5V444.4M390.0 436.5V443.9M390.5 436.4V444.2M391.0 437.8V444.2M391.5 436.9V444.0M392.0 435.6V443.2M392.5 436.7V444.7M393.0 436.3V443.3M393.5 436.2V443.7M394.0 437.3V443.4M394.5 434.7V444.7M395.0 435.3V443.8M395.5 435.9V445.0M396.0 436.8V445.7M396.5 436.1V444.4M397.0 435.4V443.9M397.5 436.0V443.2M398.0 436.9V444.9M398.5 436.3V443.4M399.0 434.8V448.7M399.5 436.5V444.2M400.0 437.4V444.1M400.5 434.0V448.0M401.0 434.9V444.2M401.5 436.5V443.1M402.0 436.9V444.1M402.5 437.6V445.6M403.0 436.2V444.2M403.5 438.3V443.4M404.0 435.0V443.0M404.5 437.6V443.3M405.0 437.3V444.3M405.5 435.1V444.9M406.0 436.2V443.3M406.5 434.4V445.5M407.0 438.0V443.5M407.5 436.0V446.8M408.0 433.9V445.5M408.5 437.8V445.2M409.0 436.3V446.1M409.5 437.9V444.4M410.0 436.5V442.9M410.5 435.9V442.9M411.0 435.3V445.1M411.5 437.4V444.2M412.0 437.1V444.1M412.5 436.8V444.1M413.0 433.7V444.0M413.5 435.4V445.4M414.0 436.5V448.7M414.5 436.6V443.2M415.0 435.0V444.6M415.5 436.5V443.9M416.0 434.3V443.0M416.5 435.2V445.9M417.0 436.6V443.7M417.5 436.3V447.0M418.0 436.0V445.7M418.5 436.9V444.6M419.0 437.3V446.4M419.5 432.8V447.4M420.0 433.6V444.0M420.5 433.5V445.6M421.0 435.4V445.5M421.5 432.1V447.6M422.0 436.0V444.2M422.5 436.5V446.2M423.0 436.4V445.0M423.5 436.0V446.3M424.0 436.9V444.3M424.5 436.2V445.3M425.0 433.9V444.8M425.5 435.5V451.7M426.0 435.2V446.7M426.5 436.1V446.0M427.0 431.1V446.3M427.5 433.6V447.5M428.0 433.4V446.4M428.5 435.9V444.7M429.0 435.9V449.3M429.5 433.1V445.2M430.0 435.1V445.4M430.5 435.3V449.2M431.0 432.8V444.3M431.5 433.4V451.7M432.0 433.5V450.5M432.5 433.6V449.7M433.0 435.6V451.5M433.5 435.4V446.0M434.0 435.2V449.6M434.5 434.6V447.5M435.0 436.2V444.0M435.5 430.5V447.7M436.0 432.2V447.1M436.5 430.4V450.9M437.0 424.4V453.4M437.5 434.6V448.6M438.0 428.4V450.4M438.5 435.5V446.5M439.0 432.3V449.1M439.5 432.6V445.4M440.0 429.4V449.0M440.5 435.2V446.4M441.0 436.0V445.2M441.5 436.2V445.1M442.0 437.0V443.7M442.5 435.7V447.6M443.0 434.0V444.3M443.5 434.4V448.6M444.0 435.6V446.4M444.5 436.6V444.6M445.0 431.2V444.7M445.5 432.9V445.1M446.0 435.2V446.4M446.5 434.6V444.5M447.0 434.1V447.8M447.5 436.7V445.6M448.0 435.6V446.0M448.5 435.3V444.4M449.0 435.6V444.9M449.5 438.0V444.7M450.0 434.6V443.1M450.5 435.8V445.1M451.0 436.8V443.2M451.5 434.4V444.6M452.0 434.0V442.9M452.5 437.2V444.2M453.0 437.1V444.2M453.5 437.3V444.5M454.0 437.9V444.7M454.5 435.5V444.7M455.0 434.1V445.0M455.5 436.4V445.9M456.0 436.4V444.5M456.5 437.6V443.9M457.0 434.6V443.5M457.5 437.7V444.5M458.0 437.0V444.9M458.5 435.8V444.5M459.0 437.6V445.6M459.5 436.4V444.1M460.0 437.4V443.3M460.5 434.2V442.6M461.0 436.1V445.7M461.5 436.5V443.0M462.0 435.4V444.9M462.5 437.2V447.4M463.0 436.5V444.5M463.5 435.9V444.8M464.0 431.5V450.5M464.5 433.4V447.0M465.0 423.4V452.4M465.5 427.3V449.0M466.0 428.0V449.7M466.5 433.9V450.2M467.0 433.7V447.0M467.5 432.7V445.7M468.0 432.3V446.0M468.5 435.0V446.4M469.0 431.8V447.1M469.5 434.8V446.2M470.0 435.2V450.9M470.5 429.1V447.9M471.0 423.3V451.7M471.5 426.9V450.0M472.0 433.4V447.4M472.5 428.3V448.0M473.0 428.5V450.1M473.5 422.4V460.4M474.0 433.9V451.8M474.5 432.4V454.4M475.0 434.7V447.3M475.5 432.5V445.4M476.0 435.0V445.4M476.5 433.5V444.9M477.0 433.0V446.1M477.5 436.7V444.2M478.0 436.1V445.3M478.5 434.3V444.5M479.0 437.5V444.6M479.5 437.2V445.1M480.0 436.0V443.9M480.5 437.7V443.5M481.0 437.7V444.7M481.5 437.5V443.3M482.0 436.6V443.2M482.5 436.5V443.1M483.0 438.1V446.2M483.5 438.2V443.5M484.0 436.6V443.9M484.5 436.2V445.8M485.0 436.3V443.9M485.5 436.3V443.8M486.0 436.1V443.9M486.5 438.2V444.2M487.0 438.2V444.7M487.5 437.9V445.2M488.0 437.6V444.0M488.5 437.6V444.4M489.0 436.8V445.1M489.5 435.1V444.2M490.0 436.6V445.2M490.5 434.4V446.3M491.0 435.0V445.1M491.5 437.0V445.2M492.0 438.2V443.0M492.5 437.6V446.3M493.0 437.4V445.1M493.5 436.7V442.3M494.0 433.2V443.0M494.5 436.8V444.4M495.0 437.3V445.0M495.5 437.5V443.0M496.0 436.6V443.7M496.5 435.7V445.6M497.0 437.9V443.6M497.5 435.6V444.9M498.0 436.2V446.3M498.5 434.3V450.9M499.0 434.4V450.4M499.5 430.2V444.5M500.0 428.4V452.4M500.5 431.3V449.0M501.0 432.7V447.4M501.5 432.9V444.2M502.0 430.0V448.0M502.5 437.8V445.7M503.0 434.5V443.5M503.5 435.9V444.6M504.0 437.8V447.1M504.5 436.0V443.3M505.0 436.4V443.4M505.5 437.5V443.9M506.0 436.1V443.6M506.5 437.4V443.5M507.0 437.8V443.8M507.5 437.1V443.5M508.0 437.1V443.0M508.5 437.5V445.0M509.0 438.0V444.0M509.5 436.6V442.8M510.0 437.9V442.9M510.5 437.2V443.3M511.0 437.1V443.8M511.5 435.2V445.2M512.0 437.5V445.3M512.5 436.3V443.1M513.0 435.3V444.3M513.5 435.5V444.6M514.0 434.2V443.3M514.5 437.5V443.9M515.0 435.0V443.3M515.5 434.4V443.8M516.0 436.5V445.0M516.5 435.3V444.5M517.0 435.8V446.8M517.5 436.5V445.3M518.0 436.1V444.6M518.5 437.3V444.2M519.0 434.0V444.5M519.5 433.9V444.4M520.0 433.3V443.4M520.5 435.7V445.3M521.0 437.8V445.6M521.5 435.9V445.2M522.0 435.7V443.7M522.5 436.1V444.9M523.0 435.8V443.2M523.5 435.9V444.2M524.0 434.9V444.1M524.5 436.0V443.3M525.0 437.1V446.6M525.5 437.1V445.9M526.0 433.9V444.9M526.5 437.9V443.4M527.0 436.5V443.2M527.5 436.7V445.1M528.0 437.4V444.3M528.5 436.5V443.1M529.0 437.4V446.8M529.5 437.9V446.9M530.0 435.2V443.4M530.5 438.1V444.4M531.0 437.0V443.0M531.5 437.1V443.5M532.0 437.4V443.5M532.5 437.8V445.1M533.0 438.2V444.6M533.5 437.4V443.2M534.0 435.6V444.1M534.5 438.2V444.7M535.0 434.0V442.8M535.5 437.0V443.4M536.0 437.4V444.4M536.5 433.5V445.3M537.0 437.7V443.9M537.5 438.0V446.2M538.0 437.9V444.0M538.5 434.2V443.8M539.0 435.1V443.6M539.5 436.1V445.5M540.0 437.0V444.2M540.5 435.7V447.7M541.0 436.4V444.2M541.5 433.8V443.0M542.0 436.2V446.2M542.5 436.4V445.9M543.0 437.3V448.7M543.5 430.4V444.7M544.0 433.2V445.9M544.5 436.2V445.9M545.0 435.2V443.9M545.5 434.6V444.2M546.0 436.6V445.2M546.5 436.5V444.0M547.0 435.7V446.6M547.5 436.2V443.9M548.0 435.3V444.4M548.5 436.6V445.6M549.0 436.6V445.2M549.5 432.1V444.4M550.0 433.4V449.9M550.5 434.8V447.9M551.0 430.4V451.4M551.5 432.5V448.6M552.0 432.9V448.3M552.5 434.0V443.9M553.0 432.7V443.7M553.5 437.6V445.2M554.0 432.6V443.1M554.5 434.4V445.8M555.0 433.6V444.7M555.5 435.6V445.9M556.0 436.1V446.2M556.5 437.4V443.1M557.0 435.9V444.1M557.5 435.9V445.5M558.0 436.6V443.4M558.5 436.0V445.6M559.0 435.1V443.9M559.5 436.6V443.1M560.0 435.2V445.7M560.5 435.8V443.5M561.0 436.7V443.7M561.5 435.3V447.2M562.0 437.6V445.8M562.5 435.8V445.9M563.0 433.9V446.9M563.5 430.0V446.8M564.0 432.5V450.9M564.5 429.7V452.4M565.0 426.4V456.4M565.5 426.4V456.4M566.0 430.2V450.0M566.5 431.5V447.1M567.0 433.9V444.2M567.5 435.5V447.3M568.0 436.8V447.2M568.5 434.4V444.5M569.0 436.0V444.6M569.5 437.5V443.7M570.0 437.7V444.0M570.5 437.0V444.6M571.0 436.8V444.1M571.5 437.1V443.6M572.0 436.6V446.1M572.5 436.2V445.3M573.0 438.1V444.4M573.5 437.9V444.3M574.0 436.7V443.5M574.5 437.8V443.1M575.0 435.0V446.3M575.5 436.1V443.6M576.0 434.7V444.9M576.5 435.2V446.7M577.0 437.4V445.1M577.5 436.2V444.9M578.0 435.8V446.7M578.5 435.5V447.1M579.0 436.0V443.8M579.5 436.2V446.1M580.0 437.1V447.6M580.5 435.2V446.4M581.0 433.2V446.3M581.5 434.3V447.7M582.0 436.9V446.8M582.5 434.0V445.7M583.0 437.5V444.1M583.5 436.4V446.3M584.0 435.9V444.8M584.5 436.6V445.2M585.0 433.5V444.9M585.5 436.5V445.0M586.0 435.6V446.1M586.5 436.5V448.5M587.0 432.7V444.3M587.5 437.2V443.8M588.0 435.2V444.9M588.5 436.8V448.2M589.0 434.9V444.1M589.5 435.8V442.9M590.0 437.0V445.8M590.5 436.3V443.8M591.0 435.7V443.6M591.5 437.5V444.9M592.0 434.3V443.8M592.5 436.8V446.6M593.0 434.4V443.0M593.5 437.5V444.9M594.0 436.6V443.1M594.5 435.9V445.7M595.0 437.0V443.3M595.5 432.9V444.1M596.0 434.3V443.6M596.5 436.4V443.3M597.0 434.3V443.2M597.5 435.7V443.6M598.0 436.1V446.4M598.5 437.4V445.4M599.0 435.7V446.4M599.5 434.9V445.0M600.0 433.4V447.7M600.5 424.5V447.6M601.0 429.9V449.4M601.5 420.4V455.4M602.0 420.4V455.4M602.5 427.1V449.6M603.0 432.5V453.0M603.5 435.9V449.5M604.0 435.7V444.3M604.5 435.9V444.0M605.0 437.1V447.3M605.5 435.7V444.1M606.0 438.1V443.5M606.5 436.0V446.5M607.0 435.6V445.0M607.5 433.8V443.4M608.0 435.2V443.3M608.5 437.2V443.5M609.0 437.6V442.9M609.5 435.8V445.7M610.0 437.0V443.7M610.5 435.3V443.0M611.0 437.4V446.6M611.5 436.2V443.9M612.0 432.9V446.3M612.5 436.5V443.0M613.0 435.3V443.4M613.5 435.1V446.8M614.0 434.3V445.3M614.5 436.0V446.0M615.0 435.9V447.6M615.5 437.9V444.7M616.0 436.4V443.8M616.5 434.7V444.3M617.0 437.6V444.7M617.5 437.0V442.9"/>
<path d="M132.0 477.9V496.4M132.5 479.6V495.4M133.0 480.2V495.7M133.5 479.5V491.3M134.0 473.5V493.0M134.5 478.1V499.8M135.0 480.2V497.5M135.5 479.8V500.5M136.0 479.7V495.7M136.5 480.5V494.1M137.0 481.3V494.0M137.5 475.7V494.1M138.0 480.3V492.7M138.5 480.5V491.6M139.0 476.3V494.5M139.5 479.4V493.8M140.0 476.0V498.0M140.5 478.4V494.8M141.0 478.1V490.9M141.5 479.2V493.4M142.0 477.8V490.8M142.5 480.2V492.8M143.0 475.0V499.2M143.5 476.6V496.9M144.0 479.4V491.3M144.5 480.4V495.7M145.0 479.2V493.3M145.5 478.1V494.5M146.0 476.0V496.8M146.5 479.4V491.1M147.0 479.1V492.9M147.5 480.1V494.9M148.0 478.6V493.9M148.5 477.1V492.7M149.0 473.1V499.0M149.5 475.3V492.2M150.0 479.3V492.8M150.5 477.6V492.9M151.0 476.8V491.5M151.5 479.9V493.3M152.0 479.3V491.9M152.5 475.9V492.1M153.0 479.6V496.1M153.5 476.0V497.3M154.0 477.3V494.8M154.5 479.0V495.9M155.0 479.6V491.5M155.5 478.5V496.6M156.0 475.8V495.6M156.5 481.3V496.6M157.0 468.9V492.8M157.5 479.2V492.9M158.0 478.3V500.7M158.5 478.1V495.7M159.0 478.1V496.9M159.5 481.7V495.4M160.0 479.0V501.7M160.5 475.8V491.4M161.0 473.0V505.0M161.5 475.3V497.9M162.0 472.6V493.4M162.5 474.4V492.1M163.0 477.5V496.2M163.5 478.8V492.8M164.0 478.4V498.2M164.5 473.6V493.7M165.0 480.0V492.8M165.5 476.5V491.4M166.0 479.2V494.1M166.5 476.9V491.7M167.0 479.5V493.0M167.5 479.8V495.0M168.0 473.0V495.0M168.5 480.0V493.5M169.0 479.1V493.2M169.5 479.8V490.9M170.0 477.2V492.9M170.5 476.8V495.4M171.0 480.5V490.4M171.5 474.4V497.0M172.0 477.2V495.7M172.5 478.4V497.9M173.0 479.1V495.2M173.5 478.0V493.3M174.0 481.3V494.3M174.5 478.8V495.6M175.0 481.1V497.0M175.5 472.5V496.5M176.0 477.0V494.9M176.5 477.7V491.7M177.0 480.5V492.2M177.5 475.7V499.5M178.0 475.5V493.3M178.5 471.0V505.0M179.0 474.9V498.8M179.5 476.3V497.2M180.0 478.4V493.1M180.5 474.1V498.3M181.0 474.0V504.0M181.5 478.2V496.0M182.0 477.8V500.9M182.5 477.2V497.2M183.0 480.4V492.4M183.5 473.0V494.1M184.0 477.3V493.9M184.5 479.7V495.7M185.0 476.8V492.0M185.5 479.6V492.9M186.0 479.8V497.1M186.5 473.8V494.6M187.0 476.0V491.5M187.5 474.1V490.9M188.0 479.8V492.7M188.5 481.6V494.7M189.0 475.2V495.1M189.5 482.0V492.0M190.0 480.1V493.1M190.5 478.4V494.6M191.0 480.0V491.8M191.5 480.3V494.7M192.0 473.6V492.5M192.5 476.8V491.1M193.0 478.6V496.6M193.5 481.1V492.9M194.0 480.4V490.5M194.5 478.8V494.2M195.0 477.3V492.4M195.5 476.2V490.9M196.0 479.0V491.9M196.5 480.7V493.6M197.0 480.8V491.1M197.5 478.7V493.2M198.0 480.7V497.1M198.5 480.4V495.9M199.0 479.5V492.2M199.5 478.6V490.4M200.0 478.1V494.6M200.5 476.7V491.5M201.0 476.0V492.3M201.5 479.0V494.4M202.0 480.5V493.5M202.5 481.7V490.3M203.0 480.1V490.4M203.5 478.5V490.5M204.0 479.6V494.8M204.5 477.3V493.0M205.0 480.8V491.6M205.5 478.3V491.3M206.0 480.8V492.7M206.5 477.7V491.2M207.0 478.7V491.9M207.5 480.6V491.3M208.0 480.9V493.5M208.5 481.5V492.7M209.0 478.5V492.4M209.5 480.5V493.4M210.0 480.6V494.0M210.5 477.3V496.1M211.0 480.2V492.2M211.5 480.5V496.0M212.0 481.7V491.7M212.5 476.0V495.1M213.0 480.2V491.7M213.5 478.1V492.7M214.0 479.1V491.6M214.5 479.1V489.8M215.0 481.0V492.9M215.5 476.8V493.4M216.0 481.3V495.0M216.5 480.5V496.0M217.0 478.1V490.6M217.5 481.1V493.6M218.0 476.1V497.6M218.5 481.8V492.7M219.0 480.5V491.8M219.5 480.6V490.8M220.0 480.6V493.3M220.5 475.1V491.8M221.0 480.4V490.7M221.5 480.0V496.5M222.0 479.5V491.3M222.5 478.1V494.7M223.0 478.9V493.1M223.5 479.4V492.0M224.0 477.9V491.4M224.5 479.6V493.3M225.0 477.5V493.1M225.5 479.2V492.0M226.0 478.2V492.7M226.5 479.2V490.5M227.0 479.8V493.9M227.5 478.4V491.0M228.0 481.3V492.7M228.5 477.8V494.9M229.0 478.9V494.5M229.5 480.3V491.0M230.0 481.1V492.6M230.5 481.9V494.5M231.0 474.7V493.3M231.5 480.5V492.0M232.0 480.1V492.0M232.5 474.3V495.5M233.0 481.9V490.2M233.5 479.7V491.9M234.0 478.4V497.7M234.5 478.9V492.7M235.0 472.1V491.7M235.5 480.2V491.6M236.0 478.0V492.5M236.5 475.8V491.9M237.0 477.9V493.6M237.5 475.5V492.8M238.0 479.1V492.6M238.5 475.3V491.4M239.0 474.4V491.2M239.5 476.1V493.7M240.0 473.3V494.2M240.5 478.6V492.7M241.0 478.4V498.4M241.5 477.2V497.3M242.0 477.2V497.8M242.5 479.3V491.6M243.0 475.8V497.2M243.5 476.9V494.4M244.0 479.3V492.4M244.5 478.0V493.8M245.0 479.3V496.9M245.5 480.8V494.4M246.0 473.6V497.9M246.5 474.5V495.1M247.0 471.5V494.5M247.5 473.4V493.0M248.0 473.5V492.6M248.5 468.0V506.0M249.0 471.9V495.9M249.5 477.8V502.2M250.0 480.3V492.8M250.5 479.8V493.7M251.0 478.8V494.6M251.5 474.8V494.1M252.0 476.0V495.8M252.5 472.4V496.6M253.0 479.8V494.8M253.5 471.8V494.3M254.0 477.5V493.1M254.5 476.8V491.4M255.0 474.9V493.2M255.5 469.3V495.0M256.0 475.0V501.0M256.5 479.1V494.8M257.0 473.9V498.6M257.5 476.8V495.4M258.0 480.9V502.0M258.5 479.4V490.9M259.0 478.1V494.9M259.5 475.1V492.2M260.0 476.9V491.2M260.5 479.6V490.9M261.0 475.6V495.3M261.5 479.2V496.3M262.0 481.0V498.9M262.5 477.6V491.3M263.0 476.1V498.4M263.5 481.6V493.3M264.0 471.2V494.2M264.5 479.1V492.7M265.0 476.3V496.3M265.5 480.7V491.6M266.0 479.1V494.5M266.5 477.8V492.9M267.0 480.2V490.9M267.5 479.8V492.2M268.0 480.0V492.4M268.5 478.2V495.1M269.0 477.9V492.5M269.5 479.7V491.1M270.0 480.0V492.0M270.5 481.4V493.0M271.0 478.1V492.6M271.5 480.3V490.3M272.0 478.7V494.0M272.5 481.7V491.6M273.0 479.5V490.9M273.5 480.6V491.3M274.0 480.4V492.3M274.5 478.8V497.8M275.0 481.0V491.7M275.5 480.4V491.4M276.0 476.3V490.8M276.5 480.6V490.5M277.0 480.5V492.4M277.5 479.4V491.1M278.0 480.0V493.5M278.5 477.4V492.4M279.0 480.8V490.5M279.5 479.1V494.1M280.0 480.7V498.0M280.5 478.2V491.8M281.0 478.0V495.0M281.5 478.4V492.3M282.0 479.3V493.8M282.5 476.9V492.5M283.0 477.4V491.2M283.5 479.9V493.4M284.0 479.5V492.2M284.5 481.0V492.9M285.0 480.8V491.6M285.5 481.2V493.9M286.0 481.2V496.2M286.5 481.0V492.6M287.0 477.2V491.3M287.5 480.8V491.9M288.0 481.8V492.4M288.5 480.0V493.9M289.0 481.4V491.5M289.5 479.0V490.2M290.0 480.8V492.8M290.5 480.9V493.6M291.0 481.4V492.9M291.5 478.4V495.1M292.0 479.2V496.4M292.5 481.2V495.3M293.0 478.0V494.2M293.5 481.6V492.1M294.0 480.1V491.8M294.5 479.1V490.1M295.0 479.0V492.5M295.5 480.9V491.7M296.0 481.0V491.8M296.5 480.8V491.8M297.0 481.4V490.9M297.5 479.7V492.2M298.0 481.5V492.1M298.5 476.6V495.8M299.0 482.1V494.1M299.5 480.7V493.8M300.0 474.9V491.6M300.5 482.1V493.5M301.0 479.0V491.5M301.5 481.0V493.7M302.0 479.6V492.5M302.5 481.4V490.0M303.0 479.9V490.2M303.5 479.9V490.4M304.0 478.3V493.8M304.5 480.9V492.6M305.0 481.4V491.4M305.5 478.2V492.4M306.0 479.4V494.2M306.5 479.8V490.7M307.0 480.0V492.8M307.5 481.4V494.5M308.0 478.9V493.7M308.5 478.8V490.7M309.0 479.8V490.5M309.5 481.6V492.3M310.0 480.3V490.6M310.5 480.4V490.4M311.0 480.3V492.1M311.5 478.1V493.3M312.0 477.1V491.5M312.5 479.8V492.8M313.0 480.2V491.8M313.5 475.2V492.3M314.0 480.4V491.2M314.5 475.7V490.9M315.0 480.6V493.8M315.5 479.2V491.2M316.0 481.6V490.4M316.5 480.3V491.5M317.0 477.7V494.0M317.5 480.2V492.3M318.0 480.7V492.7M318.5 478.9V492.2M319.0 480.1V492.5M319.5 479.0V496.5M320.0 481.1V492.5M320.5 481.0V492.0M321.0 477.7V490.3M321.5 482.3V496.2M322.0 479.4V493.4M322.5 479.9V490.4M323.0 476.2V490.5M323.5 479.2V494.7M324.0 480.3V492.3M324.5 481.3V493.3M325.0 482.4V496.0M325.5 480.6V491.5M326.0 478.1V493.6M326.5 477.6V492.5M327.0 478.6V491.5M327.5 480.6V495.1M328.0 480.4V493.0M328.5 479.3V491.0M329.0 475.4V491.6M329.5 481.8V493.1M330.0 481.1V492.2M330.5 477.7V491.6M331.0 478.3V491.9M331.5 477.1V491.2M332.0 481.7V491.6M332.5 482.0V490.8M333.0 480.7V492.8M333.5 481.6V492.2M334.0 481.5V490.7M334.5 479.4V490.9M335.0 477.0V494.2M335.5 475.8V493.0M336.0 477.3V492.1M336.5 479.8V492.9M337.0 479.1V493.2M337.5 481.6V494.0M338.0 477.1V493.8M338.5 478.1V492.3M339.0 479.4V492.0M339.5 480.1V494.6M340.0 478.4V491.1M340.5 481.2V491.8M341.0 480.7V492.3M341.5 478.2V493.9M342.0 478.0V491.9M342.5 479.3V491.8M343.0 479.5V490.1M343.5 479.0V491.0M344.0 477.6V494.2M344.5 481.6V492.1M345.0 481.1V491.6M345.5 481.4V492.4M346.0 476.1V492.5M346.5 481.4V490.9M347.0 480.5V494.6M347.5 480.1V490.2M348.0 479.3V491.1M348.5 480.7V490.5M349.0 480.6V490.6M349.5 480.3V492.3M350.0 481.6V490.7M350.5 478.5V490.7M351.0 480.6V491.6M351.5 480.9V492.7M352.0 479.5V490.7M352.5 480.8V493.9M353.0 480.3V491.0M353.5 477.9V490.5M354.0 480.1V491.6M354.5 474.2V491.5M355.0 480.6V492.2M355.5 479.4V493.9M356.0 481.4V492.9M356.5 477.2V490.9M357.0 479.8V492.6M357.5 479.6V491.2M358.0 478.4V491.4M358.5 479.6V493.1M359.0 478.9V496.6M359.5 477.7V491.0M360.0 480.8V494.3M360.5 479.3V492.5M361.0 480.1V492.8M361.5 478.8V494.4M362.0 480.5V490.6M362.5 479.4V493.3M363.0 479.5V495.7M363.5 481.6V490.3M364.0 476.3V490.6M364.5 479.9V490.0M365.0 478.5V492.1M365.5 481.4V492.7M366.0 475.0V490.6M366.5 478.0V491.6M367.0 476.3V492.3M367.5 481.9V493.2M368.0 477.9V492.9M368.5 476.9V492.9M369.0 479.1V491.3M369.5 480.6V496.2M370.0 476.9V492.5M370.5 481.6V492.7M371.0 481.5V492.5M371.5 480.2V492.2M372.0 472.8V493.0M372.5 480.5V492.2M373.0 478.1V491.2M373.5 476.6V494.0M374.0 481.1V494.6M374.5 479.3V490.2M375.0 479.7V493.8M375.5 480.5V490.2M376.0 477.7V492.1M376.5 479.4V494.3M377.0 479.9V491.0M377.5 478.8V490.3M378.0 478.0V492.9M378.5 478.3V493.0M379.0 480.9V492.1M379.5 479.9V496.8M380.0 481.0V494.7M380.5 481.5V493.8M381.0 478.7V492.0M381.5 480.2V490.5M382.0 480.6V497.7M382.5 479.1V492.9M383.0 478.8V491.4M383.5 480.8V490.3M384.0 481.1V493.6M384.5 478.4V491.4M385.0 476.1V491.9M385.5 478.8V494.3M386.0 474.0V495.0M386.5 478.9V495.7M387.0 480.1V491.0M387.5 477.7V494.0M388.0 479.4V494.4M388.5 481.4V493.0M389.0 481.9V492.2M389.5 477.6V494.8M390.0 477.6V495.5M390.5 479.8V495.6M391.0 481.4V493.5M391.5 480.7V492.4M392.0 477.8V494.0M392.5 479.3V491.4M393.0 480.5V491.9M393.5 481.1V491.3M394.0 478.9V493.1M394.5 479.4V494.8M395.0 479.2V490.8M395.5 480.9V495.7M396.0 479.6V492.8M396.5 481.8V492.0M397.0 479.3V493.1M397.5 475.7V493.4M398.0 480.2V492.2M398.5 477.2V489.8M399.0 478.9V490.5M399.5 479.6V492.8M400.0 481.8V497.1M400.5 478.9V490.3M401.0 476.3V493.7M401.5 479.2V490.8M402.0 478.7V492.9M402.5 477.5V494.0M403.0 480.6V495.8M403.5 479.8V495.3M404.0 479.0V490.1M404.5 476.2V493.2M405.0 479.7V491.8M405.5 479.4V492.2M406.0 478.7V492.9M406.5 478.9V493.4M407.0 480.2V493.3M407.5 479.6V492.3M408.0 479.2V494.3M408.5 480.0V493.3M409.0 480.2V491.0M409.5 476.0V495.7M410.0 477.2V491.9M410.5 477.6V491.1M411.0 480.4V492.9M411.5 480.6V492.0M412.0 480.1V493.4M412.5 478.9V493.5M413.0 476.5V490.9M413.5 478.9V492.7M414.0 478.3V491.7M414.5 480.0V493.9M415.0 480.2V496.0M415.5 476.2V493.9M416.0 479.8V490.6M416.5 477.4V490.8M417.0 479.2V495.9M417.5 480.2V491.3M418.0 480.6V495.1M418.5 475.8V492.9M419.0 474.0V500.0M419.5 477.7V494.4M420.0 477.8V494.9M420.5 480.8V497.5M421.0 480.4V495.4M421.5 473.4V492.9M422.0 481.2V492.4M422.5 475.3V492.5M423.0 479.5V491.4M423.5 480.7V491.3M424.0 478.8V491.9M424.5 480.8V495.9M425.0 480.5V495.5M425.5 476.9V495.4M426.0 475.1V493.0M426.5 481.9V495.0M427.0 476.0V490.5M427.5 473.9V495.0M428.0 479.5V491.7M428.5 480.1V490.4M429.0 476.4V494.2M429.5 481.7V493.6M430.0 474.4V495.0M430.5 480.1V492.8M431.0 476.9V495.4M431.5 479.8V491.9M432.0 479.5V494.6M432.5 477.5V493.6M433.0 478.2V495.0M433.5 480.3V494.7M434.0 477.1V493.3M434.5 474.1V491.6M435.0 479.3V494.3M435.5 478.5V491.1M436.0 481.2V491.8M436.5 479.2V490.5M437.0 480.2V492.5M437.5 479.5V491.6M438.0 478.7V491.4M438.5 476.7V495.7M439.0 476.7V492.1M439.5 479.4V493.2M440.0 478.9V491.9M440.5 478.0V491.0M441.0 478.0V491.4M441.5 478.2V490.2M442.0 481.2V490.2M442.5 477.6V493.4M443.0 479.7V495.2M443.5 478.1V493.3M444.0 479.9V494.7M444.5 480.4V491.1M445.0 478.2V494.8M445.5 477.9V492.5M446.0 476.5V490.8M446.5 478.8V491.1M447.0 479.8V492.7M447.5 480.4V490.5M448.0 479.9V492.8M448.5 481.3V490.7M449.0 480.1V494.4M449.5 477.5V493.1M450.0 480.3V495.0M450.5 481.0V495.5M451.0 477.8V493.8M451.5 479.0V491.4M452.0 477.3V493.3M452.5 475.7V494.9M453.0 478.5V491.5M453.5 481.6V493.0M454.0 479.4V491.6M454.5 479.4V495.8M455.0 478.9V492.4M455.5 477.3V492.4M456.0 479.4V490.8M456.5 479.5V494.4M457.0 480.3V495.2M457.5 480.1V493.6M458.0 480.1V493.6M458.5 480.1V493.3M459.0 477.1V491.3M459.5 473.4V495.4M460.0 476.2V492.9M460.5 476.2V496.2M461.0 476.9V492.6M461.5 478.6V495.3M462.0 479.8V494.0M462.5 480.0V497.5M463.0 480.6V494.0M463.5 479.5V497.5M464.0 479.2V493.7M464.5 481.4V495.4M465.0 477.3V497.9M465.5 478.0V491.4M466.0 476.0V503.0M466.5 477.7V501.1M467.0 471.2V496.9M467.5 472.4V494.3M468.0 477.1V494.9M468.5 479.2V492.1M469.0 476.8V491.2M469.5 477.0V494.6M470.0 478.2V492.5M470.5 481.0V493.6M471.0 472.8V496.9M471.5 479.0V493.5M472.0 466.0V501.0M472.5 477.0V498.2M473.0 471.5V496.8M473.5 475.3V495.1M474.0 479.5V491.4M474.5 478.3V499.0M475.0 480.9V496.0M475.5 477.3V496.3M476.0 479.3V495.8M476.5 476.8V495.9M477.0 474.0V500.0M477.5 476.1V491.7M478.0 476.5V494.2M478.5 480.5V492.8M479.0 479.1V495.8M479.5 478.0V490.1M480.0 475.3V491.2M480.5 477.6V493.9M481.0 480.1V498.5M481.5 479.1V495.8M482.0 477.2V496.0M482.5 476.0V492.7M483.0 474.9V491.7M483.5 480.0V491.9M484.0 480.5V493.5M484.5 479.1V491.2M485.0 481.2V492.7M485.5 476.9V492.8M486.0 480.0V494.1M486.5 477.3V492.6M487.0 479.1V491.6M487.5 476.8V490.8M488.0 480.6V490.6M488.5 479.6V490.1M489.0 479.3V491.9M489.5 480.4V493.9M490.0 478.6V490.8M490.5 477.7V494.3M491.0 479.2V491.1M491.5 480.6V491.0M492.0 480.3V493.2M492.5 479.1V496.2M493.0 478.7V496.5M493.5 478.2V492.3M494.0 480.0V491.8M494.5 475.1V492.8M495.0 480.0V490.3M495.5 475.8V493.2M496.0 480.6V496.2M496.5 480.5V491.0M497.0 481.5V494.9M497.5 480.4V490.2M498.0 480.6V491.0M498.5 476.0V492.2M499.0 478.6V491.6M499.5 481.1V495.3M500.0 476.0V492.2M500.5 478.8V491.6M501.0 478.9V491.2M501.5 479.7V491.8M502.0 482.1V491.1M502.5 478.4V495.3M503.0 482.1V493.2M503.5 480.0V490.4M504.0 481.2V492.3M504.5 480.8V492.6M505.0 479.5V493.0M505.5 481.4V492.5M506.0 478.0V492.1M506.5 478.1V493.9M507.0 478.7V492.9M507.5 477.0V491.1M508.0 480.2V493.1M508.5 478.0V491.2M509.0 478.8V493.2M509.5 479.3V490.8M510.0 477.6V494.8M510.5 481.1V490.2M511.0 481.8V494.3M511.5 479.8V490.7M512.0 479.1V490.9M512.5 479.6V492.1M513.0 478.2V492.5M513.5 479.9V491.0M514.0 481.1V491.1M514.5 481.4V491.9M515.0 478.2V490.7M515.5 476.2V494.4M516.0 480.6V491.4M516.5 479.3V492.6M517.0 481.4V491.3M517.5 474.6V493.5M518.0 477.8V491.1M518.5 480.3V495.7M519.0 479.7V489.9M519.5 478.7V491.3M520.0 480.7V490.0M520.5 479.8V495.7M521.0 480.2V498.2M521.5 480.5V492.0M522.0 480.6V490.4M522.5 477.9V490.0M523.0 480.7V493.4M523.5 479.6V497.3M524.0 481.3V495.4M524.5 480.2V491.5M525.0 476.9V491.5M525.5 479.4V495.8M526.0 480.0V495.1M526.5 477.6V495.5M527.0 479.8V493.8M527.5 479.9V493.8M528.0 477.1V493.7M528.5 481.0V491.4M529.0 479.1V492.5M529.5 481.3V491.6M530.0 481.0V493.1M530.5 481.6V492.3M531.0 479.7V492.9M531.5 481.8V495.3M532.0 479.2V492.4M532.5 480.5V492.5M533.0 479.1V492.8M533.5 477.9V494.4M534.0 475.3V490.6M534.5 475.7V494.1M535.0 479.9V496.5M535.5 475.2V496.4M536.0 480.7V492.9M536.5 480.9V491.9M537.0 479.2V493.7M537.5 481.2V493.5M538.0 481.2V491.8M538.5 478.7V493.3M539.0 479.0V492.2M539.5 478.5V491.5M540.0 481.9V495.2M540.5 478.5V491.3M541.0 476.8V498.2M541.5 480.0V494.8M542.0 480.4V493.5M542.5 480.7V495.6M543.0 478.8V491.2M543.5 470.2V491.7M544.0 479.2V493.1M544.5 480.2V491.0M545.0 481.0V491.9M545.5 480.0V492.6M546.0 478.9V491.1M546.5 474.9V492.5M547.0 479.8V494.7M547.5 479.9V491.1M548.0 479.6V492.0M548.5 473.9V493.9M549.0 479.9V493.1M549.5 478.5V492.2M550.0 479.3V494.0M550.5 480.2V493.1M551.0 480.3V493.5M551.5 479.2V495.0M552.0 477.3V495.0M552.5 476.6V493.4M553.0 474.0V494.0M553.5 476.7V493.9M554.0 477.8V496.6M554.5 477.4V492.4M555.0 481.1V493.2M555.5 479.2V492.3M556.0 480.7V493.6M556.5 475.5V493.7M557.0 478.0V491.9M557.5 480.5V492.0M558.0 478.9V493.6M558.5 476.9V491.1M559.0 481.5V490.2M559.5 481.2V493.0M560.0 479.1V491.6M560.5 479.6V491.2M561.0 480.4V491.1M561.5 478.1V493.0M562.0 479.3V494.3M562.5 479.9V490.6M563.0 475.3V492.6M563.5 481.8V494.5M564.0 479.0V492.2M564.5 477.9V494.9M565.0 480.0V490.1M565.5 477.8V494.7M566.0 480.4V490.9M566.5 480.8V494.3M567.0 481.4V491.1M567.5 481.1V493.7M568.0 479.8V492.5M568.5 479.2V493.5M569.0 480.1V492.9M569.5 476.7V491.0M570.0 480.8V494.2M570.5 479.2V492.3M571.0 479.9V491.0M571.5 479.6V492.3M572.0 478.8V492.1M572.5 476.6V491.7M573.0 477.0V491.8M573.5 481.1V494.6M574.0 480.9V492.0M574.5 476.4V493.7M575.0 478.0V491.9M575.5 478.8V491.7M576.0 481.1V494.1M576.5 477.1V492.6M577.0 481.1V493.3M577.5 478.2V491.2M578.0 479.5V491.1M578.5 478.5V494.4M579.0 477.6V495.2M579.5 481.3V492.8M580.0 482.1V491.5M580.5 478.5V491.7M581.0 479.3V490.6M581.5 481.0V490.0M582.0 477.3V493.5M582.5 475.9V492.9M583.0 481.1V491.4M583.5 478.0V492.4M584.0 481.1V493.8M584.5 481.5V492.3M585.0 481.6V498.5M585.5 480.6V497.6M586.0 476.0V501.0M586.5 479.3V491.0M587.0 478.8V494.2M587.5 479.1V490.9M588.0 478.9V493.6M588.5 481.1V496.2M589.0 481.1V492.9M589.5 480.7V496.1M590.0 481.2V491.2M590.5 477.2V491.1M591.0 478.0V493.2M591.5 481.3V492.6M592.0 475.2V492.7M592.5 479.2V490.3M593.0 474.1V489.9M593.5 479.7V497.3M594.0 481.5V492.2M594.5 478.0V493.0M595.0 476.6V495.7M595.5 480.8V494.3M596.0 474.8V493.1M596.5 479.4V491.1M597.0 475.9V492.0M597.5 475.7V492.6M598.0 479.7V495.9M598.5 476.9V495.2M599.0 478.6V496.7M599.5 479.2V490.6M600.0 474.2V494.7M600.5 477.6V500.8M601.0 477.0V504.0M601.5 480.4V500.6M602.0 476.5V493.4M602.5 477.5V493.2M603.0 479.3V500.2M603.5 478.1V491.5M604.0 478.8V493.4M604.5 476.9V492.1M605.0 478.9V494.1M605.5 475.8V492.1M606.0 478.9V492.2M606.5 480.7V492.6M607.0 478.2V492.3M607.5 477.9V494.9M608.0 478.7V495.7M608.5 478.9V494.6M609.0 478.5V492.0M609.5 479.6V497.3M610.0 478.5V491.0M610.5 480.0V494.1M611.0 474.3V497.8M611.5 474.0V496.8M612.0 477.7V493.6M612.5 478.7V491.0M613.0 475.9V494.6M613.5 480.6V496.9M614.0 479.1V492.0M614.5 476.3V491.5M615.0 479.9V495.4M615.5 480.6V491.2M616.0 478.4V492.9M616.5 477.6V491.5M617.0 478.5V492.4M617.5 479.1V496.5"/>
<path d="M132.0 525.3V537.4M132.5 528.7V536.5M133.0 526.7V535.2M133.5 524.1V536.1M134.0 525.2V535.8M134.5 526.1V537.8M135.0 525.4V537.3M135.5 526.6V540.0M136.0 525.7V536.9M136.5 523.6V539.1M137.0 527.2V542.5M137.5 524.5V541.3M138.0 526.7V539.6M138.5 526.1V539.5M139.0 524.1V535.5M139.5 523.3V539.8M140.0 528.4V540.0M140.5 521.2V538.5M141.0 525.0V536.7M141.5 525.3V541.8M142.0 526.8V537.7M142.5 525.5V541.0M143.0 524.0V542.0M143.5 525.9V541.3M144.0 526.8V538.4M144.5 528.1V540.0M145.0 525.8V536.1M145.5 528.0V536.4M146.0 527.6V537.8M146.5 527.3V539.2M147.0 528.2V536.6M147.5 528.2V539.0M148.0 527.1V537.3M148.5 525.7V537.0M149.0 526.5V537.8M149.5 527.5V539.3M150.0 525.1V536.2M150.5 527.8V537.8M151.0 524.0V540.6M151.5 529.0V536.7M152.0 528.2V535.3M152.5 526.8V536.6M153.0 522.7V536.0M153.5 523.8V537.4M154.0 527.5V537.3M154.5 527.4V536.4M155.0 527.8V536.4M155.5 527.0V536.7M156.0 527.8V538.3M156.5 529.1V535.6M157.0 528.0V537.5M157.5 528.6V536.3M158.0 527.1V536.0M158.5 527.3V536.4M159.0 527.7V538.6M159.5 528.5V536.8M160.0 527.7V537.1M160.5 524.2V537.4M161.0 527.0V539.6M161.5 527.2V536.3M162.0 523.3V536.7M162.5 525.3V536.8M163.0 526.1V537.2M163.5 528.3V539.5M164.0 527.1V538.2M164.5 526.0V535.8M165.0 527.0V535.2M165.5 524.8V536.7M166.0 527.9V541.3M166.5 526.0V536.3M167.0 526.5V535.0M167.5 529.1V541.8M168.0 527.8V537.0M168.5 526.4V538.5M169.0 527.7V536.8M169.5 527.5V536.3M170.0 528.1V535.5M170.5 527.5V535.9M171.0 526.8V538.9M171.5 522.4V540.3M172.0 527.7V538.8M172.5 525.6V538.6M173.0 528.2V539.6M173.5 523.7V538.0M174.0 524.8V537.3M174.5 525.9V538.0M175.0 526.1V537.6M175.5 523.8V539.4M176.0 522.9V540.7M176.5 524.6V537.0M177.0 528.0V535.7M177.5 527.4V538.0M178.0 526.9V536.9M178.5 527.6V537.6M179.0 525.3V539.4M179.5 518.3V543.2M180.0 522.7V541.1M180.5 519.0V546.0M181.0 524.9V542.9M181.5 522.9V540.0M182.0 527.8V536.9M182.5 527.0V539.7M183.0 523.8V538.6M183.5 524.2V539.9M184.0 525.0V538.7M184.5 524.9V536.3M185.0 522.9V540.8M185.5 520.8V542.2M186.0 526.9V539.8M186.5 525.7V538.3M187.0 522.1V541.1M187.5 527.2V535.8M188.0 526.9V541.6M188.5 527.1V543.3M189.0 520.0V547.0M189.5 523.7V536.2M190.0 524.7V536.5M190.5 525.8V540.4M191.0 525.4V536.2M191.5 526.2V540.5M192.0 526.4V535.6M192.5 528.5V536.5M193.0 527.3V537.8M193.5 528.6V537.9M194.0 527.8V536.8M194.5 525.8V539.0M195.0 529.0V539.5M195.5 528.0V536.4M196.0 523.8V536.0M196.5 524.6V535.7M197.0 524.0V536.0M197.5 526.3V535.5M198.0 528.4V537.3M198.5 523.9V537.2M199.0 529.0V539.5M199.5 525.7V535.7M200.0 526.1V537.2M200.5 526.7V539.3M201.0 523.3V541.5M201.5 528.1V536.5M202.0 527.4V537.3M202.5 525.4V539.7M203.0 525.9V536.1M203.5 525.5V536.5M204.0 524.0V535.1M204.5 527.1V536.8M205.0 528.5V537.3M205.5 522.9V538.1M206.0 526.2V535.6M206.5 528.8V536.0M207.0 528.3V535.6M207.5 528.2V536.3M208.0 527.8V535.3M208.5 523.3V536.8M209.0 526.0V535.5M209.5 526.4V536.9M210.0 526.4V537.6M210.5 526.7V535.6M211.0 527.0V539.5M211.5 527.6V539.0M212.0 528.2V537.1M212.5 527.4V535.6M213.0 524.3V539.2M213.5 527.5V536.0M214.0 527.8V537.1M214.5 526.1V537.9M215.0 527.0V536.0M215.5 526.7V538.6M216.0 527.9V536.2M216.5 526.8V536.5M217.0 523.6V538.9M217.5 528.0V538.8M218.0 525.2V537.0M218.5 521.7V537.4M219.0 521.6V537.1M219.5 526.9V539.9M220.0 525.3V537.6M220.5 526.2V537.7M221.0 526.6V535.4M221.5 525.7V536.8M222.0 525.0V539.6M222.5 526.6V537.3M223.0 526.7V537.3M223.5 526.0V540.4M224.0 525.0V536.1M224.5 527.9V535.4M225.0 522.9V537.1M225.5 525.3V538.1M226.0 527.9V535.6M226.5 527.6V535.5M227.0 525.9V540.8M227.5 527.4V539.6M228.0 524.0V540.1M228.5 526.4V535.1M229.0 528.7V538.3M229.5 523.9V537.4M230.0 521.6V537.1M230.5 527.7V538.3M231.0 527.9V538.5M231.5 528.0V536.0M232.0 528.5V537.6M232.5 524.9V536.5M233.0 527.6V538.2M233.5 524.0V538.2M234.0 524.7V536.8M234.5 528.0V536.6M235.0 525.9V537.7M235.5 526.4V537.6M236.0 525.6V537.0M236.5 527.6V540.5M237.0 528.7V536.2M237.5 524.2V543.2M238.0 527.8V540.3M238.5 527.0V537.0M239.0 526.4V536.1M239.5 528.2V539.9M240.0 527.1V536.4M240.5 527.1V536.1M241.0 521.3V536.6M241.5 525.8V537.9M242.0 523.9V541.6M242.5 523.9V540.1M243.0 526.4V543.9M243.5 522.5V536.5M244.0 524.4V538.0M244.5 528.0V539.2M245.0 525.1V539.5M245.5 527.6V539.2M246.0 523.0V543.8M246.5 527.2V536.9M247.0 520.0V541.4M247.5 525.1V536.6M248.0 526.1V540.1M248.5 526.4V540.4M249.0 522.6V539.2M249.5 524.4V538.2M250.0 526.7V536.3M250.5 522.6V537.7M251.0 525.8V541.1M251.5 525.3V537.5M252.0 518.6V543.7M252.5 521.5V542.2M253.0 516.0V545.0M253.5 518.7V542.9M254.0 519.5V542.2M254.5 522.6V539.9M255.0 526.0V536.6M255.5 526.6V537.7M256.0 523.7V540.6M256.5 523.5V538.3M257.0 523.5V539.9M257.5 517.5V538.9M258.0 519.2V542.4M258.5 513.0V546.0M259.0 515.9V538.1M259.5 519.6V541.7M260.0 523.6V542.3M260.5 525.6V541.6M261.0 526.6V543.6M261.5 523.1V541.7M262.0 520.8V540.2M262.5 522.4V538.7M263.0 526.8V537.4M263.5 520.2V536.9M264.0 525.2V538.0M264.5 526.3V540.0M265.0 524.5V540.0M265.5 520.3V544.8M266.0 526.3V539.5M266.5 527.2V539.6M267.0 526.5V540.3M267.5 527.4V537.5M268.0 523.0V541.6M268.5 523.7V536.3M269.0 525.1V539.4M269.5 522.6V539.3M270.0 527.6V541.0M270.5 527.1V542.2M271.0 527.7V538.4M271.5 523.3V537.6M272.0 526.1V538.3M272.5 527.5V538.0M273.0 527.5V540.5M273.5 526.3V538.2M274.0 522.2V537.9M274.5 526.8V538.4M275.0 522.6V538.0M275.5 524.6V540.1M276.0 517.0V544.0M276.5 522.5V537.7M277.0 521.7V536.1M277.5 523.6V538.2M278.0 527.4V535.6M278.5 525.0V539.2M279.0 525.5V537.3M279.5 524.4V538.4M280.0 526.0V541.1M280.5 527.3V536.4M281.0 527.6V538.5M281.5 528.6V536.8M282.0 526.3V537.9M282.5 528.2V537.1M283.0 527.4V538.3M283.5 523.0V536.5M284.0 527.6V539.6M284.5 525.4V536.6M285.0 527.8V539.7M285.5 528.3V535.5M286.0 525.7V535.8M286.5 529.0V536.7M287.0 525.0V536.5M287.5 527.2V537.6M288.0 524.3V536.9M288.5 528.2V538.8M289.0 524.1V536.0M289.5 526.7V537.5M290.0 524.2V539.7M290.5 527.2V538.4M291.0 527.8V536.1M291.5 527.9V535.7M292.0 527.5V535.8M292.5 527.3V538.2M293.0 527.0V537.9M293.5 525.3V538.6M294.0 526.5V536.9M294.5 523.1V540.1M295.0 526.4V538.4M295.5 527.9V536.9M296.0 522.1V542.6M296.5 525.2V537.9M297.0 520.6V541.0M297.5 527.2V536.1M298.0 526.1V542.4M298.5 520.7V539.7M299.0 525.3V540.8M299.5 525.6V540.3M300.0 524.8V537.0M300.5 519.8V541.8M301.0 526.4V538.8M301.5 525.9V538.1M302.0 527.3V540.0M302.5 524.0V540.0M303.0 528.2V537.5M303.5 526.6V541.8M304.0 522.5V535.8M304.5 528.1V539.4M305.0 527.8V539.2M305.5 528.4V536.1M306.0 524.9V538.2M306.5 525.3V536.8M307.0 527.2V536.6M307.5 525.5V537.1M308.0 528.5V537.0M308.5 524.5V541.4M309.0 525.8V540.1M309.5 526.0V537.3M310.0 527.7V535.2M310.5 528.5V536.3M311.0 525.9V537.1M311.5 526.2V536.4M312.0 527.5V537.9M312.5 528.5V535.6M313.0 528.6V535.4M313.5 527.5V536.3M314.0 525.2V536.7M314.5 528.0V535.7M315.0 528.9V537.9M315.5 527.7V536.2M316.0 526.1V538.9M316.5 527.1V534.8M317.0 527.2V536.7M317.5 528.2V538.8M318.0 528.0V535.9M318.5 528.5V535.4M319.0 524.5V535.9M319.5 527.8V538.6M320.0 526.4V538.1M320.5 528.3V540.5M321.0 528.5V537.0M321.5 525.6V535.8M322.0 527.7V537.7M322.5 528.1V537.4M323.0 527.1V535.0M323.5 526.6V535.8M324.0 527.8V537.6M324.5 528.3V535.1M325.0 527.4V537.8M325.5 526.2V538.3M326.0 523.2V539.5M326.5 527.3V537.1M327.0 526.0V536.6M327.5 527.1V536.5M328.0 527.6V539.2M328.5 528.1V535.1M329.0 528.3V535.4M329.5 528.6V535.5M330.0 529.0V537.3M330.5 528.5V536.8M331.0 528.8V537.4M331.5 526.6V535.9M332.0 526.6V536.6M332.5 528.4V535.4M333.0 525.7V535.6M333.5 527.5V536.7M334.0 527.2V536.9M334.5 526.9V538.1M335.0 527.5V537.5M335.5 524.7V536.7M336.0 527.6V538.5M336.5 528.5V538.5M337.0 527.6V536.4M337.5 527.7V537.7M338.0 528.1V538.6M338.5 527.6V538.7M339.0 525.5V536.5M339.5 527.3V538.6M340.0 526.8V535.8M340.5 528.2V536.5M341.0 527.4V537.0M341.5 527.7V536.2M342.0 528.2V538.2M342.5 528.0V539.1M343.0 527.9V538.0M343.5 524.8V536.8M344.0 523.6V537.7M344.5 526.8V538.5M345.0 524.9V537.3M345.5 525.1V536.0M346.0 527.1V537.0M346.5 526.1V536.6M347.0 525.9V538.6M347.5 526.2V539.0M348.0 526.3V538.4M348.5 527.9V538.5M349.0 528.1V540.2M349.5 523.1V540.1M350.0 525.1V537.0M350.5 527.4V539.1M351.0 526.0V536.3M351.5 526.8V538.4M352.0 527.6V535.7M352.5 527.5V535.7M353.0 528.5V535.2M353.5 527.3V536.2M354.0 527.3V535.8M354.5 528.4V536.5M355.0 528.6V539.7M355.5 525.1V536.3M356.0 526.2V537.1M356.5 526.5V537.6M357.0 526.6V538.9M357.5 525.1V536.9M358.0 527.9V538.0M358.5 528.4V536.1M359.0 528.3V536.5M359.5 526.9V536.8M360.0 527.2V538.6M360.5 526.4V537.0M361.0 526.7V536.2M361.5 525.9V537.1M362.0 527.8V538.8M362.5 527.8V536.2M363.0 527.9V537.6M363.5 525.6V539.4M364.0 525.3V536.4M364.5 525.9V535.8M365.0 524.5V539.5M365.5 525.8V536.1M366.0 526.8V535.5M366.5 526.7V535.3M367.0 528.5V539.5M367.5 527.2V535.6M368.0 527.0V536.6M368.5 529.1V538.2M369.0 527.3V537.7M369.5 525.8V537.1M370.0 524.2V536.1M370.5 526.9V535.5M371.0 523.9V536.9M371.5 527.0V535.5M372.0 527.0V538.3M372.5 525.4V537.0M373.0 527.6V536.4M373.5 525.1V535.4M374.0 528.4V536.1M374.5 524.9V536.7M375.0 527.3V537.6M375.5 528.6V537.6M376.0 528.4V538.5M376.5 526.5V536.3M377.0 525.8V537.0M377.5 527.9V536.0M378.0 528.1V536.5M378.5 525.0V536.3M379.0 527.9V537.2M379.5 527.3V535.3M380.0 528.5V538.0M380.5 527.5V537.2M381.0 528.3V535.6M381.5 526.0V536.4M382.0 528.0V536.4M382.5 528.3V536.4M383.0 524.9V537.0M383.5 528.0V535.9M384.0 528.9V537.2M384.5 527.5V536.5M385.0 529.3V535.2M385.5 527.7V538.3M386.0 528.2V536.2M386.5 527.3V538.4M387.0 527.9V536.0M387.5 528.8V535.8M388.0 527.3V536.8M388.5 529.4V536.9M389.0 527.6V536.4M389.5 528.4V535.9M390.0 528.7V535.6M390.5 528.6V535.4M391.0 525.4V535.9M391.5 527.3V536.1M392.0 528.6V535.7M392.5 527.7V535.8M393.0 528.6V536.6M393.5 528.4V535.4M394.0 527.8V538.0M394.5 526.9V536.7M395.0 528.6V536.9M395.5 528.5V539.0M396.0 528.6V537.4M396.5 526.8V536.4M397.0 528.4V535.3M397.5 525.7V538.4M398.0 525.4V538.4M398.5 526.9V537.8M399.0 525.4V535.3M399.5 523.1V536.4M400.0 526.4V535.9M400.5 524.7V535.6M401.0 527.9V536.4M401.5 527.6V541.4M402.0 526.3V536.9M402.5 528.2V536.7M403.0 526.6V536.7M403.5 526.9V538.1M404.0 528.7V538.1M404.5 528.1V538.0M405.0 527.4V538.3M405.5 523.8V536.1M406.0 527.5V537.6M406.5 526.9V535.6M407.0 522.3V539.1M407.5 524.2V541.4M408.0 527.0V541.1M408.5 528.3V538.9M409.0 526.2V536.1M409.5 528.2V542.0M410.0 527.8V538.0M410.5 525.8V542.8M411.0 520.0V540.0M411.5 524.9V537.1M412.0 528.5V536.6M412.5 525.7V536.4M413.0 526.8V541.4M413.5 520.2V539.6M414.0 523.8V538.7M414.5 525.0V536.6M415.0 524.3V535.8M415.5 523.3V535.8M416.0 521.4V540.5M416.5 524.8V540.0M417.0 526.1V539.2M417.5 527.4V537.3M418.0 527.3V538.3M418.5 524.1V536.6M419.0 521.9V537.8M419.5 526.5V537.9M420.0 528.1V536.5M420.5 523.6V540.2M421.0 522.2V539.1M421.5 524.8V536.5M422.0 527.1V537.0M422.5 526.8V543.9M423.0 523.5V538.4M423.5 526.5V538.6M424.0 527.5V540.6M424.5 526.0V543.3M425.0 526.3V536.8M425.5 524.0V538.2M426.0 526.1V539.3M426.5 525.6V540.5M427.0 519.4V538.9M427.5 525.3V540.4M428.0 516.4V544.8M428.5 521.0V537.6M429.0 525.7V539.7M429.5 527.5V540.7M430.0 524.1V540.8M430.5 523.9V537.1M431.0 522.8V539.1M431.5 519.7V536.1M432.0 527.0V538.4M432.5 526.0V538.0M433.0 527.4V540.6M433.5 524.3V536.6M434.0 524.2V538.4M434.5 519.5V537.7M435.0 522.8V537.0M435.5 522.1V542.6M436.0 525.5V540.1M436.5 520.3V539.3M437.0 524.6V545.5M437.5 514.0V549.0M438.0 516.8V545.5M438.5 517.6V544.4M439.0 527.3V538.0M439.5 522.3V540.4M440.0 521.3V536.9M440.5 525.8V536.3M441.0 525.2V539.7M441.5 524.2V539.8M442.0 525.9V540.1M442.5 526.9V540.3M443.0 527.6V540.5M443.5 524.2V537.6M444.0 528.0V540.7M444.5 525.9V540.6M445.0 520.5V538.5M445.5 528.0V537.7M446.0 527.7V538.0M446.5 526.8V539.5M447.0 526.4V541.0M447.5 521.8V541.8M448.0 524.8V537.7M448.5 527.0V540.5M449.0 524.7V536.1M449.5 523.6V537.6M450.0 523.9V536.7M450.5 525.4V536.6M451.0 527.5V539.9M451.5 528.1V539.8M452.0 525.7V536.6M452.5 525.7V539.0M453.0 526.7V537.1M453.5 526.0V535.6M454.0 525.9V537.4M454.5 528.0V537.3M455.0 521.5V537.7M455.5 524.4V536.2M456.0 528.2V537.0M456.5 526.0V537.7M457.0 526.6V539.1M457.5 527.1V536.3M458.0 528.2V537.3M458.5 525.2V539.0M459.0 524.9V539.0M459.5 526.8V536.3M460.0 526.3V538.8M460.5 523.0V536.1M461.0 528.0V537.3M461.5 525.2V538.8M462.0 526.2V542.5M462.5 526.2V537.0M463.0 518.9V537.0M463.5 521.2V540.7M464.0 525.2V542.7M464.5 524.6V539.8M465.0 526.5V540.9M465.5 522.7V537.7M466.0 515.7V540.1M466.5 514.7V545.8M467.0 511.0V549.0M467.5 514.8V544.3M468.0 519.6V547.9M468.5 525.5V538.3M469.0 525.4V542.1M469.5 521.3V538.2M470.0 521.1V545.2M470.5 524.7V543.3M471.0 518.0V550.0M471.5 523.6V543.6M472.0 523.6V543.4M472.5 526.0V544.5M473.0 526.7V544.2M473.5 521.0V538.8M474.0 514.5V542.2M474.5 517.7V540.8M475.0 511.0V548.0M475.5 521.5V544.9M476.0 519.1V539.7M476.5 525.9V543.1M477.0 523.5V538.2M477.5 524.8V539.5M478.0 523.6V537.0M478.5 521.4V538.9M479.0 527.9V540.0M479.5 528.0V539.0M480.0 524.9V537.4M480.5 527.5V537.3M481.0 523.1V537.9M481.5 524.8V537.7M482.0 526.9V537.0M482.5 525.0V539.4M483.0 524.7V536.9M483.5 522.6V536.2M484.0 522.0V535.9M484.5 527.0V535.8M485.0 521.3V535.0M485.5 525.0V537.5M486.0 528.2V542.5M486.5 526.2V536.2M487.0 528.8V538.4M487.5 526.8V536.2M488.0 526.6V537.0M488.5 528.5V538.2M489.0 527.6V535.7M489.5 528.0V537.7M490.0 527.2V541.9M490.5 521.2V538.8M491.0 528.3V536.5M491.5 524.3V537.7M492.0 526.1V536.9M492.5 526.8V537.0M493.0 523.6V535.0M493.5 527.6V535.8M494.0 527.3V535.2M494.5 527.5V536.0M495.0 524.8V537.2M495.5 528.2V537.1M496.0 526.3V535.4M496.5 528.1V538.3M497.0 526.0V537.4M497.5 523.7V541.3M498.0 527.0V537.5M498.5 523.7V538.8M499.0 525.9V539.1M499.5 528.4V538.6M500.0 527.3V536.6M500.5 524.4V538.2M501.0 527.9V540.3M501.5 527.8V540.3M502.0 523.4V537.2M502.5 527.3V537.0M503.0 525.7V537.2M503.5 525.1V539.9M504.0 528.4V536.1M504.5 526.9V538.6M505.0 525.1V539.6M505.5 527.5V539.2M506.0 524.1V537.8M506.5 527.9V538.7M507.0 528.0V541.4M507.5 527.0V539.9M508.0 526.2V540.9M508.5 527.1V538.6M509.0 525.6V536.8M509.5 526.9V540.1M510.0 527.5V535.6M510.5 528.2V536.3M511.0 525.9V535.9M511.5 524.7V536.3M512.0 523.7V537.6M512.5 525.5V537.7M513.0 528.0V535.8M513.5 526.6V539.0M514.0 527.7V541.2M514.5 526.7V536.9M515.0 526.0V536.7M515.5 526.4V535.8M516.0 523.7V536.9M516.5 521.7V536.7M517.0 525.9V543.2M517.5 523.4V535.7M518.0 525.2V538.9M518.5 528.7V535.9M519.0 527.2V536.0M519.5 526.3V542.4M520.0 523.8V539.5M520.5 526.1V540.3M521.0 527.8V539.4M521.5 526.5V537.9M522.0 526.3V540.7M522.5 527.3V535.5M523.0 527.9V541.5M523.5 527.6V537.8M524.0 526.4V536.2M524.5 525.3V541.9M525.0 525.7V539.8M525.5 527.9V536.6M526.0 527.7V539.4M526.5 523.2V538.9M527.0 528.3V537.0M527.5 527.9V535.4M528.0 527.0V537.2M528.5 527.1V538.2M529.0 527.1V537.2M529.5 528.2V536.5M530.0 528.3V539.0M530.5 526.1V537.3M531.0 523.0V536.4M531.5 523.9V537.6M532.0 524.6V535.7M532.5 524.7V536.9M533.0 526.6V536.7M533.5 525.3V535.6M534.0 526.0V535.9M534.5 524.0V538.1M535.0 524.9V536.8M535.5 526.9V538.6M536.0 528.2V537.9M536.5 524.5V538.6M537.0 526.5V537.2M537.5 527.4V539.9M538.0 522.9V537.1M538.5 525.4V538.0M539.0 525.8V537.4M539.5 527.9V536.4M540.0 526.4V536.0M540.5 527.2V537.4M541.0 526.1V535.9M541.5 527.7V537.8M542.0 525.3V536.7M542.5 528.0V539.6M543.0 525.8V536.3M543.5 525.1V536.6M544.0 523.7V539.8M544.5 528.3V538.3M545.0 526.4V538.2M545.5 525.5V538.0M546.0 527.3V542.2M546.5 523.1V537.0M547.0 524.6V536.9M547.5 525.2V542.0M548.0 526.3V536.4M548.5 527.6V538.3M549.0 525.7V536.4M549.5 521.9V535.9M550.0 525.8V539.1M550.5 524.0V537.7M551.0 526.2V538.7M551.5 526.7V544.7M552.0 521.0V549.0M552.5 526.8V536.8M553.0 523.3V541.8M553.5 523.7V536.9M554.0 525.7V538.7M554.5 526.2V538.5M555.0 524.6V535.3M555.5 527.4V540.8M556.0 527.8V536.5M556.5 528.6V539.1M557.0 527.5V535.9M557.5 525.4V535.1M558.0 526.5V537.6M558.5 526.9V536.3M559.0 528.1V536.3M559.5 527.6V536.0M560.0 524.6V535.8M560.5 528.0V536.1M561.0 528.0V536.2M561.5 524.5V536.8M562.0 527.3V540.0M562.5 526.5V536.6M563.0 525.2V540.1M563.5 527.8V535.2M564.0 523.6V539.4M564.5 528.7V537.5M565.0 526.8V536.9M565.5 526.9V540.6M566.0 523.3V535.5M566.5 527.5V538.6M567.0 526.8V539.7M567.5 527.7V538.1M568.0 523.4V540.6M568.5 524.3V537.2M569.0 528.7V539.7M569.5 527.2V535.6M570.0 527.8V536.7M570.5 526.7V536.5M571.0 527.8V537.3M571.5 527.9V537.5M572.0 527.0V536.7M572.5 527.9V537.2M573.0 527.0V536.9M573.5 528.0V538.3M574.0 527.6V540.4M574.5 527.3V537.6M575.0 524.4V540.1M575.5 523.8V535.9M576.0 526.6V538.7M576.5 526.2V537.4M577.0 525.7V538.8M577.5 525.8V536.6M578.0 526.3V536.9M578.5 525.5V541.1M579.0 524.6V540.1M579.5 526.7V535.9M580.0 523.7V538.0M580.5 527.8V536.3M581.0 522.1V537.5M581.5 528.1V537.0M582.0 525.0V537.6M582.5 523.8V537.8M583.0 521.0V539.0M583.5 526.2V538.9M584.0 528.0V536.7M584.5 528.1V536.0M585.0 526.9V535.7M585.5 526.0V539.8M586.0 525.1V542.1M586.5 527.8V537.8M587.0 527.1V537.9M587.5 519.8V535.7M588.0 528.5V537.2M588.5 524.7V537.1M589.0 525.6V536.8M589.5 524.3V539.8M590.0 527.7V537.1M590.5 525.4V537.5M591.0 525.2V536.9M591.5 526.4V535.4M592.0 526.9V538.7M592.5 528.1V544.4M593.0 525.3V536.2M593.5 523.6V537.9M594.0 526.1V535.8M594.5 527.3V535.1M595.0 527.0V535.7M595.5 528.1V536.4M596.0 525.9V537.5M596.5 528.7V536.1M597.0 525.3V538.2M597.5 527.1V540.6M598.0 527.2V536.0M598.5 523.0V536.8M599.0 528.0V535.8M599.5 526.2V536.0M600.0 525.9V537.8M600.5 523.9V538.2M601.0 524.7V543.9M601.5 523.9V543.8M602.0 523.1V537.4M602.5 521.4V542.2M603.0 523.7V538.6M603.5 516.8V543.7M604.0 520.5V542.8M604.5 514.0V550.0M605.0 518.7V545.1M605.5 525.3V541.9M606.0 524.9V540.4M606.5 525.4V540.6M607.0 521.5V542.7M607.5 514.4V539.5M608.0 520.0V546.0M608.5 519.8V542.1M609.0 519.8V541.7M609.5 526.3V535.9M610.0 525.2V538.3M610.5 520.9V536.8M611.0 525.5V537.0M611.5 526.6V536.3M612.0 525.3V537.1M612.5 526.0V535.3M613.0 527.1V537.3M613.5 527.3V536.1M614.0 526.7V536.3M614.5 526.3V537.6M615.0 528.7V535.7M615.5 522.6V536.3M616.0 527.9V539.0M616.5 526.3V537.3M617.0 527.4V537.1M617.5 524.4V538.4"/>
<path d="M132.0 573.1V578.4M132.5 572.9V579.5M133.0 572.1V578.7M133.5 574.7V578.6M134.0 573.9V577.9M134.5 574.0V579.6M135.0 574.5V578.7M135.5 573.1V577.8M136.0 572.2V579.1M136.5 574.5V578.2M137.0 573.1V578.3M137.5 571.7V580.2M138.0 574.7V579.6M138.5 573.3V578.1M139.0 573.3V578.2M139.5 574.0V578.5M140.0 574.1V577.8M140.5 571.9V579.0M141.0 574.5V578.1M141.5 574.1V578.0M142.0 573.3V578.5M142.5 573.7V578.0M143.0 573.7V578.3M143.5 574.5V578.1M144.0 573.8V578.4M144.5 574.5V577.6M145.0 573.8V577.9M145.5 574.7V578.2M146.0 574.7V578.0M146.5 575.2V578.2M147.0 573.9V581.2M147.5 572.3V581.2M148.0 571.4V585.4M148.5 572.5V583.6M149.0 574.3V581.5M149.5 574.2V578.0M150.0 573.4V578.2M150.5 573.7V577.7M151.0 574.6V578.4M151.5 574.5V578.0M152.0 574.5V577.9M152.5 574.1V578.6M153.0 574.2V577.8M153.5 574.4V577.5M154.0 574.2V578.1M154.5 575.1V577.9M155.0 573.9V577.9M155.5 575.1V577.9M156.0 574.8V580.4M156.5 574.9V577.9M157.0 574.0V577.5M157.5 573.6V577.6M158.0 573.1V578.4M158.5 574.2V577.5M159.0 575.1V579.4M159.5 574.9V579.6M160.0 575.2V578.1M160.5 574.8V578.9M161.0 575.0V577.5M161.5 575.2V577.9M162.0 574.7V577.7M162.5 574.5V579.4M163.0 575.3V577.8M163.5 575.2V578.2M164.0 574.5V577.8M164.5 575.0V578.2M165.0 575.2V577.8M165.5 573.0V578.1M166.0 575.0V578.2M166.5 573.3V578.0M167.0 575.0V577.6M167.5 574.9V578.3M168.0 573.6V578.1M168.5 575.1V578.0M169.0 573.0V578.9M169.5 574.3V578.6M170.0 573.9V578.4M170.5 574.6V580.6M171.0 574.8V579.1M171.5 572.7V579.2M172.0 573.8V577.8M172.5 572.2V578.8M173.0 571.2V579.3M173.5 573.8V578.1M174.0 574.3V578.8M174.5 573.2V581.4M175.0 572.7V578.4M175.5 574.5V581.7M176.0 572.6V578.3M176.5 570.5V580.5M177.0 570.9V579.4M177.5 574.2V579.0M178.0 574.1V579.4M178.5 573.1V578.5M179.0 573.2V580.1M179.5 574.1V578.3M180.0 574.3V578.1M180.5 572.1V578.2M181.0 573.1V580.3M181.5 571.1V578.7M182.0 571.9V579.0M182.5 574.3V578.5M183.0 573.7V578.2M183.5 573.7V578.3M184.0 573.4V579.5M184.5 574.0V583.5M185.0 574.7V583.9M185.5 574.0V581.3M186.0 572.8V580.1M186.5 573.5V579.9M187.0 574.2V578.3M187.5 574.2V579.4M188.0 574.4V579.2M188.5 573.9V580.0M189.0 574.4V579.4M189.5 573.7V579.5M190.0 574.7V579.6M190.5 573.8V578.3M191.0 574.9V578.7M191.5 574.7V579.0M192.0 574.4V578.7M192.5 574.7V577.7M193.0 575.2V578.3M193.5 573.9V577.8M194.0 574.5V578.5M194.5 575.1V577.8M195.0 572.3V578.7M195.5 574.1V577.8M196.0 574.5V578.0M196.5 574.6V579.3M197.0 574.8V577.4M197.5 574.8V578.5M198.0 574.8V578.4M198.5 574.8V578.1M199.0 574.6V578.4M199.5 575.3V578.5M200.0 574.3V577.9M200.5 574.3V578.7M201.0 574.4V578.2M201.5 574.5V579.1M202.0 574.8V579.0M202.5 575.2V577.5M203.0 575.0V578.8M203.5 575.0V577.4M204.0 574.2V578.5M204.5 575.4V577.9M205.0 574.1V577.6M205.5 573.7V578.2M206.0 574.7V577.3M206.5 575.3V578.1M207.0 575.0V578.1M207.5 574.1V578.0M208.0 574.5V579.3M208.5 575.3V577.8M209.0 575.3V579.1M209.5 574.7V577.6M210.0 575.2V577.7M210.5 575.0V577.7M211.0 575.3V578.7M211.5 574.8V577.9M212.0 574.5V578.0M212.5 574.1V577.6M213.0 575.0V578.5M213.5 572.7V578.5M214.0 575.2V577.5M214.5 573.1V578.2M215.0 574.9V578.9M215.5 575.0V578.3M216.0 574.6V578.1M216.5 575.1V577.5M217.0 574.1V577.8M217.5 574.6V577.9M218.0 573.7V578.1M218.5 574.8V577.8M219.0 574.1V579.5M219.5 574.4V577.9M220.0 573.9V578.5M220.5 574.5V578.6M221.0 575.2V577.9M221.5 574.8V578.8M222.0 574.8V577.8M222.5 574.2V578.4M223.0 573.8V578.2M223.5 574.6V579.7M224.0 574.8V578.8M224.5 574.3V578.3M225.0 573.3V579.7M225.5 573.7V578.0M226.0 572.9V578.8M226.5 573.9V579.8M227.0 574.0V579.1M227.5 574.6V579.0M228.0 573.1V579.7M228.5 574.2V578.7M229.0 573.2V579.2M229.5 574.2V579.1M230.0 572.8V578.7M230.5 573.3V580.6M231.0 573.5V578.4M231.5 574.7V578.3M232.0 574.3V579.7M232.5 572.4V578.5M233.0 572.6V579.4M233.5 574.7V578.5M234.0 573.9V580.6M234.5 573.8V579.0M235.0 574.6V578.6M235.5 574.4V578.4M236.0 573.9V578.2M236.5 574.6V579.1M237.0 572.3V577.9M237.5 574.0V577.9M238.0 574.6V578.5M238.5 572.5V579.6M239.0 574.4V580.5M239.5 573.0V578.1M240.0 574.7V579.4M240.5 574.8V577.9M241.0 574.4V580.3M241.5 574.5V578.4M242.0 575.2V579.1M242.5 574.7V578.3M243.0 572.9V579.6M243.5 573.7V580.3M244.0 574.7V578.6M244.5 573.1V578.5M245.0 574.3V579.4M245.5 574.2V578.7M246.0 574.3V578.5M246.5 573.1V578.8M247.0 573.6V578.0M247.5 575.0V578.7M248.0 574.0V580.4M248.5 574.3V579.1M249.0 574.2V579.2M249.5 571.2V579.6M250.0 573.8V578.5M250.5 574.0V578.6M251.0 573.6V581.7M251.5 574.5V578.6M252.0 569.8V579.2M252.5 571.3V578.8M253.0 570.7V579.3M253.5 571.0V581.1M254.0 569.4V584.4M254.5 573.4V579.8M255.0 571.4V581.1M255.5 571.9V582.3M256.0 571.9V582.2M256.5 570.4V580.5M257.0 570.5V584.7M257.5 567.4V587.4M258.0 568.9V583.5M258.5 570.5V581.8M259.0 572.4V580.2M259.5 572.9V581.6M260.0 571.7V579.2M260.5 572.3V581.0M261.0 573.0V578.8M261.5 573.5V580.9M262.0 573.6V580.3M262.5 573.6V579.7M263.0 573.7V579.7M263.5 573.2V578.3M264.0 573.1V579.1M264.5 574.3V579.7M265.0 571.9V580.4M265.5 574.0V580.8M266.0 573.6V579.1M266.5 574.8V578.8M267.0 573.8V578.5M267.5 573.9V578.2M268.0 572.6V579.2M268.5 574.6V579.4M269.0 574.4V578.5M269.5 573.8V578.0M270.0 572.0V578.0M270.5 573.0V578.2M271.0 573.3V579.2M271.5 574.3V579.0M272.0 573.6V578.2M272.5 574.8V580.2M273.0 574.3V579.5M273.5 574.5V578.6M274.0 574.4V581.3M274.5 573.9V579.1M275.0 573.7V579.0M275.5 574.4V580.8M276.0 570.8V577.7M276.5 572.6V579.0M277.0 574.8V579.4M277.5 573.3V580.0M278.0 572.7V579.2M278.5 574.4V578.8M279.0 571.6V578.0M279.5 572.7V578.7M280.0 572.0V580.2M280.5 572.0V578.4M281.0 572.4V578.5M281.5 574.5V580.9M282.0 572.7V578.3M282.5 575.0V578.8M283.0 574.3V578.8M283.5 574.2V578.6M284.0 573.1V579.4M284.5 574.9V579.7M285.0 574.9V579.4M285.5 573.6V578.8M286.0 572.1V579.4M286.5 573.2V579.4M287.0 575.0V578.5M287.5 574.1V579.5M288.0 574.2V579.9M288.5 574.7V578.0M289.0 573.7V579.6M289.5 572.7V578.7M290.0 573.9V579.2M290.5 574.8V577.9M291.0 574.3V580.4M291.5 574.5V577.8M292.0 574.1V578.4M292.5 574.2V578.2M293.0 573.7V578.5M293.5 574.1V579.2M294.0 574.3V578.1M294.5 574.2V580.2M295.0 574.0V577.8M295.5 572.8V578.1M296.0 574.0V579.2M296.5 573.0V580.3M297.0 573.1V577.8M297.5 574.6V581.1M298.0 574.1V582.4M298.5 574.7V579.2M299.0 574.2V580.7M299.5 573.0V579.4M300.0 574.2V578.4M300.5 574.2V579.4M301.0 572.1V579.7M301.5 574.0V578.7M302.0 573.8V578.0M302.5 573.2V579.4M303.0 574.1V578.8M303.5 573.3V579.7M304.0 575.0V578.4M304.5 574.6V578.5M305.0 574.6V578.3M305.5 572.7V578.2M306.0 574.9V579.3M306.5 574.1V578.4M307.0 574.5V578.3M307.5 574.8V578.5M308.0 575.3V578.3M308.5 573.3V578.1M309.0 574.3V578.4M309.5 574.9V578.0M310.0 572.7V578.1M310.5 574.5V577.5M311.0 574.5V577.7M311.5 573.9V577.8M312.0 573.6V578.3M312.5 574.9V578.7M313.0 573.9V579.5M313.5 574.9V578.1M314.0 574.7V578.3M314.5 575.4V577.9M315.0 574.5V577.6M315.5 574.0V577.7M316.0 574.6V578.3M316.5 574.1V578.6M317.0 574.5V578.2M317.5 574.7V578.8M318.0 572.7V578.1M318.5 572.5V578.8M319.0 574.0V579.0M319.5 574.3V578.7M320.0 573.8V579.4M320.5 571.3V583.6M321.0 572.8V580.7M321.5 572.7V579.9M322.0 570.4V583.4M322.5 574.2V579.0M323.0 572.8V581.0M323.5 574.8V580.0M324.0 572.6V580.5M324.5 574.2V578.2M325.0 573.4V578.2M325.5 574.7V578.2M326.0 575.0V579.5M326.5 573.0V579.5M327.0 573.5V577.8M327.5 573.7V578.5M328.0 572.4V578.2M328.5 573.8V577.5M329.0 574.3V578.8M329.5 574.6V578.5M330.0 573.7V578.3M330.5 575.1V578.5M331.0 574.7V577.8M331.5 574.3V577.8M332.0 574.2V578.0M332.5 574.3V577.7M333.0 574.1V578.6M333.5 574.5V578.1M334.0 574.6V579.3M334.5 573.9V577.9M335.0 574.8V578.7M335.5 574.6V578.2M336.0 575.3V579.5M336.5 573.0V578.7M337.0 574.5V577.7M337.5 574.6V577.7M338.0 574.3V579.4M338.5 572.9V578.5M339.0 574.4V578.4M339.5 573.7V579.2M340.0 573.5V579.4M340.5 573.9V579.9M341.0 574.9V580.6M341.5 573.9V578.7M342.0 574.4V580.0M342.5 573.8V578.9M343.0 573.1V580.0M343.5 574.4V579.3M344.0 574.3V579.1M344.5 572.4V579.8M345.0 572.1V579.5M345.5 573.3V579.0M346.0 572.8V579.3M346.5 574.1V578.5M347.0 573.5V578.5M347.5 574.9V578.1M348.0 573.6V578.1M348.5 573.9V578.3M349.0 574.8V579.2M349.5 574.0V578.3M350.0 572.4V580.2M350.5 574.3V578.6M351.0 574.0V579.6M351.5 573.4V577.8M352.0 573.9V578.4M352.5 572.8V579.9M353.0 574.2V579.4M353.5 574.5V578.8M354.0 573.1V577.9M354.5 574.8V578.7M355.0 574.0V579.0M355.5 573.7V578.2M356.0 574.1V578.5M356.5 574.4V578.0M357.0 575.1V578.1M357.5 574.3V578.3M358.0 573.5V578.1M358.5 573.8V578.7M359.0 574.5V579.1M359.5 573.8V578.1M360.0 573.1V579.2M360.5 575.1V578.0M361.0 574.7V579.6M361.5 574.3V578.7M362.0 573.9V578.8M362.5 573.0V579.8M363.0 574.8V578.5M363.5 574.6V579.1M364.0 574.3V578.6M364.5 573.6V578.9M365.0 574.6V580.4M365.5 574.9V578.2M366.0 574.9V579.0M366.5 574.7V577.9M367.0 574.4V578.0M367.5 574.6V578.8M368.0 574.8V578.3M368.5 574.8V578.4M369.0 573.3V578.4M369.5 573.4V578.6M370.0 574.4V577.6M370.5 574.6V579.3M371.0 574.4V577.6M371.5 575.1V577.9M372.0 574.7V578.2M372.5 574.9V577.7M373.0 575.1V578.1M373.5 574.9V578.4M374.0 575.0V578.6M374.5 575.1V577.8M375.0 575.1V577.8M375.5 574.4V578.5M376.0 574.3V577.9M376.5 574.7V579.7M377.0 574.5V577.5M377.5 574.6V579.0M378.0 574.0V578.0M378.5 574.8V578.1M379.0 573.4V578.3M379.5 573.9V578.7M380.0 574.1V577.6M380.5 575.0V578.6M381.0 573.9V577.7M381.5 575.4V578.7M382.0 573.5V577.9M382.5 575.2V578.4M383.0 575.0V578.1M383.5 575.3V577.6M384.0 573.6V578.9M384.5 574.4V577.7M385.0 574.7V578.6M385.5 575.2V577.8M386.0 574.2V577.8M386.5 574.4V577.5M387.0 573.5V578.9M387.5 575.0V579.7M388.0 574.9V579.2M388.5 574.7V580.0M389.0 574.9V578.9M389.5 574.2V579.1M390.0 573.8V580.9M390.5 574.1V578.9M391.0 573.2V578.3M391.5 571.4V578.1M392.0 574.8V579.0M392.5 573.5V578.2M393.0 573.3V578.0M393.5 574.1V579.3M394.0 572.3V579.3M394.5 574.2V580.0M395.0 573.9V579.3M395.5 573.6V579.2M396.0 573.4V579.9M396.5 571.2V578.8M397.0 571.7V580.1M397.5 574.6V578.5M398.0 573.9V578.4M398.5 572.4V580.6M399.0 573.4V579.7M399.5 573.7V579.6M400.0 574.2V578.5M400.5 574.6V578.6M401.0 572.5V579.2M401.5 573.4V578.2M402.0 574.2V578.2M402.5 574.7V578.0M403.0 573.6V578.3M403.5 575.1V578.3M404.0 575.1V578.2M404.5 573.8V578.2M405.0 574.6V577.7M405.5 574.1V578.0M406.0 573.7V577.8M406.5 572.3V578.6M407.0 573.2V578.1M407.5 573.7V578.5M408.0 574.8V578.2M408.5 574.7V578.1M409.0 573.0V578.6M409.5 574.2V578.2M410.0 574.3V578.5M410.5 574.4V580.1M411.0 574.8V580.3M411.5 573.5V578.7M412.0 573.9V580.5M412.5 574.3V579.4M413.0 574.7V581.3M413.5 572.5V578.1M414.0 572.8V580.6M414.5 573.7V585.6M415.0 573.6V579.6M415.5 572.4V578.6M416.0 570.1V584.1M416.5 572.2V582.2M417.0 569.4V587.4M417.5 573.5V580.8M418.0 573.3V580.6M418.5 573.6V580.6M419.0 572.6V583.6M419.5 572.7V581.9M420.0 572.4V582.3M420.5 573.6V578.8M421.0 569.1V583.4M421.5 574.0V578.6M422.0 573.8V580.8M422.5 574.3V583.3M423.0 573.2V582.4M423.5 573.7V580.0M424.0 573.6V578.6M424.5 571.2V581.0M425.0 574.5V581.3M425.5 574.1V579.5M426.0 574.1V579.2M426.5 573.5V578.8M427.0 572.5V580.5M427.5 574.1V578.7M428.0 573.7V578.5M428.5 574.8V578.6M429.0 571.0V577.8M429.5 573.7V580.5M430.0 573.5V578.3M430.5 574.1V578.3M431.0 574.3V578.1M431.5 574.3V578.7M432.0 572.5V578.7M432.5 572.3V580.2M433.0 571.5V578.4M433.5 574.5V582.2M434.0 573.5V579.9M434.5 573.7V579.5M435.0 573.8V579.2M435.5 573.0V581.2M436.0 571.5V579.9M436.5 570.6V580.3M437.0 571.0V580.5M437.5 571.6V582.4M438.0 557.4V588.4M438.5 566.9V581.6M439.0 569.6V582.8M439.5 574.0V578.8M440.0 573.5V578.3M440.5 572.2V581.5M441.0 574.4V578.4M441.5 574.6V578.6M442.0 573.2V579.0M442.5 573.7V578.5M443.0 574.6V579.7M443.5 574.1V579.3M444.0 573.9V578.5M444.5 575.0V578.6M445.0 573.8V577.9M445.5 573.2V579.9M446.0 573.7V579.1M446.5 574.3V580.7M447.0 572.7V577.9M447.5 572.5V579.3M448.0 572.2V579.8M448.5 573.4V581.7M449.0 570.2V581.6M449.5 569.0V585.0M450.0 568.4V587.4M450.5 569.7V580.4M451.0 572.2V582.0M451.5 574.7V580.1M452.0 573.5V579.7M452.5 574.3V578.4M453.0 574.1V580.0M453.5 573.0V579.5M454.0 573.7V578.7M454.5 574.3V578.7M455.0 574.3V579.4M455.5 574.3V577.9M456.0 574.4V578.2M456.5 574.5V579.5M457.0 574.9V579.4M457.5 573.2V578.8M458.0 574.7V578.2M458.5 574.1V577.9M459.0 573.9V578.8M459.5 572.5V578.4M460.0 573.8V577.7M460.5 574.1V580.0M461.0 573.3V579.1M461.5 573.5V578.7M462.0 573.7V580.4M462.5 573.8V582.1M463.0 574.7V579.4M463.5 572.9V579.9M464.0 571.7V579.0M464.5 572.1V578.8M465.0 568.3V584.9M465.5 567.8V584.2M466.0 562.4V589.4M466.5 570.3V587.0M467.0 568.2V583.8M467.5 574.4V578.4M468.0 574.0V581.4M468.5 572.2V582.7M469.0 569.7V580.1M469.5 571.6V582.6M470.0 574.3V583.9M470.5 568.7V578.6M471.0 571.2V584.1M471.5 570.9V583.3M472.0 564.4V590.4M472.5 567.7V587.2M473.0 566.7V581.1M473.5 572.1V583.0M474.0 573.2V582.3M474.5 566.4V585.4M475.0 563.8V586.9M475.5 557.4V591.4M476.0 565.9V588.2M476.5 570.3V581.0M477.0 572.8V578.9M477.5 573.6V583.0M478.0 572.7V579.8M478.5 575.0V580.3M479.0 574.4V577.8M479.5 574.2V578.4M480.0 574.9V580.7M480.5 575.0V579.0M481.0 574.9V577.9M481.5 573.4V579.0M482.0 575.0V578.6M482.5 572.9V577.6M483.0 574.0V578.3M483.5 573.8V578.4M484.0 574.7V577.7M484.5 575.3V577.8M485.0 574.9V577.8M485.5 574.2V577.6M486.0 574.9V578.6M486.5 575.3V578.0M487.0 575.1V577.5M487.5 575.1V577.7M488.0 575.2V578.0M488.5 575.0V577.7M489.0 575.2V579.3M489.5 575.3V577.9M490.0 574.9V578.1M490.5 574.8V578.0M491.0 575.2V578.1M491.5 574.2V577.6M492.0 573.9V579.9M492.5 574.1V579.2M493.0 574.6V578.6M493.5 573.5V577.6M494.0 574.9V579.0M494.5 574.5V577.6M495.0 573.9V578.9M495.5 572.2V578.2M496.0 572.6V578.6M496.5 573.1V580.7M497.0 574.2V579.4M497.5 572.6V579.0M498.0 574.2V579.0M498.5 573.9V578.3M499.0 571.5V581.9M499.5 573.3V582.0M500.0 569.4V583.4M500.5 573.5V580.1M501.0 573.7V580.0M501.5 572.4V579.2M502.0 573.8V579.2M502.5 571.6V577.9M503.0 572.4V579.6M503.5 573.9V580.3M504.0 573.1V578.4M504.5 574.3V578.3M505.0 574.1V580.0M505.5 574.7V578.0M506.0 574.3V579.2M506.5 573.9V577.8M507.0 574.4V578.0M507.5 574.0V578.8M508.0 574.9V578.0M508.5 575.4V577.8M509.0 575.0V578.7M509.5 574.7V578.6M510.0 574.9V578.7M510.5 574.9V578.2M511.0 575.3V577.7M511.5 574.4V577.6M512.0 575.0V579.7M512.5 575.2V577.9M513.0 574.1V578.2M513.5 574.6V579.0M514.0 574.3V578.4M514.5 573.2V579.6M515.0 574.5V578.5M515.5 574.4V578.0M516.0 575.0V578.6M516.5 574.3V578.0M517.0 573.2V577.9M517.5 575.0V578.1M518.0 572.7V581.2M518.5 571.6V582.1M519.0 573.7V578.9M519.5 570.0V578.6M520.0 574.2V579.0M520.5 572.8V578.0M521.0 573.3V579.0M521.5 573.3V579.4M522.0 574.1V578.9M522.5 573.4V579.1M523.0 574.9V579.4M523.5 575.1V581.4M524.0 572.1V579.2M524.5 573.6V578.0M525.0 574.9V580.5M525.5 573.5V579.5M526.0 574.4V579.2M526.5 575.0V577.6M527.0 574.8V577.4M527.5 574.9V578.3M528.0 574.1V577.9M528.5 574.7V577.8M529.0 574.8V578.7M529.5 575.3V578.6M530.0 574.5V577.6M530.5 574.5V578.9M531.0 574.9V578.0M531.5 575.2V578.4M532.0 575.2V578.1M532.5 573.1V578.0M533.0 574.7V578.1M533.5 574.2V577.8M534.0 575.3V577.7M534.5 574.5V577.6M535.0 575.2V579.2M535.5 574.9V578.4M536.0 574.8V578.5M536.5 575.0V578.3M537.0 574.8V577.8M537.5 574.8V577.7M538.0 575.0V578.2M538.5 573.8V577.6M539.0 573.0V578.0M539.5 574.5V578.2M540.0 574.7V578.2M540.5 571.1V579.4M541.0 575.0V579.4M541.5 574.7V578.2M542.0 573.4V578.5M542.5 573.3V578.0M543.0 573.6V578.2M543.5 572.5V578.0M544.0 575.2V579.1M544.5 573.3V578.6M545.0 575.0V578.7M545.5 574.5V579.3M546.0 574.5V580.8M546.5 572.8V578.7M547.0 573.1V578.7M547.5 572.3V579.1M548.0 574.1V578.6M548.5 574.8V577.6M549.0 573.6V578.5M549.5 574.1V578.3M550.0 575.1V579.8M550.5 574.4V578.5M551.0 572.4V579.7M551.5 575.2V579.9M552.0 574.8V577.9M552.5 574.2V578.7M553.0 573.9V579.1M553.5 574.3V579.0M554.0 574.6V578.6M554.5 573.9V578.3M555.0 573.6V578.8M555.5 574.6V578.9M556.0 574.8V578.5M556.5 574.3V580.3M557.0 573.3V577.9M557.5 573.6V577.9M558.0 573.8V578.5M558.5 572.8V578.8M559.0 574.7V578.4M559.5 574.1V578.5M560.0 574.0V581.1M560.5 573.8V578.5M561.0 574.7V580.3M561.5 574.7V579.5M562.0 573.7V577.9M562.5 574.9V578.6M563.0 574.5V578.4M563.5 572.7V579.5M564.0 574.3V579.6M564.5 574.9V579.2M565.0 574.1V579.2M565.5 574.0V577.5M566.0 573.9V578.0M566.5 575.0V578.2M567.0 574.9V577.8M567.5 573.4V579.2M568.0 574.1V577.9M568.5 574.3V579.0M569.0 575.3V579.1M569.5 573.4V579.3M570.0 575.1V577.8M570.5 574.6V578.8M571.0 574.7V578.6M571.5 574.3V577.7M572.0 574.8V578.0M572.5 574.8V578.4M573.0 574.6V577.7M573.5 575.0V579.0M574.0 575.1V577.5M574.5 573.6V577.8M575.0 574.1V578.6M575.5 575.2V578.2M576.0 575.1V578.6M576.5 574.3V578.4M577.0 575.0V577.6M577.5 575.0V578.0M578.0 574.5V578.6M578.5 575.3V578.2M579.0 575.0V577.6M579.5 574.9V578.1M580.0 575.1V577.7M580.5 574.7V578.7M581.0 574.8V579.3M581.5 573.8V579.6M582.0 575.2V577.6M582.5 574.8V578.5M583.0 573.5V578.0M583.5 574.8V578.2M584.0 573.9V578.2M584.5 574.1V579.7M585.0 573.4V579.1M585.5 574.8V577.8M586.0 573.3V578.5M586.5 574.5V578.9M587.0 574.9V579.0M587.5 575.2V577.8M588.0 574.1V579.0M588.5 574.0V579.4M589.0 573.6V578.0M589.5 574.2V579.0M590.0 575.0V578.8M590.5 574.3V579.6M591.0 574.4V577.8M591.5 572.6V578.7M592.0 574.8V579.6M592.5 573.2V578.7M593.0 573.6V578.3M593.5 573.3V577.8M594.0 573.4V578.1M594.5 574.1V579.5M595.0 573.8V577.9M595.5 574.0V577.5M596.0 575.2V578.3M596.5 575.1V578.6M597.0 574.9V577.5M597.5 574.7V579.2M598.0 574.1V578.6M598.5 574.9V578.4M599.0 575.0V577.8M599.5 574.3V579.4M600.0 574.9V579.2M600.5 572.5V579.8M601.0 571.8V581.5M601.5 567.1V585.4M602.0 569.3V593.4M602.5 565.7V587.6M603.0 556.4V597.4M603.5 570.5V592.4M604.0 570.8V585.5M604.5 571.5V580.2M605.0 573.2V579.5M605.5 573.0V581.7M606.0 574.9V578.3M606.5 574.4V578.4M607.0 574.0V578.9M607.5 573.6V578.2M608.0 574.5V578.1M608.5 575.1V577.9M609.0 574.3V578.2M609.5 572.3V578.0M610.0 574.3V579.3M610.5 574.0V578.8M611.0 575.0V579.0M611.5 574.6V578.9M612.0 574.8V577.7M612.5 574.8V579.3M613.0 574.6V578.8M613.5 574.0V578.3M614.0 575.0V579.3M614.5 574.5V578.7M615.0 574.2V578.3M615.5 574.9V578.4M616.0 575.1V577.8M616.5 574.9V578.0M617.0 574.9V578.0M617.5 573.3V578.8"/>
<path d="M132.0 618.9V626.1M132.5 616.9V625.4M133.0 616.9V630.7M133.5 618.6V626.2M134.0 619.0V625.8M134.5 619.8V626.9M135.0 618.9V626.2M135.5 617.2V625.3M136.0 616.8V625.1M136.5 619.3V625.0M137.0 617.9V626.4M137.5 618.4V627.2M138.0 618.4V625.1M138.5 617.4V625.0M139.0 619.8V625.8M139.5 619.0V625.9M140.0 619.1V626.2M140.5 619.7V625.0M141.0 619.5V628.8M141.5 618.0V628.5M142.0 618.5V625.9M142.5 617.5V627.1M143.0 618.5V624.7M143.5 619.3V626.1M144.0 619.0V625.8M144.5 619.1V627.7M145.0 618.2V626.8M145.5 617.5V629.1M146.0 617.9V627.9M146.5 617.6V626.0M147.0 618.7V627.9M147.5 618.7V627.2M148.0 617.8V627.0M148.5 618.7V628.0M149.0 614.5V626.3M149.5 613.5V625.6M150.0 616.0V626.3M150.5 618.3V626.2M151.0 618.6V628.0M151.5 616.8V626.2M152.0 616.6V631.0M152.5 618.5V628.1M153.0 614.3V631.3M153.5 618.6V626.6M154.0 618.4V628.2M154.5 618.8V626.8M155.0 618.0V625.0M155.5 617.4V625.7M156.0 618.8V627.0M156.5 618.4V629.7M157.0 618.9V626.3M157.5 618.0V624.7M158.0 619.0V625.1M158.5 616.7V627.1M159.0 618.8V624.6M159.5 618.5V627.7M160.0 618.4V625.4M160.5 619.5V624.6M161.0 618.5V624.5M161.5 618.7V626.2M162.0 620.1V625.1M162.5 619.9V626.2M163.0 619.2V625.3M163.5 617.8V625.1M164.0 618.8V628.7M164.5 618.0V624.9M165.0 617.6V624.3M165.5 619.9V627.6M166.0 618.1V625.6M166.5 617.9V626.3M167.0 617.4V625.5M167.5 619.8V625.5M168.0 618.9V625.9M168.5 614.8V625.4M169.0 619.8V628.6M169.5 616.9V626.6M170.0 619.3V624.8M170.5 617.6V627.9M171.0 619.4V629.6M171.5 618.7V626.6M172.0 619.2V626.2M172.5 617.3V626.2M173.0 618.7V628.2M173.5 619.6V628.3M174.0 618.1V628.3M174.5 618.9V625.7M175.0 618.1V627.9M175.5 615.9V627.2M176.0 617.7V628.1M176.5 618.4V625.9M177.0 616.6V628.3M177.5 616.4V626.7M178.0 618.7V626.0M178.5 617.0V627.6M179.0 618.2V627.9M179.5 617.8V626.4M180.0 615.7V625.6M180.5 617.8V627.0M181.0 614.6V628.0M181.5 610.1V630.2M182.0 617.2V627.3M182.5 618.1V627.7M183.0 613.7V631.2M183.5 613.7V633.7M184.0 611.3V633.3M184.5 614.9V627.2M185.0 613.3V630.9M185.5 613.8V627.7M186.0 616.8V626.8M186.5 612.8V629.3M187.0 618.4V625.6M187.5 618.8V626.3M188.0 615.1V627.2M188.5 618.8V625.7M189.0 618.0V625.9M189.5 619.0V629.6M190.0 619.7V629.7M190.5 616.5V625.9M191.0 618.8V625.1M191.5 616.4V626.9M192.0 619.4V627.4M192.5 618.5V624.8M193.0 619.3V625.9M193.5 619.8V626.5M194.0 619.1V626.1M194.5 618.1V626.5M195.0 616.9V625.4M195.5 620.2V625.7M196.0 619.6V624.3M196.5 618.8V626.7M197.0 619.8V626.5M197.5 619.5V625.4M198.0 618.5V626.3M198.5 619.7V624.9M199.0 617.8V625.8M199.5 620.3V626.6M200.0 618.1V625.7M200.5 618.6V626.8M201.0 619.2V627.6M201.5 619.0V625.9M202.0 619.4V626.3M202.5 620.1V624.9M203.0 618.1V624.3M203.5 617.2V628.9M204.0 618.9V625.9M204.5 618.8V625.1M205.0 618.2V626.1M205.5 617.6V626.0M206.0 619.6V624.6M206.5 618.2V628.6M207.0 619.6V627.3M207.5 620.1V626.1M208.0 618.8V628.3M208.5 619.4V626.6M209.0 617.3V626.0M209.5 617.4V626.0M210.0 619.9V624.5M210.5 618.0V627.8M211.0 618.7V627.3M211.5 619.4V626.2M212.0 617.0V625.5M212.5 618.3V628.0M213.0 614.5V626.4M213.5 618.6V625.5M214.0 619.3V627.4M214.5 618.8V625.9M215.0 617.9V625.8M215.5 619.2V625.3M216.0 618.5V626.2M216.5 619.6V629.7M217.0 619.4V627.6M217.5 618.0V626.0M218.0 617.7V625.2M218.5 618.8V626.8M219.0 619.2V625.6M219.5 619.8V626.4M220.0 619.0V624.7M220.5 619.2V626.2M221.0 617.8V627.2M221.5 618.9V625.5M222.0 617.5V627.7M222.5 618.5V624.9M223.0 619.3V626.6M223.5 618.2V625.7M224.0 619.1V626.0M224.5 617.2V624.7M225.0 619.1V626.5M225.5 619.6V627.4M226.0 619.9V625.7M226.5 619.7V624.8M227.0 619.1V625.1M227.5 618.6V625.1M228.0 619.7V627.7M228.5 619.5V625.1M229.0 618.7V625.2M229.5 617.0V626.3M230.0 619.5V626.2M230.5 619.0V627.7M231.0 618.6V624.7M231.5 616.3V627.8M232.0 619.4V625.9M232.5 619.8V626.3M233.0 618.2V625.5M233.5 618.2V625.1M234.0 619.4V624.5M234.5 619.4V626.0M235.0 618.8V626.2M235.5 616.8V626.4M236.0 617.0V624.8M236.5 618.7V627.4M237.0 619.4V626.8M237.5 619.6V625.0M238.0 617.2V625.3M238.5 618.6V625.8M239.0 619.0V625.3M239.5 617.8V626.3M240.0 618.0V625.8M240.5 619.4V624.9M241.0 616.1V629.0M241.5 618.5V625.9M242.0 618.5V625.7M242.5 617.6V627.9M243.0 619.1V626.4M243.5 619.0V629.1M244.0 618.3V626.0M244.5 616.2V625.2M245.0 618.6V628.6M245.5 619.3V628.3M246.0 618.0V628.0M246.5 615.4V628.8M247.0 613.3V632.3M247.5 617.1V628.5M248.0 616.6V632.5M248.5 617.6V627.8M249.0 617.1V626.8M249.5 616.0V631.3M250.0 617.6V627.6M250.5 619.1V628.6M251.0 617.0V630.9M251.5 615.0V626.3M252.0 618.8V627.4M252.5 618.6V628.6M253.0 616.9V627.5M253.5 612.8V626.4M254.0 614.1V632.0M254.5 616.6V627.6M255.0 616.4V625.9M255.5 617.0V629.3M256.0 617.4V630.2M256.5 618.1V630.7M257.0 616.5V633.3M257.5 616.2V633.4M258.0 615.2V628.0M258.5 612.7V630.4M259.0 613.3V633.8M259.5 610.3V640.3M260.0 613.9V633.8M260.5 616.0V627.0M261.0 618.4V634.4M261.5 617.9V627.7M262.0 617.5V628.2M262.5 615.2V625.2M263.0 618.4V625.8M263.5 616.2V631.1M264.0 615.4V626.5M264.5 613.8V635.0M265.0 619.4V628.1M265.5 617.0V632.5M266.0 617.1V630.6M266.5 617.4V627.4M267.0 616.8V626.7M267.5 615.0V625.9M268.0 619.3V626.3M268.5 616.7V629.5M269.0 614.7V625.3M269.5 615.2V629.4M270.0 618.3V625.2M270.5 618.3V625.8M271.0 618.2V628.4M271.5 612.6V626.4M272.0 616.3V629.5M272.5 614.3V627.0M273.0 612.3V631.3M273.5 617.8V627.9M274.0 617.0V629.6M274.5 617.0V627.1M275.0 619.3V627.1M275.5 617.4V626.7M276.0 617.6V626.9M276.5 619.9V627.7M277.0 615.8V626.1M277.5 617.0V625.3M278.0 619.2V624.6M278.5 618.9V630.4M279.0 616.7V625.7M279.5 617.7V624.3M280.0 619.7V625.8M280.5 619.7V626.0M281.0 618.0V624.6M281.5 617.5V627.4M282.0 620.0V627.0M282.5 616.2V625.2M283.0 620.0V626.2M283.5 616.8V625.2M284.0 618.8V626.1M284.5 619.0V625.4M285.0 619.8V625.1M285.5 616.7V627.9M286.0 619.7V626.3M286.5 617.7V626.1M287.0 619.3V624.9M287.5 619.6V624.8M288.0 618.9V626.6M288.5 619.6V626.6M289.0 618.6V625.6M289.5 618.2V624.7M290.0 617.3V625.4M290.5 615.9V625.5M291.0 617.7V625.3M291.5 617.7V624.9M292.0 616.9V624.5M292.5 617.1V627.5M293.0 617.2V627.7M293.5 618.7V626.7M294.0 618.3V626.8M294.5 615.6V626.2M295.0 618.6V628.7M295.5 615.7V625.0M296.0 617.3V625.4M296.5 616.4V626.0M297.0 615.9V627.4M297.5 614.4V627.7M298.0 613.3V631.3M298.5 616.1V629.1M299.0 617.0V630.6M299.5 618.2V625.7M300.0 616.7V628.9M300.5 617.8V628.0M301.0 618.1V625.8M301.5 618.2V628.0M302.0 618.1V626.1M302.5 617.8V627.5M303.0 618.7V628.3M303.5 618.0V625.2M304.0 619.2V626.7M304.5 616.9V625.7M305.0 618.4V625.7M305.5 618.8V625.6M306.0 617.8V625.8M306.5 618.6V626.7M307.0 616.9V625.4M307.5 618.2V624.9M308.0 618.4V626.5M308.5 618.4V624.9M309.0 618.8V625.6M309.5 619.7V625.5M310.0 618.2V624.8M310.5 620.3V625.2M311.0 619.3V625.2M311.5 618.2V624.5M312.0 619.1V625.6M312.5 620.3V626.9M313.0 619.7V625.1M313.5 619.1V624.5M314.0 619.4V626.2M314.5 618.8V624.4M315.0 618.4V625.1M315.5 619.6V626.0M316.0 620.0V624.7M316.5 619.7V626.9M317.0 618.8V625.1M317.5 618.6V625.7M318.0 618.8V625.7M318.5 619.9V625.3M319.0 618.8V625.6M319.5 618.9V626.0M320.0 619.5V625.3M320.5 619.5V627.8M321.0 619.0V625.4M321.5 619.5V625.3M322.0 619.1V626.6M322.5 620.1V627.8M323.0 619.6V626.4M323.5 618.2V624.9M324.0 620.0V624.8M324.5 618.1V626.5M325.0 620.0V627.5M325.5 617.3V625.5M326.0 617.1V626.7M326.5 617.5V624.9M327.0 616.7V625.8M327.5 618.7V627.6M328.0 619.6V626.3M328.5 617.9V624.8M329.0 619.2V624.5M329.5 619.3V625.4M330.0 619.3V625.1M330.5 618.0V626.4M331.0 619.1V625.6M331.5 618.1V626.2M332.0 618.7V626.7M332.5 619.6V627.4M333.0 619.3V626.4M333.5 619.9V624.7M334.0 617.0V625.8M334.5 617.2V627.7M335.0 619.4V628.1M335.5 617.9V626.1M336.0 619.7V626.5M336.5 619.2V625.1M337.0 618.9V627.4M337.5 616.8V627.2M338.0 618.5V627.9M338.5 619.2V626.1M339.0 618.5V625.5M339.5 617.6V626.7M340.0 615.7V626.5M340.5 616.4V625.6M341.0 619.2V626.0M341.5 618.8V628.6M342.0 617.3V625.8M342.5 619.2V625.6M343.0 617.8V625.3M343.5 618.2V626.8M344.0 619.0V629.5M344.5 618.8V628.5M345.0 619.1V629.4M345.5 616.6V625.7M346.0 616.8V624.9M346.5 616.6V630.1M347.0 617.6V625.8M347.5 619.9V625.4M348.0 618.6V627.8M348.5 619.7V625.1M349.0 619.6V624.7M349.5 619.6V625.4M350.0 619.8V627.9M350.5 620.0V625.2M351.0 619.7V625.2M351.5 616.6V624.8M352.0 619.4V626.8M352.5 619.5V626.6M353.0 619.4V627.6M353.5 617.1V626.2M354.0 617.9V626.5M354.5 618.8V627.7M355.0 616.1V627.9M355.5 619.0V626.6M356.0 617.4V624.8M356.5 613.9V626.9M357.0 619.5V625.3M357.5 620.1V625.3M358.0 615.5V628.8M358.5 618.9V625.0M359.0 618.5V628.2M359.5 619.4V624.9M360.0 618.9V627.6M360.5 619.1V624.6M361.0 616.7V627.0M361.5 618.6V625.3M362.0 618.8V625.1M362.5 619.1V628.9M363.0 617.1V626.1M363.5 618.2V625.1M364.0 618.0V624.9M364.5 618.9V625.8M365.0 616.7V628.9M365.5 619.6V626.6M366.0 618.9V624.9M366.5 620.0V625.1M367.0 617.0V625.1M367.5 618.1V625.4M368.0 619.8V625.4M368.5 618.5V624.4M369.0 619.6V625.7M369.5 619.5V626.0M370.0 619.4V626.2M370.5 619.1V625.3M371.0 618.8V625.9M371.5 618.9V626.4M372.0 619.4V624.5M372.5 619.8V625.3M373.0 619.8V625.8M373.5 617.4V624.4M374.0 619.4V624.8M374.5 620.4V626.0M375.0 617.7V625.0M375.5 618.5V626.4M376.0 618.5V626.2M376.5 619.2V625.1M377.0 618.8V624.9M377.5 619.7V625.9M378.0 617.6V624.5M378.5 618.5V624.8M379.0 620.2V627.9M379.5 618.6V625.8M380.0 619.0V627.1M380.5 616.9V626.0M381.0 618.0V625.7M381.5 619.1V625.4M382.0 618.0V625.0M382.5 619.6V625.3M383.0 619.4V625.1M383.5 619.4V624.3M384.0 618.1V624.8M384.5 617.2V624.5M385.0 619.2V625.3M385.5 619.3V624.5M386.0 618.9V624.4M386.5 617.6V626.2M387.0 620.2V625.9M387.5 619.8V624.4M388.0 618.3V627.1M388.5 620.7V624.8M389.0 619.8V625.5M389.5 620.0V625.4M390.0 617.1V625.9M390.5 619.7V624.6M391.0 620.4V624.3M391.5 620.6V625.4M392.0 619.3V625.5M392.5 620.1V625.6M393.0 620.6V624.5M393.5 619.6V625.7M394.0 619.8V624.6M394.5 620.3V625.5M395.0 619.2V624.8M395.5 619.7V626.2M396.0 619.2V624.2M396.5 619.7V626.0M397.0 619.5V625.0M397.5 620.4V624.8M398.0 619.9V624.6M398.5 619.4V624.4M399.0 619.5V624.6M399.5 618.9V625.9M400.0 619.9V624.6M400.5 618.9V624.4M401.0 619.3V626.0M401.5 620.2V625.0M402.0 619.5V624.8M402.5 618.8V626.2M403.0 617.9V625.8M403.5 619.1V625.1M404.0 620.4V624.7M404.5 618.9V626.8M405.0 619.3V625.2M405.5 616.2V624.6M406.0 620.0V625.9M406.5 619.4V626.0M407.0 618.8V627.6M407.5 619.6V624.6M408.0 618.5V625.1M408.5 617.3V624.9M409.0 618.3V625.3M409.5 619.4V625.8M410.0 619.1V626.7M410.5 618.2V625.5M411.0 618.0V625.0M411.5 619.3V624.9M412.0 619.8V626.5M412.5 618.7V628.5M413.0 619.7V625.4M413.5 617.2V628.2M414.0 617.7V624.8M414.5 618.3V625.6M415.0 619.8V625.7M415.5 617.8V626.5M416.0 620.3V625.3M416.5 615.3V625.1M417.0 619.7V625.0M417.5 619.4V627.1M418.0 617.6V626.2M418.5 618.6V625.9M419.0 617.2V625.8M419.5 618.0V626.7M420.0 618.2V628.1M420.5 619.3V626.2M421.0 618.6V626.2M421.5 617.8V625.6M422.0 619.3V624.9M422.5 619.9V626.1M423.0 618.5V625.9M423.5 616.5V627.1M424.0 614.6V626.0M424.5 618.4V627.1M425.0 618.0V630.2M425.5 616.3V625.1M426.0 617.9V627.0M426.5 618.4V626.6M427.0 618.2V626.7M427.5 617.3V626.1M428.0 614.8V626.2M428.5 617.7V628.7M429.0 614.8V630.7M429.5 612.5V628.2M430.0 611.3V631.3M430.5 615.6V628.2M431.0 617.1V626.6M431.5 619.1V629.2M432.0 617.7V628.2M432.5 614.9V629.4M433.0 615.3V627.9M433.5 617.9V632.0M434.0 617.7V626.0M434.5 617.9V631.1M435.0 618.5V632.3M435.5 616.5V630.6M436.0 610.3V634.3M436.5 614.7V628.3M437.0 614.4V631.8M437.5 611.1V629.4M438.0 615.8V627.4M438.5 614.9V626.4M439.0 607.2V628.1M439.5 610.1V631.2M440.0 602.3V640.3M440.5 606.8V629.0M441.0 613.2V630.6M441.5 612.5V629.3M442.0 616.2V628.2M442.5 615.7V628.6M443.0 614.1V627.5M443.5 616.6V626.3M444.0 618.7V627.7M444.5 614.0V628.3M445.0 618.4V630.1M445.5 619.5V628.9M446.0 611.5V628.7M446.5 618.0V626.0M447.0 618.2V628.5M447.5 618.8V625.4M448.0 618.3V626.3M448.5 618.1V626.0M449.0 617.9V626.2M449.5 617.5V626.1M450.0 618.5V628.1M450.5 619.9V626.0M451.0 617.4V627.9M451.5 617.5V628.6M452.0 618.6V625.0M452.5 617.9V625.6M453.0 617.6V626.6M453.5 618.2V625.3M454.0 619.1V626.0M454.5 615.4V625.8M455.0 619.3V624.6M455.5 616.2V627.2M456.0 619.0V627.3M456.5 618.0V624.9M457.0 619.6V626.5M457.5 618.3V626.9M458.0 618.3V626.7M458.5 618.9V624.4M459.0 618.9V628.9M459.5 619.4V626.6M460.0 616.7V624.9M460.5 616.3V625.1M461.0 617.2V626.3M461.5 618.1V624.9M462.0 618.5V625.8M462.5 618.2V632.9M463.0 614.3V626.9M463.5 613.7V626.0M464.0 616.9V630.7M464.5 618.3V628.3M465.0 615.6V629.7M465.5 618.3V629.7M466.0 615.0V625.6M466.5 612.4V633.9M467.0 613.6V629.8M467.5 616.8V627.0M468.0 611.3V631.2M468.5 616.2V628.6M469.0 608.3V632.3M469.5 611.7V630.2M470.0 614.0V625.9M470.5 613.7V627.0M471.0 609.8V626.4M471.5 616.8V630.2M472.0 615.5V627.7M472.5 618.0V627.1M473.0 612.0V629.5M473.5 614.6V628.2M474.0 617.3V628.5M474.5 618.1V629.0M475.0 615.0V632.1M475.5 616.4V632.9M476.0 612.3V642.3M476.5 618.4V633.7M477.0 617.0V633.9M477.5 619.1V626.7M478.0 619.8V626.5M478.5 619.1V625.4M479.0 616.4V625.4M479.5 614.8V625.4M480.0 619.7V624.7M480.5 618.9V626.0M481.0 617.7V625.7M481.5 617.6V626.3M482.0 616.7V625.7M482.5 618.5V626.1M483.0 618.8V626.5M483.5 619.4V624.8M484.0 619.8V624.7M484.5 619.7V625.7M485.0 618.5V625.9M485.5 619.2V625.3M486.0 619.9V626.2M486.5 618.8V625.2M487.0 618.6V624.9M487.5 618.8V624.7M488.0 617.9V625.4M488.5 620.0V625.2M489.0 619.4V626.0M489.5 618.0V624.3M490.0 619.7V625.0M490.5 618.6V626.0M491.0 620.0V625.0M491.5 618.2V627.2M492.0 617.7V626.1M492.5 617.5V627.6M493.0 618.9V624.4M493.5 617.5V628.4M494.0 616.5V627.6M494.5 619.5V625.8M495.0 616.4V626.7M495.5 619.1V624.9M496.0 619.3V627.0M496.5 618.2V626.2M497.0 618.8V624.7M497.5 618.8V625.3M498.0 613.6V625.5M498.5 618.3V625.6M499.0 617.7V626.6M499.5 617.1V628.0M500.0 617.4V625.5M500.5 619.0V626.5M501.0 618.3V625.3M501.5 615.1V626.9M502.0 617.9V625.7M502.5 618.6V624.6M503.0 615.3V626.3M503.5 614.9V626.0M504.0 619.2V626.7M504.5 617.6V626.8M505.0 615.5V626.7M505.5 618.7V626.5M506.0 618.3V629.5M506.5 619.4V625.1M507.0 618.6V625.2M507.5 619.5V625.7M508.0 615.7V626.0M508.5 615.9V626.3M509.0 618.3V625.0M509.5 618.4V627.2M510.0 618.3V625.6M510.5 619.9V626.0M511.0 615.6V625.5M511.5 618.3V625.2M512.0 617.1V628.4M512.5 616.5V625.1M513.0 619.6V627.9M513.5 618.6V626.1M514.0 618.0V625.4M514.5 614.1V626.9M515.0 618.5V628.2M515.5 619.5V624.5M516.0 617.8V626.4M516.5 618.6V627.6M517.0 614.3V632.3M517.5 616.5V627.1M518.0 615.8V626.0M518.5 616.8V626.0M519.0 617.9V628.3M519.5 619.7V627.7M520.0 619.2V625.1M520.5 617.5V626.8M521.0 618.9V629.7M521.5 619.9V625.7M522.0 619.7V625.9M522.5 617.4V626.9M523.0 616.5V625.3M523.5 618.8V626.8M524.0 619.7V626.6M524.5 619.5V624.5M525.0 618.6V627.9M525.5 618.4V625.2M526.0 619.6V628.3M526.5 618.9V626.3M527.0 619.2V626.5M527.5 619.9V626.4M528.0 619.8V625.7M528.5 619.9V625.7M529.0 619.0V625.2M529.5 619.7V625.3M530.0 616.9V624.2M530.5 619.2V626.0M531.0 619.1V625.1M531.5 619.7V625.4M532.0 618.9V624.7M532.5 618.4V625.6M533.0 620.0V624.6M533.5 617.7V624.5M534.0 619.0V626.0M534.5 617.8V625.6M535.0 619.1V624.4M535.5 618.3V625.3M536.0 619.8V626.4M536.5 619.7V626.6M537.0 619.9V626.6M537.5 618.4V625.1M538.0 618.1V627.3M538.5 619.1V625.0M539.0 619.3V627.7M539.5 620.2V625.6M540.0 618.6V625.2M540.5 619.6V624.7M541.0 617.4V625.7M541.5 619.5V626.6M542.0 617.7V626.2M542.5 617.6V624.7M543.0 618.0V624.7M543.5 617.7V625.0M544.0 619.4V626.0M544.5 618.9V627.1M545.0 618.9V625.1M545.5 618.0V626.7M546.0 619.7V625.1M546.5 619.1V624.7M547.0 619.6V624.6M547.5 620.1V625.1M548.0 615.6V625.2M548.5 619.1V625.7M549.0 616.2V626.3M549.5 617.4V625.5M550.0 616.6V625.8M550.5 618.4V627.4M551.0 613.8V628.1M551.5 618.2V628.0M552.0 618.0V626.8M552.5 614.0V629.1M553.0 612.3V632.3M553.5 614.1V626.8M554.0 616.8V628.2M554.5 618.9V626.0M555.0 619.0V628.9M555.5 617.8V625.4M556.0 615.4V629.8M556.5 618.2V625.3M557.0 615.7V625.9M557.5 618.0V626.4M558.0 618.3V625.4M558.5 617.7V627.5M559.0 618.8V624.9M559.5 616.1V625.5M560.0 617.6V625.7M560.5 618.2V627.2M561.0 618.9V626.2M561.5 617.0V625.8M562.0 616.3V628.0M562.5 619.5V624.5M563.0 619.7V626.2M563.5 619.9V628.2M564.0 617.7V625.6M564.5 616.4V627.8M565.0 619.3V625.4M565.5 618.5V627.3M566.0 619.5V627.2M566.5 618.4V624.6M567.0 619.5V625.8M567.5 618.1V625.7M568.0 619.3V625.7M568.5 618.9V627.2M569.0 617.1V625.1M569.5 617.8V628.4M570.0 616.7V625.9M570.5 617.0V627.4M571.0 619.2V628.2M571.5 619.4V625.9M572.0 616.8V627.8M572.5 618.5V625.8M573.0 619.4V627.9M573.5 618.4V625.0M574.0 619.5V627.1M574.5 619.4V625.2M575.0 618.1V624.5M575.5 619.4V626.5M576.0 618.5V625.5M576.5 617.8V625.9M577.0 619.3V627.3M577.5 619.0V626.9M578.0 617.3V626.6M578.5 618.5V625.7M579.0 617.9V624.6M579.5 619.8V626.7M580.0 616.5V627.5M580.5 618.0V626.1M589.5 619.2V625.0M590.0 618.3V626.0M590.5 619.8V624.8M591.0 619.2V624.7M591.5 618.4V625.0M592.0 618.7V627.5M592.5 620.0V625.1M593.0 619.5V625.4M593.5 618.4V625.0M594.0 618.4V624.6M594.5 618.5V625.5M595.0 618.7V625.2M595.5 618.5V625.0M596.0 619.0V625.6M596.5 618.8V624.6M597.0 619.6V625.3M597.5 619.4V626.3M598.0 619.2V624.8M598.5 619.5V625.2M599.0 620.3V626.0M599.5 619.2V625.1M600.0 618.3V624.4M600.5 619.9V625.8M601.0 615.9V625.0M601.5 619.4V628.0M602.0 614.9V627.4M602.5 616.3V627.8M603.0 618.3V626.5M603.5 616.7V627.2M604.0 619.4V628.4M604.5 615.9V628.3M605.0 615.4V630.0M605.5 617.1V629.1M606.0 609.3V636.3M606.5 617.6V629.0M607.0 617.1V626.7M607.5 615.1V626.1M608.0 619.0V629.1M608.5 618.4V626.0M609.0 616.8V627.2M609.5 618.6V628.7M610.0 618.2V627.3M610.5 618.8V627.7M611.0 619.3V626.0M611.5 619.1V627.8M612.0 617.7V625.7M612.5 616.7V625.5M613.0 619.0V625.1M613.5 619.3V625.1M614.0 617.7V625.2M614.5 617.6V627.8M615.0 619.5V625.8M615.5 619.1V624.4M616.0 618.4V625.2M616.5 619.4V625.5M617.0 620.1V625.8M617.5 619.4V625.1"/>
<path d="M580.6 622.3H589.2" stroke="#333" stroke-width="0.7"/>
</g>
<defs><filter id="spec" x="740" y="460" width="415" height="180" filterUnits="userSpaceOnUse" color-interpolation-filters="sRGB"><feComponentTransfer><feFuncR type="table" tableValues="0.298 0.298 0.298 0.298 0.298 0.298 0.298 0.298 0.292 0.285 0.278 0.272 0.265 0.259 0.246 0.233 0.220 0.207 0.193 0.180 0.178 0.175 0.173 0.170 0.167 0.165 0.166 0.167 0.168 0.169 0.170 0.171 0.173 0.196 0.218 0.241 0.264 0.287 0.310 0.333 0.344 0.356 0.367 0.378 0.389 0.400 0.400 0.400 0.400 0.400 0.400 0.400 0.400 0.400 0.400 0.400 0.400 0.400 0.437 0.475 0.512 0.549 0.608 0.667 0.725 0.784 0.820 0.855 0.890 0.925 0.925 0.925 0.925 0.925 0.925 0.925 0.925 0.925 0.925 0.909 0.893 0.876 0.860 0.843 0.816 0.788 0.761 0.733 0.706 0.686 0.667 0.647 0.627 0.632 0.637 0.642 0.647 0.721 0.794 0.868 0.941"/><feFuncG type="table" tableValues="0.686 0.686 0.686 0.686 0.686 0.686 0.686 0.686 0.675 0.664 0.653 0.642 0.631 0.620 0.603 0.586 0.569 0.552 0.535 0.518 0.511 0.505 0.498 0.492 0.485 0.478 0.483 0.487 0.492 0.496 0.501 0.505 0.510 0.563 0.616 0.669 0.723 0.776 0.829 0.882 0.896 0.910 0.924 0.937 0.951 0.965 0.965 0.965 0.965 0.965 0.965 0.965 0.965 0.965 0.965 0.965 0.965 0.965 0.910 0.855 0.800 0.745 0.652 0.559 0.466 0.373 0.321 0.269 0.217 0.165 0.164 0.163 0.162 0.161 0.160 0.159 0.159 0.158 0.157 0.157 0.157 0.157 0.157 0.157 0.153 0.149 0.145 0.141 0.137 0.132 0.127 0.123 0.118 0.132 0.147 0.162 0.176 0.348 0.520 0.691 0.863"/><feFuncB type="table" tableValues="0.965 0.965 0.965 0.965 0.965 0.965 0.965 0.965 0.938 0.911 0.884 0.858 0.831 0.804 0.760 0.716 0.673 0.629 0.585 0.541 0.482 0.424 0.365 0.306 0.247 0.188 0.184 0.179 0.175 0.170 0.166 0.161 0.157 0.165 0.174 0.182 0.190 0.199 0.207 0.216 0.220 0.225 0.229 0.234 0.239 0.243 0.243 0.243 0.243 0.243 0.243 0.243 0.243 0.243 0.243 0.243 0.243 0.243 0.226 0.210 0.193 0.176 0.168 0.159 0.150 0.141 0.141 0.141 0.141 0.141 0.144 0.146 0.149 0.152 0.154 0.157 0.159 0.162 0.165 0.218 0.271 0.325 0.378 0.431 0.502 0.573 0.643 0.714 0.784 0.824 0.863 0.902 0.941 0.951 0.961 0.971 0.980 0.985 0.990 0.995 1.000"/></feComponentTransfer></filter><filter id="b1" x="740" y="460" width="415" height="180" filterUnits="userSpaceOnUse"><feGaussianBlur stdDeviation="1.5"/></filter><filter id="b2" x="740" y="460" width="415" height="180" filterUnits="userSpaceOnUse"><feGaussianBlur stdDeviation="2"/></filter><filter id="b3" x="740" y="460" width="415" height="180" filterUnits="userSpaceOnUse"><feGaussianBlur stdDeviation="3"/></filter><clipPath id="specclip"><rect x="753" y="471" width="389.3" height="157.5"/></clipPath><linearGradient id="cbar" x1="0" y1="0" x2="0" y2="1"><stop offset="0" stop-color="rgb(246,238,255)"/><stop offset="0.05" stop-color="rgb(200,150,250)"/><stop offset="0.10" stop-color="rgb(152,32,245)"/><stop offset="0.33" stop-color="rgb(160,35,220)"/><stop offset="0.43" stop-color="rgb(180,40,150)"/><stop offset="0.53" stop-color="rgb(200,40,90)"/><stop offset="0.65" stop-color="rgb(226,40,45)"/><stop offset="0.75" stop-color="rgb(232,50,35)"/><stop offset="0.785" stop-color="rgb(150,150,40)"/><stop offset="0.82" stop-color="rgb(100,245,60)"/><stop offset="0.88" stop-color="rgb(100,245,60)"/><stop offset="0.92" stop-color="rgb(45,130,40)"/><stop offset="0.96" stop-color="rgb(40,110,40)"/><stop offset="0.98" stop-color="rgb(76,175,246)"/><stop offset="1" stop-color="rgb(76,175,246)"/></linearGradient></defs>
<g clip-path="url(#specclip)"><g filter="url(#spec)">
<rect x="735" y="455" width="425" height="190" fill="#000"/>
<g filter="url(#b2)">
<ellipse cx="821.8" cy="542" rx="12" ry="3.6" fill="rgb(43,43,43)"/>
<ellipse cx="911.7" cy="542" rx="11" ry="3.6" fill="rgb(42,42,42)"/>
<ellipse cx="803" cy="562.5" rx="9" ry="3" fill="rgb(42,42,42)"/>
<ellipse cx="803" cy="571" rx="9" ry="3" fill="rgb(42,42,42)"/>
<ellipse cx="877" cy="508.7" rx="7" ry="2.5" fill="rgb(38,38,38)"/>
<ellipse cx="861" cy="531" rx="13" ry="16" fill="rgb(45,45,45)"/>
<ellipse cx="897" cy="570" rx="14" ry="9" fill="rgb(58,58,58)"/>
<ellipse cx="1105" cy="616" rx="22" ry="4.5" fill="rgb(42,42,42)" transform="rotate(10 1105 616)"/>
<ellipse cx="1030" cy="581" rx="12" ry="2.6" fill="rgb(39,39,39)"/>
<ellipse cx="1067" cy="620.5" rx="15" ry="2.8" fill="rgb(48,48,48)"/>
<ellipse cx="1125" cy="600" rx="4" ry="2" fill="rgb(38,38,38)"/>
<ellipse cx="1135" cy="612" rx="5" ry="3" fill="rgb(38,38,38)"/>
<ellipse cx="1090" cy="611" rx="10" ry="3.5" fill="rgb(39,39,39)"/>
<ellipse cx="1008" cy="593" rx="6" ry="4" fill="rgb(45,45,45)"/>
<ellipse cx="1004" cy="606.5" rx="5" ry="3" fill="rgb(43,43,43)"/>
<ellipse cx="820" cy="598" rx="32" ry="10" fill="rgb(45,45,45)"/>
<ellipse cx="1040" cy="600" rx="45" ry="10" fill="rgb(40,40,40)"/>
<ellipse cx="960" cy="586" rx="22" ry="8" fill="rgb(48,48,48)"/>
<ellipse cx="830" cy="612" rx="14" ry="6" fill="rgb(43,43,43)"/>
</g>
<g filter="url(#b3)">
<polyline points="794,594.2 801,595.2 807,597.6" fill="none" stroke="rgb(38,38,38)" stroke-width="18.6" stroke-linecap="round" stroke-linejoin="round"/>
<polyline points="807,598 813,600.4 820.5,601.8 829,600" fill="none" stroke="rgb(38,38,38)" stroke-width="20.6" stroke-linecap="round" stroke-linejoin="round"/>
<polyline points="829,600 838,596 846,593.8" fill="none" stroke="rgb(38,38,38)" stroke-width="19.6" stroke-linecap="round" stroke-linejoin="round"/>
<polyline points="849.5,577 863,576.3 876,577.6" fill="none" stroke="rgb(38,38,38)" stroke-width="24.2" stroke-linecap="round" stroke-linejoin="round"/>
<polyline points="876,578.6 885,580.6 900,583.1 913.5,585.8" fill="none" stroke="rgb(38,38,38)" stroke-width="20.6" stroke-linecap="round" stroke-linejoin="round"/>
<polyline points="871.6,580 871.8,594" fill="none" stroke="rgb(38,38,38)" stroke-width="18.6" stroke-linecap="round" stroke-linejoin="round"/>
<rect x="839" y="583.5" width="48" height="36.5" rx="14.5" fill="rgb(38,38,38)"/>
<polygon points="870.5,586 879.8,580.5 896.5,584.3 901.5,591.5 914,597.2 912,601.5 890.8,604.5 879,600 877,592" fill="rgb(38,38,38)" stroke="rgb(38,38,38)" stroke-width="15" stroke-linejoin="round"/>
<ellipse cx="921" cy="600" rx="19.3" ry="17.5" fill="rgb(38,38,38)"/>
<polyline points="929,599.8 938,599.8" fill="none" stroke="rgb(38,38,38)" stroke-width="17.4" stroke-linecap="round" stroke-linejoin="round"/>
<polygon points="879,600 912,598 913,606 905,611 893,613.5 880,612" fill="rgb(38,38,38)" stroke="rgb(38,38,38)" stroke-width="15" stroke-linejoin="round"/>
<polyline points="869,612 869,621" fill="none" stroke="rgb(38,38,38)" stroke-width="24.6" stroke-linecap="round" stroke-linejoin="round"/>
<polyline points="873,618.5 890,619.3 900,620.3 912,622 918,623" fill="none" stroke="rgb(38,38,38)" stroke-width="19.8" stroke-linecap="round" stroke-linejoin="round"/>
<ellipse cx="900" cy="620" rx="15.5" ry="11.1" fill="rgb(38,38,38)"/>
<ellipse cx="897" cy="612" rx="13.5" ry="13.5" fill="rgb(38,38,38)"/>
<polyline points="924,607 926,615" fill="none" stroke="rgb(38,38,38)" stroke-width="20" stroke-linecap="round" stroke-linejoin="round"/>
<ellipse cx="931.5" cy="578.4" rx="13.8" ry="10.5" fill="rgb(38,38,38)"/>
<ellipse cx="931.5" cy="584.3" rx="12.8" ry="9.9" fill="rgb(38,38,38)"/>
<ellipse cx="931.5" cy="581.4" rx="11.9" ry="10.5" fill="rgb(38,38,38)"/>
<polygon points="944.7,599.4 952,595.2 965.8,593.4 976.8,594.8 980,597.8 978.2,602 974.5,606.5 969.5,609.8 962.2,611.2 956.7,609 950.2,606.4 944,607.4 941,604" fill="rgb(38,38,38)" stroke="rgb(38,38,38)" stroke-width="15" stroke-linejoin="round"/>
<polyline points="951,606.5 944,610 938,613.5" fill="none" stroke="rgb(38,38,38)" stroke-width="20" stroke-linecap="round" stroke-linejoin="round"/>
<ellipse cx="936.3" cy="620" rx="20.1" ry="14.1" fill="rgb(38,38,38)"/>
<ellipse cx="1062" cy="605.2" rx="14.5" ry="8.5" fill="rgb(38,38,38)" transform="rotate(-10 1062 605.2)"/>
<ellipse cx="1002.5" cy="621.3" rx="13.5" ry="8.3" fill="rgb(38,38,38)" transform="rotate(8 1002.5 621.3)"/>
<ellipse cx="993.3" cy="616.5" rx="10" ry="8.3" fill="rgb(38,38,38)"/>
<ellipse cx="858" cy="529" rx="10" ry="12.5" fill="rgb(33,33,33)"/>
<ellipse cx="866.5" cy="541.5" rx="12.5" ry="6.9" fill="rgb(33,33,33)"/>
<ellipse cx="855" cy="518.5" rx="8.5" ry="6.7" fill="rgb(33,33,33)"/>
<ellipse cx="881.3" cy="560.9" rx="13" ry="6.5" fill="rgb(33,33,33)"/>
<ellipse cx="973.4" cy="583.5" rx="8" ry="6.7" fill="rgb(33,33,33)"/>
<ellipse cx="1025" cy="594" rx="23.5" ry="6.7" fill="rgb(33,33,33)" transform="rotate(4 1025 594)"/>
<ellipse cx="1064" cy="605.5" rx="21.5" ry="8.1" fill="rgb(33,33,33)" transform="rotate(-8 1064 605.5)"/>
<ellipse cx="1041" cy="611.6" rx="13" ry="6.5" fill="rgb(33,33,33)"/>
<polyline points="981,618 992,617.5 1003,621 1012,622" fill="none" stroke="rgb(33,33,33)" stroke-width="14" stroke-linecap="round" stroke-linejoin="round"/>
<ellipse cx="793" cy="590.6" rx="8.5" ry="7" fill="rgb(33,33,33)"/>
<ellipse cx="815.5" cy="592.3" rx="8.5" ry="6.7" fill="rgb(33,33,33)"/>
<ellipse cx="983" cy="597.5" rx="8.5" ry="7" fill="rgb(33,33,33)"/>
<ellipse cx="973.6" cy="623.6" rx="8" ry="6.1" fill="rgb(33,33,33)"/>
<ellipse cx="903" cy="575" rx="13.5" ry="8.5" fill="rgb(33,33,33)"/>
<ellipse cx="942" cy="590" rx="13.5" ry="8.5" fill="rgb(33,33,33)"/>
<ellipse cx="934" cy="606.5" rx="9.5" ry="8.5" fill="rgb(33,33,33)"/>
<ellipse cx="906" cy="626.8" rx="21.5" ry="6.5" fill="rgb(33,33,33)"/>
<ellipse cx="849" cy="612" rx="9.5" ry="10.5" fill="rgb(33,33,33)"/>
<ellipse cx="886" cy="569" rx="12.5" ry="8.5" fill="rgb(33,33,33)"/>
</g>
<g filter="url(#b1)">
<polyline points="794,594.2 801,595.2 807,597.6" fill="none" stroke="rgb(51,51,51)" stroke-width="12.8" stroke-linecap="round" stroke-linejoin="round"/>
<polyline points="807,598 813,600.4 820.5,601.8 829,600" fill="none" stroke="rgb(51,51,51)" stroke-width="14.8" stroke-linecap="round" stroke-linejoin="round"/>
<polyline points="829,600 838,596 846,593.8" fill="none" stroke="rgb(51,51,51)" stroke-width="13.8" stroke-linecap="round" stroke-linejoin="round"/>
<polyline points="849.5,577 863,576.3 876,577.6" fill="none" stroke="rgb(51,51,51)" stroke-width="18.4" stroke-linecap="round" stroke-linejoin="round"/>
<polyline points="876,578.6 885,580.6 900,583.1 913.5,585.8" fill="none" stroke="rgb(51,51,51)" stroke-width="14.8" stroke-linecap="round" stroke-linejoin="round"/>
<polyline points="871.6,580 871.8,594" fill="none" stroke="rgb(51,51,51)" stroke-width="12.8" stroke-linecap="round" stroke-linejoin="round"/>
<rect x="841.9" y="586.4" width="42.2" height="30.7" rx="11.6" fill="rgb(51,51,51)"/>
<polygon points="870.5,586 879.8,580.5 896.5,584.3 901.5,591.5 914,597.2 912,601.5 890.8,604.5 879,600 877,592" fill="rgb(51,51,51)" stroke="rgb(51,51,51)" stroke-width="9.2" stroke-linejoin="round"/>
<ellipse cx="921" cy="600" rx="16.4" ry="14.6" fill="rgb(51,51,51)"/>
<polyline points="929,599.8 938,599.8" fill="none" stroke="rgb(51,51,51)" stroke-width="11.6" stroke-linecap="round" stroke-linejoin="round"/>
<polygon points="879,600 912,598 913,606 905,611 893,613.5 880,612" fill="rgb(51,51,51)" stroke="rgb(51,51,51)" stroke-width="9.2" stroke-linejoin="round"/>
<polyline points="869,612 869,621" fill="none" stroke="rgb(51,51,51)" stroke-width="18.8" stroke-linecap="round" stroke-linejoin="round"/>
<polyline points="873,618.5 890,619.3 900,620.3 912,622 918,623" fill="none" stroke="rgb(51,51,51)" stroke-width="14" stroke-linecap="round" stroke-linejoin="round"/>
<ellipse cx="900" cy="620" rx="12.6" ry="8.2" fill="rgb(51,51,51)"/>
<ellipse cx="897" cy="612" rx="10.6" ry="10.6" fill="rgb(51,51,51)"/>
<polyline points="924,607 926,615" fill="none" stroke="rgb(51,51,51)" stroke-width="14.2" stroke-linecap="round" stroke-linejoin="round"/>
<ellipse cx="931.5" cy="578.4" rx="10.9" ry="7.6" fill="rgb(51,51,51)"/>
<ellipse cx="931.5" cy="584.3" rx="9.9" ry="7" fill="rgb(51,51,51)"/>
<ellipse cx="931.5" cy="581.4" rx="9" ry="7.6" fill="rgb(51,51,51)"/>
<polygon points="944.7,599.4 952,595.2 965.8,593.4 976.8,594.8 980,597.8 978.2,602 974.5,606.5 969.5,609.8 962.2,611.2 956.7,609 950.2,606.4 944,607.4 941,604" fill="rgb(51,51,51)" stroke="rgb(51,51,51)" stroke-width="9.2" stroke-linejoin="round"/>
<polyline points="951,606.5 944,610 938,613.5" fill="none" stroke="rgb(51,51,51)" stroke-width="14.2" stroke-linecap="round" stroke-linejoin="round"/>
<ellipse cx="936.3" cy="620" rx="17.2" ry="11.2" fill="rgb(51,51,51)"/>
<ellipse cx="1062" cy="605.2" rx="11.6" ry="5.6" fill="rgb(51,51,51)" transform="rotate(-10 1062 605.2)"/>
<ellipse cx="1002.5" cy="621.3" rx="10.6" ry="5.4" fill="rgb(51,51,51)" transform="rotate(8 1002.5 621.3)"/>
<ellipse cx="993.3" cy="616.5" rx="7.1" ry="5.4" fill="rgb(51,51,51)"/>
<ellipse cx="858" cy="529" rx="7.5" ry="10" fill="rgb(48,48,48)"/>
<ellipse cx="866.5" cy="541.5" rx="10" ry="4.4" fill="rgb(48,48,48)"/>
<ellipse cx="855" cy="518.5" rx="6" ry="4.2" fill="rgb(48,48,48)"/>
<ellipse cx="881.3" cy="560.9" rx="10.5" ry="4" fill="rgb(48,48,48)"/>
<ellipse cx="973.4" cy="583.5" rx="5.5" ry="4.2" fill="rgb(48,48,48)"/>
<ellipse cx="1025" cy="594" rx="21" ry="4.2" fill="rgb(48,48,48)" transform="rotate(4 1025 594)"/>
<ellipse cx="1064" cy="605.5" rx="19" ry="5.6" fill="rgb(48,48,48)" transform="rotate(-8 1064 605.5)"/>
<ellipse cx="1041" cy="611.6" rx="10.5" ry="4" fill="rgb(48,48,48)"/>
<polyline points="981,618 992,617.5 1003,621 1012,622" fill="none" stroke="rgb(48,48,48)" stroke-width="9" stroke-linecap="round" stroke-linejoin="round"/>
<ellipse cx="793" cy="590.6" rx="6" ry="4.5" fill="rgb(48,48,48)"/>
<ellipse cx="815.5" cy="592.3" rx="6" ry="4.2" fill="rgb(48,48,48)"/>
<ellipse cx="983" cy="597.5" rx="6" ry="4.5" fill="rgb(48,48,48)"/>
<ellipse cx="973.6" cy="623.6" rx="5.5" ry="3.6" fill="rgb(48,48,48)"/>
<ellipse cx="903" cy="575" rx="11" ry="6" fill="rgb(48,48,48)"/>
<ellipse cx="942" cy="590" rx="11" ry="6" fill="rgb(48,48,48)"/>
<ellipse cx="934" cy="606.5" rx="7" ry="6" fill="rgb(48,48,48)"/>
<ellipse cx="906" cy="626.8" rx="19" ry="4" fill="rgb(48,48,48)"/>
<ellipse cx="849" cy="612" rx="7" ry="8" fill="rgb(48,48,48)"/>
<ellipse cx="886" cy="569" rx="10" ry="6" fill="rgb(48,48,48)"/>
<polyline points="794,594.2 801,595.2 807,597.6" fill="none" stroke="rgb(76,76,76)" stroke-width="7.8" stroke-linecap="round" stroke-linejoin="round"/>
<polyline points="807,598 813,600.4 820.5,601.8 829,600" fill="none" stroke="rgb(76,76,76)" stroke-width="9.8" stroke-linecap="round" stroke-linejoin="round"/>
<polyline points="829,600 838,596 846,593.8" fill="none" stroke="rgb(76,76,76)" stroke-width="8.8" stroke-linecap="round" stroke-linejoin="round"/>
<polyline points="849.5,577 863,576.3 876,577.6" fill="none" stroke="rgb(76,76,76)" stroke-width="13.4" stroke-linecap="round" stroke-linejoin="round"/>
<polyline points="876,578.6 885,580.6 900,583.1 913.5,585.8" fill="none" stroke="rgb(76,76,76)" stroke-width="9.8" stroke-linecap="round" stroke-linejoin="round"/>
<polyline points="871.6,580 871.8,594" fill="none" stroke="rgb(76,76,76)" stroke-width="7.8" stroke-linecap="round" stroke-linejoin="round"/>
<rect x="844.4" y="588.9" width="37.2" height="25.7" rx="9.1" fill="rgb(76,76,76)"/>
<polygon points="870.5,586 879.8,580.5 896.5,584.3 901.5,591.5 914,597.2 912,601.5 890.8,604.5 879,600 877,592" fill="rgb(76,76,76)" stroke="rgb(76,76,76)" stroke-width="4.2" stroke-linejoin="round"/>
<ellipse cx="921" cy="600" rx="13.9" ry="12.1" fill="rgb(76,76,76)"/>
<polyline points="929,599.8 938,599.8" fill="none" stroke="rgb(76,76,76)" stroke-width="6.6" stroke-linecap="round" stroke-linejoin="round"/>
<polygon points="879,600 912,598 913,606 905,611 893,613.5 880,612" fill="rgb(76,76,76)" stroke="rgb(76,76,76)" stroke-width="4.2" stroke-linejoin="round"/>
<polyline points="869,612 869,621" fill="none" stroke="rgb(76,76,76)" stroke-width="13.8" stroke-linecap="round" stroke-linejoin="round"/>
<polyline points="873,618.5 890,619.3 900,620.3 912,622 918,623" fill="none" stroke="rgb(76,76,76)" stroke-width="9" stroke-linecap="round" stroke-linejoin="round"/>
<ellipse cx="900" cy="620" rx="10.1" ry="5.7" fill="rgb(76,76,76)"/>
<ellipse cx="897" cy="612" rx="8.1" ry="8.1" fill="rgb(76,76,76)"/>
<polyline points="924,607 926,615" fill="none" stroke="rgb(76,76,76)" stroke-width="9.2" stroke-linecap="round" stroke-linejoin="round"/>
<ellipse cx="931.5" cy="578.4" rx="8.4" ry="5.1" fill="rgb(76,76,76)"/>
<ellipse cx="931.5" cy="584.3" rx="7.4" ry="4.5" fill="rgb(76,76,76)"/>
<ellipse cx="931.5" cy="581.4" rx="6.5" ry="5.1" fill="rgb(76,76,76)"/>
<polygon points="944.7,599.4 952,595.2 965.8,593.4 976.8,594.8 980,597.8 978.2,602 974.5,606.5 969.5,609.8 962.2,611.2 956.7,609 950.2,606.4 944,607.4 941,604" fill="rgb(76,76,76)" stroke="rgb(76,76,76)" stroke-width="4.2" stroke-linejoin="round"/>
<polyline points="951,606.5 944,610 938,613.5" fill="none" stroke="rgb(76,76,76)" stroke-width="9.2" stroke-linecap="round" stroke-linejoin="round"/>
<ellipse cx="936.3" cy="620" rx="14.7" ry="8.7" fill="rgb(76,76,76)"/>
<ellipse cx="1062" cy="605.2" rx="9.1" ry="3.1" fill="rgb(76,76,76)" transform="rotate(-10 1062 605.2)"/>
<ellipse cx="1002.5" cy="621.3" rx="8.1" ry="2.9" fill="rgb(76,76,76)" transform="rotate(8 1002.5 621.3)"/>
<ellipse cx="993.3" cy="616.5" rx="4.6" ry="2.9" fill="rgb(76,76,76)"/>
<ellipse cx="858" cy="529" rx="5.5" ry="8" fill="rgb(84,84,84)"/>
<ellipse cx="866.5" cy="541.5" rx="8" ry="2.4" fill="rgb(82,82,82)"/>
<ellipse cx="855" cy="518.5" rx="4" ry="2.2" fill="rgb(56,56,56)"/>
<ellipse cx="881.3" cy="560.9" rx="8.5" ry="2" fill="rgb(82,82,82)"/>
<ellipse cx="973.4" cy="583.5" rx="3.5" ry="2.2" fill="rgb(69,69,69)"/>
<ellipse cx="1025" cy="594" rx="19" ry="2.2" fill="rgb(60,60,60)" transform="rotate(4 1025 594)"/>
<ellipse cx="1064" cy="605.5" rx="17" ry="3.6" fill="rgb(82,82,82)" transform="rotate(-8 1064 605.5)"/>
<ellipse cx="1041" cy="611.6" rx="8.5" ry="2" fill="rgb(74,74,74)"/>
<polyline points="981,618 992,617.5 1003,621 1012,622" fill="none" stroke="rgb(84,84,84)" stroke-width="5" stroke-linecap="round" stroke-linejoin="round"/>
<ellipse cx="793" cy="590.6" rx="4" ry="2.5" fill="rgb(76,76,76)"/>
<ellipse cx="815.5" cy="592.3" rx="4" ry="2.2" fill="rgb(71,71,71)"/>
<ellipse cx="983" cy="597.5" rx="4" ry="2.5" fill="rgb(71,71,71)"/>
<ellipse cx="973.6" cy="623.6" rx="3.5" ry="1.6" fill="rgb(64,64,64)"/>
<ellipse cx="903" cy="575" rx="9" ry="4" fill="rgb(61,61,61)"/>
<ellipse cx="942" cy="590" rx="9" ry="4" fill="rgb(61,61,61)"/>
<ellipse cx="934" cy="606.5" rx="5" ry="4" fill="rgb(66,66,66)"/>
<ellipse cx="906" cy="626.8" rx="17" ry="2" fill="rgb(71,71,71)"/>
<ellipse cx="849" cy="612" rx="5" ry="6" fill="rgb(51,51,51)"/>
<ellipse cx="886" cy="569" rx="8" ry="4" fill="rgb(56,56,56)"/>
<polyline points="794,594.2 801,595.2 807,597.6" fill="none" stroke="rgb(130,130,130)" stroke-width="2.5" stroke-linecap="round" stroke-linejoin="round"/>
<polyline points="807,598 813,600.4 820.5,601.8 829,600" fill="none" stroke="rgb(130,130,130)" stroke-width="4.5" stroke-linecap="round" stroke-linejoin="round"/>
<polyline points="829,600 838,596 846,593.8" fill="none" stroke="rgb(130,130,130)" stroke-width="3.5" stroke-linecap="round" stroke-linejoin="round"/>
<polyline points="849.5,577 863,576.3 876,577.6" fill="none" stroke="rgb(130,130,130)" stroke-width="8.1" stroke-linecap="round" stroke-linejoin="round"/>
<polyline points="876,578.6 885,580.6 900,583.1 913.5,585.8" fill="none" stroke="rgb(130,130,130)" stroke-width="4.5" stroke-linecap="round" stroke-linejoin="round"/>
<polyline points="871.6,580 871.8,594" fill="none" stroke="rgb(130,130,130)" stroke-width="2.5" stroke-linecap="round" stroke-linejoin="round"/>
<rect x="847.05" y="591.55" width="31.9" height="20.4" rx="6.45" fill="rgb(130,130,130)"/>
<polygon points="870.5,586 879.8,580.5 896.5,584.3 901.5,591.5 914,597.2 912,601.5 890.8,604.5 879,600 877,592" fill="rgb(130,130,130)"/>
<ellipse cx="921" cy="600" rx="11.25" ry="9.45" fill="rgb(130,130,130)"/>
<polyline points="929,599.8 938,599.8" fill="none" stroke="rgb(130,130,130)" stroke-width="1.3" stroke-linecap="round" stroke-linejoin="round"/>
<polygon points="879,600 912,598 913,606 905,611 893,613.5 880,612" fill="rgb(130,130,130)"/>
<polyline points="869,612 869,621" fill="none" stroke="rgb(130,130,130)" stroke-width="8.5" stroke-linecap="round" stroke-linejoin="round"/>
<polyline points="873,618.5 890,619.3 900,620.3 912,622 918,623" fill="none" stroke="rgb(130,130,130)" stroke-width="3.7" stroke-linecap="round" stroke-linejoin="round"/>
<ellipse cx="900" cy="620" rx="7.45" ry="3.05" fill="rgb(130,130,130)"/>
<ellipse cx="897" cy="612" rx="5.45" ry="5.45" fill="rgb(130,130,130)"/>
<polyline points="924,607 926,615" fill="none" stroke="rgb(130,130,130)" stroke-width="3.9" stroke-linecap="round" stroke-linejoin="round"/>
<ellipse cx="931.5" cy="578.4" rx="5.75" ry="2.45" fill="rgb(130,130,130)"/>
<ellipse cx="931.5" cy="584.3" rx="4.75" ry="1.85" fill="rgb(130,130,130)"/>
<ellipse cx="931.5" cy="581.4" rx="3.85" ry="2.45" fill="rgb(130,130,130)"/>
<polygon points="944.7,599.4 952,595.2 965.8,593.4 976.8,594.8 980,597.8 978.2,602 974.5,606.5 969.5,609.8 962.2,611.2 956.7,609 950.2,606.4 944,607.4 941,604" fill="rgb(130,130,130)"/>
<polyline points="951,606.5 944,610 938,613.5" fill="none" stroke="rgb(130,130,130)" stroke-width="3.9" stroke-linecap="round" stroke-linejoin="round"/>
<ellipse cx="936.3" cy="620" rx="12.05" ry="6.05" fill="rgb(130,130,130)"/>
<ellipse cx="1062" cy="605.2" rx="6.45" ry="0.45" fill="rgb(130,130,130)" transform="rotate(-10 1062 605.2)"/>
<ellipse cx="1002.5" cy="621.3" rx="5.45" ry="0.25" fill="rgb(130,130,130)" transform="rotate(8 1002.5 621.3)"/>
<ellipse cx="993.3" cy="616.5" rx="1.95" ry="0.25" fill="rgb(130,130,130)"/>
<ellipse cx="857.3" cy="585.8" rx="11.6" ry="3.3" fill="rgb(76,76,76)"/>
<ellipse cx="857.3" cy="585.8" rx="10.6" ry="2.3" fill="rgb(51,51,51)"/>
<ellipse cx="884" cy="612.2" rx="7.2" ry="3.4" fill="rgb(76,76,76)"/>
<ellipse cx="884" cy="612.2" rx="6.2" ry="2.4" fill="rgb(71,71,71)"/>
<ellipse cx="912.3" cy="615.2" rx="8.4" ry="5.2" fill="rgb(76,76,76)"/>
<ellipse cx="912.3" cy="615.2" rx="7.4" ry="4.2" fill="rgb(48,48,48)"/>
<ellipse cx="964" cy="603" rx="5" ry="3.8" fill="rgb(92,92,92)"/>
<ellipse cx="964" cy="603" rx="4" ry="2.8" fill="rgb(69,69,69)"/>
<ellipse cx="905" cy="589.4" rx="7" ry="1.9" fill="rgb(92,92,92)" transform="rotate(17 905 589.4)"/>
<ellipse cx="905" cy="589.4" rx="6" ry="0.9" fill="rgb(76,76,76)" transform="rotate(17 905 589.4)"/>
<ellipse cx="947.5" cy="597.5" rx="6" ry="1.9" fill="rgb(97,97,97)" transform="rotate(-20 947.5 597.5)"/>
<ellipse cx="947.5" cy="597.5" rx="5" ry="0.9" fill="rgb(76,76,76)" transform="rotate(-20 947.5 597.5)"/>
<rect x="850.3" y="594.6" width="26.6" height="14.6" rx="6" fill="rgb(194,194,194)"/>
<polygon points="873.3,586.2 879.8,583.5 894.5,587.2 898.2,593.8 910.5,598.3 890.8,601 881.7,597.4 879.8,590.2" fill="rgb(194,194,194)"/>
<polygon points="913,600 920.3,594 928.8,599.6 921,606.1" fill="rgb(196,196,196)"/>
<ellipse cx="920.8" cy="600.2" rx="6.3" ry="4.8" fill="rgb(194,194,194)"/>
<ellipse cx="863.5" cy="577.8" rx="9.6" ry="2" fill="rgb(204,204,204)" transform="rotate(-4 863.5 577.8)"/>
<ellipse cx="935.3" cy="620.6" rx="8.8" ry="2.5" fill="rgb(204,204,204)"/>
<ellipse cx="952.5" cy="600.2" rx="1.9" ry="1.9" fill="rgb(191,191,191)"/>
<ellipse cx="952.5" cy="604.8" rx="2.8" ry="1.3" fill="rgb(186,186,186)"/>
<ellipse cx="963" cy="609" rx="2.2" ry="1" fill="rgb(173,173,173)"/>
<ellipse cx="941" cy="617" rx="2.6" ry="1.6" fill="rgb(161,161,161)" transform="rotate(-30 941 617)"/>
<ellipse cx="878.9" cy="579.6" rx="1.8" ry="1.5" fill="rgb(189,189,189)"/>
<ellipse cx="900" cy="606.2" rx="2" ry="1.2" fill="rgb(173,173,173)"/>
<ellipse cx="900" cy="620" rx="2.4" ry="1.2" fill="rgb(173,173,173)"/>
<ellipse cx="858.7" cy="574.1" rx="1.8" ry="1.1" fill="rgb(173,173,173)"/>
<ellipse cx="899.5" cy="582.6" rx="2" ry="1" fill="rgb(168,168,168)"/>
<ellipse cx="864.3" cy="601.3" rx="8.1" ry="5.1" fill="rgb(242,242,242)"/>
<ellipse cx="889.8" cy="590.6" rx="4.4" ry="3.2" fill="rgb(242,242,242)"/>
<ellipse cx="890.6" cy="597" rx="5.8" ry="3" fill="rgb(242,242,242)"/>
<ellipse cx="889.8" cy="594" rx="3.3" ry="4" fill="rgb(235,235,235)"/>
<ellipse cx="920.6" cy="602" rx="2.4" ry="1.4" fill="rgb(222,222,222)"/>
</g>
</g></g>
<g fill="#f3e6ff"><circle cx="867.9" cy="602.7" r="0.9"/><circle cx="889.6" cy="590.2" r="0.9"/><circle cx="889.9" cy="597" r="0.9"/></g>
<g stroke="#2b2b2b" stroke-width="0.9" fill="none">
<rect x="753" y="471" width="389.3" height="157.5"/>
<path d="M753 628.4h5.5M1142.3 628.4h-5.5M753 612.7h3.2M1142.3 612.7h-3.2M753 596.9h5.5M1142.3 596.9h-5.5M753 581.2h3.2M1142.3 581.2h-3.2M753 565.4h5.5M1142.3 565.4h-5.5M753 549.7h3.2M1142.3 549.7h-3.2M753 534.0h5.5M1142.3 534.0h-5.5M753 518.2h3.2M1142.3 518.2h-3.2M753 502.5h5.5M1142.3 502.5h-5.5M753 486.7h3.2M1142.3 486.7h-3.2M753 471.0h5.5M1142.3 471.0h-5.5M759.3 628.4v-2.6M759.3 471v3.2M785.6 628.4v-5.5M785.6 471v4.6M811.9 628.4v-2.6M811.9 471v3.2M838.2 628.4v-5.5M838.2 471v4.6M864.5 628.4v-2.6M864.5 471v3.2M890.8 628.4v-5.5M890.8 471v4.6M917.1 628.4v-2.6M917.1 471v3.2M943.4 628.4v-5.5M943.4 471v4.6M969.8 628.4v-2.6M969.8 471v3.2M996.1 628.4v-5.5M996.1 471v4.6M1022.4 628.4v-2.6M1022.4 471v3.2M1048.7 628.4v-5.5M1048.7 471v4.6M1075.0 628.4v-2.6M1075.0 471v3.2M1101.3 628.4v-5.5M1101.3 471v4.6M1127.6 628.4v-2.6M1127.6 471v3.2"/>
</g>
<g fill="#231815" stroke="none"><rect x="833" y="492.2" width="197" height="1.5"/><polygon points="827.4,493 838,488.4 838,497.6"/><polygon points="1034.8,493 1024.2,488.4 1024.2,497.6"/></g>
<g font-family="Liberation Sans, sans-serif" fill="#231815" stroke="#231815" stroke-width="0.25">
<text x="907.2" y="490.5" font-size="15.4" textLength="34.5" lengthAdjust="spacingAndGlyphs">20s</text>
<text x="879" y="507.2" font-size="13.6" textLength="210" lengthAdjust="spacingAndGlyphs">The low frequency signal</text>
<text x="879" y="521.8" font-size="13.6" textLength="181" lengthAdjust="spacingAndGlyphs">continuous about 20s</text>
</g>
<g font-family="Liberation Sans, sans-serif" font-size="7.2" fill="#333">
<text x="751.5" y="631.0" text-anchor="end">0</text>
<text x="751.5" y="599.5" text-anchor="end">2</text>
<text x="751.5" y="568.0" text-anchor="end">4</text>
<text x="751.5" y="536.6" text-anchor="end">6</text>
<text x="751.5" y="505.1" text-anchor="end">8</text>
<text x="751.5" y="473.6" text-anchor="end">10</text>
<text x="785.6" y="637.2" text-anchor="middle">25</text>
<text x="838.2" y="637.2" text-anchor="middle">30</text>
<text x="890.8" y="637.2" text-anchor="middle">35</text>
<text x="943.4" y="637.2" text-anchor="middle">40</text>
<text x="996.1" y="637.2" text-anchor="middle">45</text>
<text x="1048.7" y="637.2" text-anchor="middle">50</text>
<text x="1101.3" y="637.2" text-anchor="middle">55</text>
</g>
<rect x="729.4" y="471" width="10.2" height="96" fill="url(#cbar)"/>
<path d="M729.3 471V567M729.3 487.5h6M729.3 526.9h6M729.3 507h3M729.3 546.5h3" stroke="#222" stroke-width="0.9" fill="none"/>
<path d="M729.3 512.2h10.3" stroke="#5a1a90" stroke-width="0.8"/>
<g font-family="Liberation Sans, sans-serif" font-size="7.2" fill="#333"><text x="727.5" y="490" text-anchor="end">4</text><text x="727.5" y="529.4" text-anchor="end">2</text><text transform="translate(720.5,567) rotate(-90)" font-size="5.6" textLength="21" lengthAdjust="spacingAndGlyphs">X 10+8</text></g>
</svg>
<div id="bar"></div>
<div class="t" id="title">Seismological signature of aseismic slip</div>
<div class="t h" style="left:264.9px;top:98.81px;letter-spacing:0.51px;">1. Repeating earthquakes</div>
<div class="t h" style="left:824px;top:108.11px;letter-spacing:0.52px;">2. Earthquake swarms</div>
<div class="t h" style="left:292.3px;top:374.41px;letter-spacing:0.79px;">3. Tectonic tremors</div>
<div class="t h" style="left:847.2px;top:404.81px;letter-spacing:0.52px;">2. Low-freq.&nbsp; swarms</div>
<div class="ln" style="left:219.5px;top:133px;width:354.5px"></div>
<div class="ln" style="left:764px;top:142px;width:353.5px"></div>
<div class="ln" style="left:226px;top:406px;width:354.5px"></div>
<div class="t ev" style="left:50px;top:168.78px;">Event 1</div>
<div class="t ev" style="left:50px;top:203.88px;">Event 2</div>
<div class="t ev" style="left:48.7px;top:238.78px;">Event 3</div>
<div class="t ev" style="left:48.7px;top:271.28px;">Event 4</div>
<div class="t ev" style="left:50px;top:306.08px;">Event 5</div>
<div class="t stn" style="left:46px;top:428.95px;">Station 1</div>
<div class="t stn" style="left:44px;top:476.65px;">Station 2</div>
<div class="t stn" style="left:45.4px;top:524.75px;">Station 3</div>
<div class="t stn" style="left:45.4px;top:567.85px;">Station 4</div>
<div class="t stn" style="left:45.4px;top:614.15px;">Station 5</div>
<div class="t " style="left:719.6px;top:232.10px;font-size:23px;transform:scaleX(1.22);transform-origin:0 0;-webkit-text-stroke:0.35px #000;">M</div>
<div class="t " style="left:931.6px;top:325.27px;font-size:24px;letter-spacing:0.85px;">time</div>
</body></html>
